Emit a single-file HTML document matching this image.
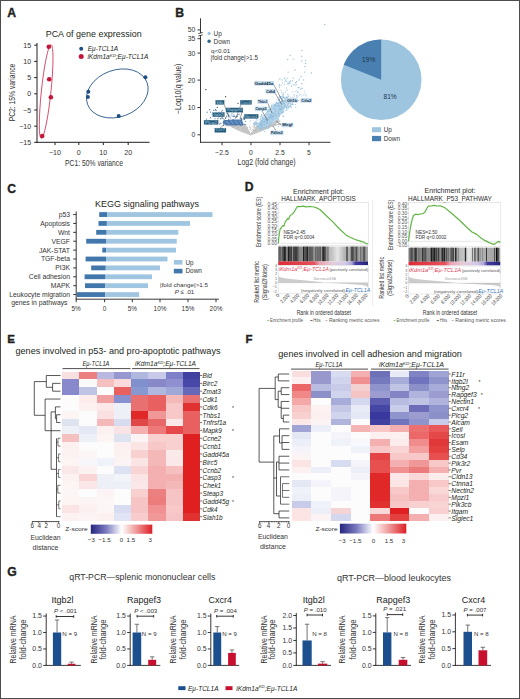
<!DOCTYPE html>
<html><head><meta charset="utf-8"><style>
html,body{margin:0;padding:0;background:#fff;overflow:hidden;width:520px;height:699px;}
svg{display:block;font-family:"Liberation Sans",sans-serif;}
</style></head><body>
<svg width="520" height="699" viewBox="0 0 520 699" fill="#231f20">
<rect x="0" y="0" width="520" height="699" fill="#fff"/>
<text x="7.20" y="17.00" font-size="12.20" font-weight="bold" stroke="#231f20" stroke-width="0.35">A</text>
<text x="93.70" y="36.80" font-size="8.60" text-anchor="middle" textLength="96.00" lengthAdjust="spacingAndGlyphs">PCA of gene expression</text>
<line x1="37.00" y1="43.00" x2="37.00" y2="142.80" stroke="#231f20" stroke-width="1.00" />
<line x1="36.50" y1="142.30" x2="149.50" y2="142.30" stroke="#231f20" stroke-width="1.00" />
<line x1="34.20" y1="45.20" x2="37.00" y2="45.20" stroke="#231f20" stroke-width="1.00" />
<text x="31.20" y="47.70" font-size="7.10" text-anchor="end" fill="#333">15</text>
<line x1="34.20" y1="61.40" x2="37.00" y2="61.40" stroke="#231f20" stroke-width="1.00" />
<text x="31.20" y="63.90" font-size="7.10" text-anchor="end" fill="#333">10</text>
<line x1="34.20" y1="77.60" x2="37.00" y2="77.60" stroke="#231f20" stroke-width="1.00" />
<text x="31.20" y="80.10" font-size="7.10" text-anchor="end" fill="#333">5</text>
<line x1="34.20" y1="93.80" x2="37.00" y2="93.80" stroke="#231f20" stroke-width="1.00" />
<text x="31.20" y="96.30" font-size="7.10" text-anchor="end" fill="#333">0</text>
<line x1="34.20" y1="110.00" x2="37.00" y2="110.00" stroke="#231f20" stroke-width="1.00" />
<text x="31.20" y="112.50" font-size="7.10" text-anchor="end" fill="#333">−5</text>
<line x1="34.20" y1="126.20" x2="37.00" y2="126.20" stroke="#231f20" stroke-width="1.00" />
<text x="31.20" y="128.70" font-size="7.10" text-anchor="end" fill="#333">−10</text>
<line x1="34.20" y1="142.30" x2="37.00" y2="142.30" stroke="#231f20" stroke-width="1.00" />
<text x="31.20" y="144.80" font-size="7.10" text-anchor="end" fill="#333">−15</text>
<line x1="55.00" y1="142.30" x2="55.00" y2="145.10" stroke="#231f20" stroke-width="1.00" />
<text x="55.00" y="154.60" font-size="7.10" text-anchor="middle" fill="#333">−10</text>
<line x1="78.80" y1="142.30" x2="78.80" y2="145.10" stroke="#231f20" stroke-width="1.00" />
<text x="78.80" y="154.60" font-size="7.10" text-anchor="middle" fill="#333">0</text>
<line x1="103.30" y1="142.30" x2="103.30" y2="145.10" stroke="#231f20" stroke-width="1.00" />
<text x="103.30" y="154.60" font-size="7.10" text-anchor="middle" fill="#333">10</text>
<line x1="128.20" y1="142.30" x2="128.20" y2="145.10" stroke="#231f20" stroke-width="1.00" />
<text x="128.20" y="154.60" font-size="7.10" text-anchor="middle" fill="#333">20</text>
<text x="94.00" y="166.20" font-size="8.40" text-anchor="middle" fill="#333" textLength="58.00" lengthAdjust="spacingAndGlyphs">PC1: 50% variance</text>
<text x="14.90" y="92.50" font-size="8.20" text-anchor="middle" fill="#333" textLength="57.70" lengthAdjust="spacingAndGlyphs" transform="rotate(-90.00 14.90 92.50)">PC2: 15% variance</text>
<ellipse cx="46.15" cy="91.5" rx="4.8" ry="47.15" transform="rotate(5.97 46.15 91.5)" fill="none" stroke="#cf3a5a" stroke-width="0.85"/>
<ellipse cx="117.3" cy="93.45" rx="31.7" ry="23.4" transform="rotate(-20.2 117.3 93.45)" fill="none" stroke="#2d5b8c" stroke-width="0.85"/>
<circle cx="48.80" cy="46.70" r="2.30" fill="#c3173a" />
<circle cx="49.20" cy="79.30" r="2.30" fill="#c3173a" />
<circle cx="50.90" cy="97.30" r="2.30" fill="#c3173a" />
<circle cx="42.20" cy="136.00" r="2.30" fill="#c3173a" />
<circle cx="88.30" cy="91.70" r="2.00" fill="#1f4e84" />
<circle cx="87.90" cy="96.90" r="2.00" fill="#1f4e84" />
<circle cx="118.70" cy="116.00" r="2.00" fill="#1f4e84" />
<circle cx="145.40" cy="77.20" r="2.00" fill="#1f4e84" />
<circle cx="81.20" cy="48.80" r="2.00" fill="#1f4e84" />
<text x="87.70" y="50.70" font-size="6.40" font-style="italic" textLength="30.50" lengthAdjust="spacingAndGlyphs">Eμ-TCL1A</text>
<circle cx="81.20" cy="56.60" r="2.50" fill="#c3173a" />
<text x="87.40" y="59.40" font-size="6.40" font-style="italic" textLength="61.00" lengthAdjust="spacingAndGlyphs">iKdm1a<tspan font-size="4.16" dy="-2.24">KD</tspan><tspan dy="2.24">;Eμ-TCL1A</tspan></text>
<text x="175.20" y="16.80" font-size="12.20" font-weight="bold" stroke="#231f20" stroke-width="0.35">B</text>
<line x1="200.50" y1="18.30" x2="200.50" y2="33.00" stroke="#231f20" stroke-width="0.90" />
<line x1="200.50" y1="35.40" x2="200.50" y2="142.70" stroke="#231f20" stroke-width="0.90" />
<line x1="198.30" y1="33.60" x2="202.70" y2="32.40" stroke="#231f20" stroke-width="0.80" />
<line x1="198.30" y1="36.00" x2="202.70" y2="34.80" stroke="#231f20" stroke-width="0.80" />
<line x1="200.10" y1="142.30" x2="330.50" y2="142.30" stroke="#231f20" stroke-width="0.90" />
<line x1="197.50" y1="29.90" x2="200.50" y2="29.90" stroke="#231f20" stroke-width="0.90" />
<text x="195.40" y="32.30" font-size="6.80" text-anchor="end" fill="#333">50</text>
<line x1="197.50" y1="38.70" x2="200.50" y2="38.70" stroke="#231f20" stroke-width="0.90" />
<text x="195.40" y="41.10" font-size="6.80" text-anchor="end" fill="#333">35</text>
<line x1="197.50" y1="53.10" x2="200.50" y2="53.10" stroke="#231f20" stroke-width="0.90" />
<text x="195.40" y="55.50" font-size="6.80" text-anchor="end" fill="#333">30</text>
<line x1="197.50" y1="80.10" x2="200.50" y2="80.10" stroke="#231f20" stroke-width="0.90" />
<text x="195.40" y="82.50" font-size="6.80" text-anchor="end" fill="#333">20</text>
<line x1="197.50" y1="107.50" x2="200.50" y2="107.50" stroke="#231f20" stroke-width="0.90" />
<text x="195.40" y="109.90" font-size="6.80" text-anchor="end" fill="#333">10</text>
<line x1="197.50" y1="134.80" x2="200.50" y2="134.80" stroke="#231f20" stroke-width="0.90" />
<text x="195.40" y="137.20" font-size="6.80" text-anchor="end" fill="#333">0</text>
<line x1="222.00" y1="142.30" x2="222.00" y2="145.30" stroke="#231f20" stroke-width="0.90" />
<text x="222.00" y="155.40" font-size="6.80" text-anchor="middle" fill="#333">−2.5</text>
<line x1="251.00" y1="142.30" x2="251.00" y2="145.30" stroke="#231f20" stroke-width="0.90" />
<text x="251.00" y="155.40" font-size="6.80" text-anchor="middle" fill="#333">0</text>
<line x1="280.00" y1="142.30" x2="280.00" y2="145.30" stroke="#231f20" stroke-width="0.90" />
<text x="280.00" y="155.40" font-size="6.80" text-anchor="middle" fill="#333">2.5</text>
<line x1="309.00" y1="142.30" x2="309.00" y2="145.30" stroke="#231f20" stroke-width="0.90" />
<text x="309.00" y="155.40" font-size="6.80" text-anchor="middle" fill="#333">5</text>
<text x="266.60" y="164.80" font-size="8.40" text-anchor="middle" fill="#333" textLength="58.00" lengthAdjust="spacingAndGlyphs">Log2 (fold change)</text>
<text x="181.40" y="88.80" font-size="8.20" text-anchor="middle" fill="#333" textLength="50.40" lengthAdjust="spacingAndGlyphs" transform="rotate(-90.00 181.40 88.80)">−Log10(q value)</text>
<circle cx="209.10" cy="33.50" r="1.70" fill="#9fc7e2" />
<text x="213.60" y="35.80" font-size="6.40" fill="#333">Up</text>
<circle cx="209.10" cy="41.30" r="1.70" fill="#2f6387" />
<text x="213.60" y="43.60" font-size="6.40" fill="#333">Down</text>
<text x="211.00" y="53.30" font-size="6.20" fill="#333">q&lt;0.01</text>
<text x="210.60" y="59.80" font-size="6.40" fill="#333" textLength="47.30" lengthAdjust="spacingAndGlyphs">|fold change|&gt;1.5</text>
<path d="M222.5,121 Q233,130 250.7,135.4 Q266,130.5 281,121 L278,119.8 L258,123.8 L250.7,133.6 L245.5,124 L226,124.3 Z" stroke="none" stroke-width="0.80" fill="#c9c9c9" />
<circle cx="242.73" cy="125.44" r="0.55" fill="#bfbfbf" />
<circle cx="261.32" cy="124.90" r="0.55" fill="#bfbfbf" />
<circle cx="254.78" cy="127.35" r="0.55" fill="#bfbfbf" />
<circle cx="227.62" cy="125.03" r="0.55" fill="#bfbfbf" />
<circle cx="226.45" cy="124.78" r="0.55" fill="#bfbfbf" />
<circle cx="228.29" cy="124.62" r="0.55" fill="#bfbfbf" />
<circle cx="248.45" cy="131.30" r="0.55" fill="#bfbfbf" />
<circle cx="231.36" cy="125.02" r="0.55" fill="#bfbfbf" />
<circle cx="259.98" cy="130.19" r="0.55" fill="#bfbfbf" />
<circle cx="257.12" cy="127.27" r="0.55" fill="#bfbfbf" />
<circle cx="279.81" cy="124.48" r="0.55" fill="#bfbfbf" />
<circle cx="273.12" cy="124.93" r="0.55" fill="#bfbfbf" />
<circle cx="232.52" cy="124.82" r="0.55" fill="#bfbfbf" />
<circle cx="241.85" cy="129.35" r="0.55" fill="#bfbfbf" />
<circle cx="234.59" cy="126.50" r="0.55" fill="#bfbfbf" />
<circle cx="260.64" cy="126.65" r="0.55" fill="#bfbfbf" />
<circle cx="255.45" cy="124.97" r="0.55" fill="#bfbfbf" />
<circle cx="227.71" cy="124.72" r="0.55" fill="#bfbfbf" />
<circle cx="262.99" cy="126.62" r="0.55" fill="#bfbfbf" />
<circle cx="242.18" cy="128.05" r="0.55" fill="#bfbfbf" />
<circle cx="250.08" cy="127.13" r="0.55" fill="#bfbfbf" />
<circle cx="269.47" cy="126.41" r="0.55" fill="#bfbfbf" />
<circle cx="238.19" cy="127.19" r="0.55" fill="#bfbfbf" />
<circle cx="254.17" cy="131.51" r="0.55" fill="#bfbfbf" />
<circle cx="265.78" cy="125.65" r="0.55" fill="#bfbfbf" />
<circle cx="280.03" cy="124.44" r="0.55" fill="#bfbfbf" />
<circle cx="248.09" cy="130.63" r="0.55" fill="#bfbfbf" />
<circle cx="232.96" cy="125.91" r="0.55" fill="#bfbfbf" />
<circle cx="226.55" cy="124.95" r="0.55" fill="#bfbfbf" />
<circle cx="267.78" cy="126.40" r="0.55" fill="#bfbfbf" />
<circle cx="274.08" cy="124.86" r="0.55" fill="#bfbfbf" />
<circle cx="263.84" cy="127.28" r="0.55" fill="#bfbfbf" />
<circle cx="257.28" cy="127.66" r="0.55" fill="#bfbfbf" />
<circle cx="272.06" cy="126.24" r="0.55" fill="#bfbfbf" />
<circle cx="251.27" cy="130.48" r="0.55" fill="#bfbfbf" />
<circle cx="227.77" cy="125.26" r="0.55" fill="#bfbfbf" />
<circle cx="261.10" cy="130.08" r="0.55" fill="#bfbfbf" />
<circle cx="271.04" cy="125.12" r="0.55" fill="#bfbfbf" />
<circle cx="246.25" cy="129.49" r="0.55" fill="#bfbfbf" />
<circle cx="225.60" cy="124.66" r="0.55" fill="#bfbfbf" />
<circle cx="233.87" cy="124.87" r="0.55" fill="#bfbfbf" />
<circle cx="227.67" cy="125.31" r="0.55" fill="#bfbfbf" />
<circle cx="231.67" cy="125.10" r="0.55" fill="#bfbfbf" />
<circle cx="246.54" cy="131.09" r="0.55" fill="#bfbfbf" />
<circle cx="228.90" cy="125.16" r="0.55" fill="#bfbfbf" />
<circle cx="255.55" cy="131.15" r="0.55" fill="#bfbfbf" />
<circle cx="270.89" cy="126.44" r="0.55" fill="#bfbfbf" />
<circle cx="240.15" cy="126.72" r="0.55" fill="#bfbfbf" />
<circle cx="244.71" cy="130.63" r="0.55" fill="#bfbfbf" />
<circle cx="278.76" cy="124.43" r="0.55" fill="#bfbfbf" />
<circle cx="234.34" cy="125.28" r="0.55" fill="#bfbfbf" />
<circle cx="237.58" cy="126.67" r="0.55" fill="#bfbfbf" />
<circle cx="257.81" cy="126.27" r="0.55" fill="#bfbfbf" />
<circle cx="224.55" cy="124.49" r="0.55" fill="#bfbfbf" />
<circle cx="245.31" cy="128.54" r="0.55" fill="#bfbfbf" />
<circle cx="278.49" cy="124.24" r="0.55" fill="#bfbfbf" />
<circle cx="253.62" cy="129.56" r="0.55" fill="#bfbfbf" />
<circle cx="262.76" cy="124.77" r="0.55" fill="#bfbfbf" />
<circle cx="275.45" cy="125.02" r="0.55" fill="#bfbfbf" />
<circle cx="274.03" cy="125.43" r="0.55" fill="#bfbfbf" />
<circle cx="246.62" cy="127.53" r="0.55" fill="#bfbfbf" />
<circle cx="230.21" cy="125.72" r="0.55" fill="#bfbfbf" />
<circle cx="227.86" cy="124.58" r="0.55" fill="#bfbfbf" />
<circle cx="236.19" cy="125.15" r="0.55" fill="#bfbfbf" />
<circle cx="243.65" cy="124.85" r="0.55" fill="#bfbfbf" />
<circle cx="224.33" cy="124.49" r="0.55" fill="#bfbfbf" />
<circle cx="230.09" cy="125.19" r="0.55" fill="#bfbfbf" />
<circle cx="225.77" cy="124.85" r="0.55" fill="#bfbfbf" />
<circle cx="259.22" cy="125.43" r="0.55" fill="#bfbfbf" />
<circle cx="238.66" cy="126.18" r="0.55" fill="#bfbfbf" />
<circle cx="245.02" cy="125.36" r="0.55" fill="#bfbfbf" />
<circle cx="272.57" cy="126.15" r="0.55" fill="#bfbfbf" />
<circle cx="250.81" cy="128.87" r="0.55" fill="#bfbfbf" />
<circle cx="229.20" cy="124.66" r="0.55" fill="#bfbfbf" />
<circle cx="243.80" cy="126.25" r="0.55" fill="#bfbfbf" />
<circle cx="271.43" cy="124.83" r="0.55" fill="#bfbfbf" />
<circle cx="225.63" cy="124.84" r="0.55" fill="#bfbfbf" />
<circle cx="254.35" cy="125.66" r="0.55" fill="#bfbfbf" />
<circle cx="255.19" cy="124.71" r="0.55" fill="#bfbfbf" />
<circle cx="254.34" cy="132.28" r="0.55" fill="#bfbfbf" />
<circle cx="273.39" cy="125.46" r="0.55" fill="#bfbfbf" />
<circle cx="239.16" cy="126.34" r="0.55" fill="#bfbfbf" />
<circle cx="233.81" cy="126.95" r="0.55" fill="#bfbfbf" />
<circle cx="254.59" cy="130.62" r="0.55" fill="#bfbfbf" />
<circle cx="243.06" cy="125.92" r="0.55" fill="#bfbfbf" />
<circle cx="270.45" cy="126.86" r="0.55" fill="#bfbfbf" />
<circle cx="272.78" cy="125.78" r="0.55" fill="#bfbfbf" />
<circle cx="270.83" cy="126.17" r="0.55" fill="#bfbfbf" />
<circle cx="237.21" cy="126.75" r="0.55" fill="#bfbfbf" />
<circle cx="244.53" cy="124.70" r="0.55" fill="#bfbfbf" />
<circle cx="225.91" cy="124.63" r="0.55" fill="#bfbfbf" />
<circle cx="239.05" cy="127.95" r="0.55" fill="#bfbfbf" />
<circle cx="278.69" cy="124.30" r="0.55" fill="#bfbfbf" />
<circle cx="277.58" cy="124.44" r="0.55" fill="#bfbfbf" />
<circle cx="278.60" cy="124.35" r="0.55" fill="#bfbfbf" />
<circle cx="236.85" cy="125.46" r="0.55" fill="#bfbfbf" />
<circle cx="235.50" cy="125.27" r="0.55" fill="#bfbfbf" />
<circle cx="259.79" cy="129.96" r="0.55" fill="#bfbfbf" />
<circle cx="272.09" cy="125.38" r="0.55" fill="#bfbfbf" />
<circle cx="261.44" cy="128.90" r="0.55" fill="#bfbfbf" />
<circle cx="229.14" cy="125.53" r="0.55" fill="#bfbfbf" />
<circle cx="276.03" cy="124.87" r="0.55" fill="#bfbfbf" />
<circle cx="266.96" cy="126.22" r="0.55" fill="#bfbfbf" />
<circle cx="234.47" cy="127.18" r="0.55" fill="#bfbfbf" />
<circle cx="243.22" cy="129.64" r="0.55" fill="#bfbfbf" />
<circle cx="279.55" cy="124.30" r="0.55" fill="#bfbfbf" />
<circle cx="247.13" cy="131.85" r="0.55" fill="#bfbfbf" />
<circle cx="265.52" cy="125.20" r="0.55" fill="#bfbfbf" />
<circle cx="231.54" cy="124.86" r="0.55" fill="#bfbfbf" />
<circle cx="275.75" cy="124.96" r="0.55" fill="#bfbfbf" />
<circle cx="232.63" cy="126.79" r="0.55" fill="#bfbfbf" />
<circle cx="280.04" cy="124.17" r="0.55" fill="#bfbfbf" />
<circle cx="244.24" cy="128.21" r="0.55" fill="#bfbfbf" />
<circle cx="231.77" cy="124.54" r="0.55" fill="#bfbfbf" />
<circle cx="279.51" cy="124.18" r="0.55" fill="#bfbfbf" />
<circle cx="254.25" cy="131.95" r="0.55" fill="#bfbfbf" />
<circle cx="248.98" cy="131.82" r="0.55" fill="#bfbfbf" />
<circle cx="271.28" cy="124.94" r="0.55" fill="#bfbfbf" />
<circle cx="238.63" cy="125.92" r="0.55" fill="#bfbfbf" />
<circle cx="237.99" cy="127.21" r="0.55" fill="#bfbfbf" />
<circle cx="239.06" cy="126.59" r="0.55" fill="#bfbfbf" />
<circle cx="231.77" cy="126.75" r="0.55" fill="#bfbfbf" />
<circle cx="244.43" cy="127.63" r="0.55" fill="#bfbfbf" />
<circle cx="257.48" cy="130.71" r="0.55" fill="#bfbfbf" />
<circle cx="248.23" cy="131.97" r="0.55" fill="#bfbfbf" />
<circle cx="252.83" cy="129.00" r="0.55" fill="#bfbfbf" />
<circle cx="254.08" cy="124.65" r="0.55" fill="#bfbfbf" />
<circle cx="249.34" cy="126.06" r="0.55" fill="#bfbfbf" />
<circle cx="224.54" cy="124.48" r="0.55" fill="#bfbfbf" />
<circle cx="234.12" cy="126.05" r="0.55" fill="#bfbfbf" />
<circle cx="265.54" cy="126.77" r="0.55" fill="#bfbfbf" />
<circle cx="242.85" cy="127.76" r="0.55" fill="#bfbfbf" />
<circle cx="255.89" cy="130.31" r="0.55" fill="#bfbfbf" />
<circle cx="230.35" cy="125.61" r="0.55" fill="#bfbfbf" />
<circle cx="238.44" cy="125.82" r="0.55" fill="#bfbfbf" />
<circle cx="268.22" cy="126.11" r="0.55" fill="#bfbfbf" />
<circle cx="256.25" cy="130.04" r="0.55" fill="#bfbfbf" />
<circle cx="276.19" cy="124.68" r="0.55" fill="#bfbfbf" />
<circle cx="259.14" cy="127.68" r="0.55" fill="#bfbfbf" />
<circle cx="253.43" cy="130.22" r="0.55" fill="#bfbfbf" />
<circle cx="250.03" cy="129.17" r="0.55" fill="#bfbfbf" />
<circle cx="251.49" cy="132.91" r="0.55" fill="#bfbfbf" />
<circle cx="264.06" cy="128.53" r="0.55" fill="#bfbfbf" />
<circle cx="277.87" cy="124.46" r="0.55" fill="#bfbfbf" />
<circle cx="256.12" cy="131.42" r="0.55" fill="#bfbfbf" />
<circle cx="272.07" cy="124.75" r="0.55" fill="#bfbfbf" />
<circle cx="231.23" cy="125.51" r="0.55" fill="#bfbfbf" />
<circle cx="228.44" cy="124.82" r="0.55" fill="#bfbfbf" />
<circle cx="228.48" cy="125.39" r="0.55" fill="#bfbfbf" />
<circle cx="268.88" cy="127.13" r="0.55" fill="#bfbfbf" />
<circle cx="233.10" cy="126.60" r="0.55" fill="#bfbfbf" />
<circle cx="261.85" cy="125.27" r="0.55" fill="#bfbfbf" />
<circle cx="274.50" cy="125.46" r="0.55" fill="#bfbfbf" />
<circle cx="236.80" cy="128.50" r="0.55" fill="#bfbfbf" />
<circle cx="246.96" cy="128.25" r="0.55" fill="#bfbfbf" />
<circle cx="280.58" cy="124.08" r="0.55" fill="#bfbfbf" />
<circle cx="233.50" cy="125.82" r="0.55" fill="#bfbfbf" />
<circle cx="253.63" cy="127.28" r="0.55" fill="#bfbfbf" />
<circle cx="235.45" cy="125.69" r="0.55" fill="#bfbfbf" />
<circle cx="265.37" cy="124.58" r="0.55" fill="#bfbfbf" />
<circle cx="255.81" cy="127.78" r="0.55" fill="#bfbfbf" />
<circle cx="225.35" cy="124.58" r="0.55" fill="#bfbfbf" />
<circle cx="259.78" cy="127.61" r="0.55" fill="#bfbfbf" />
<circle cx="227.97" cy="125.64" r="0.55" fill="#bfbfbf" />
<circle cx="269.13" cy="127.27" r="0.55" fill="#bfbfbf" />
<circle cx="230.28" cy="125.02" r="0.55" fill="#bfbfbf" />
<circle cx="226.57" cy="125.03" r="0.55" fill="#bfbfbf" />
<circle cx="239.69" cy="125.17" r="0.55" fill="#bfbfbf" />
<circle cx="248.32" cy="131.95" r="0.55" fill="#bfbfbf" />
<circle cx="270.87" cy="125.08" r="0.55" fill="#bfbfbf" />
<circle cx="232.81" cy="127.10" r="0.55" fill="#bfbfbf" />
<circle cx="256.75" cy="129.48" r="0.55" fill="#bfbfbf" />
<circle cx="229.41" cy="124.60" r="0.55" fill="#bfbfbf" />
<circle cx="263.44" cy="126.55" r="0.55" fill="#bfbfbf" />
<circle cx="228.44" cy="125.74" r="0.55" fill="#bfbfbf" />
<circle cx="260.38" cy="129.20" r="0.55" fill="#bfbfbf" />
<circle cx="229.08" cy="125.82" r="0.55" fill="#bfbfbf" />
<circle cx="228.11" cy="125.54" r="0.55" fill="#bfbfbf" />
<circle cx="250.11" cy="127.48" r="0.55" fill="#bfbfbf" />
<circle cx="255.76" cy="131.41" r="0.55" fill="#bfbfbf" />
<circle cx="239.55" cy="125.17" r="0.55" fill="#bfbfbf" />
<circle cx="254.27" cy="126.40" r="0.55" fill="#bfbfbf" />
<circle cx="230.54" cy="124.83" r="0.55" fill="#bfbfbf" />
<circle cx="227.18" cy="124.68" r="0.55" fill="#bfbfbf" />
<circle cx="242.05" cy="126.33" r="0.55" fill="#bfbfbf" />
<circle cx="267.49" cy="125.49" r="0.55" fill="#bfbfbf" />
<circle cx="252.75" cy="126.01" r="0.55" fill="#bfbfbf" />
<circle cx="244.04" cy="124.62" r="0.55" fill="#bfbfbf" />
<circle cx="238.56" cy="124.57" r="0.55" fill="#bfbfbf" />
<circle cx="265.99" cy="126.67" r="0.55" fill="#bfbfbf" />
<circle cx="235.09" cy="126.22" r="0.55" fill="#bfbfbf" />
<circle cx="277.45" cy="124.50" r="0.55" fill="#bfbfbf" />
<circle cx="270.87" cy="125.47" r="0.55" fill="#bfbfbf" />
<circle cx="252.46" cy="131.68" r="0.55" fill="#bfbfbf" />
<circle cx="246.66" cy="128.35" r="0.55" fill="#bfbfbf" />
<circle cx="263.41" cy="129.24" r="0.55" fill="#bfbfbf" />
<circle cx="243.80" cy="130.01" r="0.55" fill="#bfbfbf" />
<circle cx="264.49" cy="127.33" r="0.55" fill="#bfbfbf" />
<circle cx="247.32" cy="127.22" r="0.55" fill="#bfbfbf" />
<circle cx="227.41" cy="124.63" r="0.55" fill="#bfbfbf" />
<path d="M257,125 L262,118 L267,111 L273.5,104.3 L281.5,100.5 L285,101.5 L286,106 L283,112 L277,119.5 L271.5,124 L265,127 L259,128.5 Z" stroke="none" stroke-width="0.80" fill="#b3d4ea" />
<circle cx="258.60" cy="125.05" r="0.60" fill="#96bfdc" />
<circle cx="286.55" cy="102.49" r="0.60" fill="#96bfdc" />
<circle cx="267.08" cy="118.37" r="0.60" fill="#96bfdc" />
<circle cx="271.94" cy="117.02" r="0.60" fill="#96bfdc" />
<circle cx="286.99" cy="97.70" r="0.60" fill="#96bfdc" />
<circle cx="269.05" cy="116.17" r="0.60" fill="#96bfdc" />
<circle cx="270.85" cy="111.33" r="0.60" fill="#96bfdc" />
<circle cx="266.39" cy="119.87" r="0.60" fill="#96bfdc" />
<circle cx="260.75" cy="128.21" r="0.60" fill="#96bfdc" />
<circle cx="278.03" cy="113.75" r="0.60" fill="#96bfdc" />
<circle cx="282.03" cy="106.85" r="0.60" fill="#96bfdc" />
<circle cx="268.68" cy="128.18" r="0.60" fill="#96bfdc" />
<circle cx="259.90" cy="127.50" r="0.60" fill="#96bfdc" />
<circle cx="281.28" cy="101.23" r="0.60" fill="#96bfdc" />
<circle cx="274.88" cy="115.47" r="0.60" fill="#96bfdc" />
<circle cx="282.79" cy="96.53" r="0.60" fill="#96bfdc" />
<circle cx="266.09" cy="121.45" r="0.60" fill="#96bfdc" />
<circle cx="284.51" cy="103.23" r="0.60" fill="#96bfdc" />
<circle cx="275.50" cy="109.31" r="0.60" fill="#96bfdc" />
<circle cx="280.80" cy="105.38" r="0.60" fill="#96bfdc" />
<circle cx="283.32" cy="111.91" r="0.60" fill="#96bfdc" />
<circle cx="266.76" cy="119.69" r="0.60" fill="#96bfdc" />
<circle cx="284.39" cy="107.81" r="0.60" fill="#96bfdc" />
<circle cx="281.75" cy="107.87" r="0.60" fill="#96bfdc" />
<circle cx="279.77" cy="109.67" r="0.60" fill="#96bfdc" />
<circle cx="271.38" cy="122.56" r="0.60" fill="#96bfdc" />
<circle cx="259.71" cy="124.23" r="0.60" fill="#96bfdc" />
<circle cx="261.92" cy="114.66" r="0.60" fill="#96bfdc" />
<circle cx="277.74" cy="118.55" r="0.60" fill="#96bfdc" />
<circle cx="295.87" cy="107.06" r="0.60" fill="#96bfdc" />
<circle cx="286.77" cy="106.03" r="0.60" fill="#96bfdc" />
<circle cx="290.30" cy="102.70" r="0.60" fill="#96bfdc" />
<circle cx="254.79" cy="117.54" r="0.60" fill="#96bfdc" />
<circle cx="278.44" cy="114.93" r="0.60" fill="#96bfdc" />
<circle cx="266.58" cy="122.87" r="0.60" fill="#96bfdc" />
<circle cx="272.62" cy="113.03" r="0.60" fill="#96bfdc" />
<circle cx="260.91" cy="121.64" r="0.60" fill="#96bfdc" />
<circle cx="281.85" cy="104.67" r="0.60" fill="#96bfdc" />
<circle cx="284.56" cy="98.56" r="0.60" fill="#96bfdc" />
<circle cx="273.56" cy="118.12" r="0.60" fill="#96bfdc" />
<circle cx="267.24" cy="115.03" r="0.60" fill="#96bfdc" />
<circle cx="284.50" cy="105.45" r="0.60" fill="#96bfdc" />
<circle cx="265.86" cy="119.81" r="0.60" fill="#96bfdc" />
<circle cx="292.07" cy="100.48" r="0.60" fill="#96bfdc" />
<circle cx="282.33" cy="112.68" r="0.60" fill="#96bfdc" />
<circle cx="257.23" cy="123.17" r="0.60" fill="#96bfdc" />
<circle cx="279.96" cy="105.99" r="0.60" fill="#96bfdc" />
<circle cx="262.35" cy="125.34" r="0.60" fill="#96bfdc" />
<circle cx="264.13" cy="117.76" r="0.60" fill="#96bfdc" />
<circle cx="270.11" cy="121.86" r="0.60" fill="#96bfdc" />
<circle cx="263.96" cy="124.09" r="0.60" fill="#96bfdc" />
<circle cx="264.73" cy="116.99" r="0.60" fill="#96bfdc" />
<circle cx="273.38" cy="115.85" r="0.60" fill="#96bfdc" />
<circle cx="261.38" cy="126.46" r="0.60" fill="#96bfdc" />
<circle cx="278.34" cy="113.01" r="0.60" fill="#96bfdc" />
<circle cx="275.23" cy="113.89" r="0.60" fill="#96bfdc" />
<circle cx="259.90" cy="124.82" r="0.60" fill="#96bfdc" />
<circle cx="280.41" cy="110.48" r="0.60" fill="#96bfdc" />
<circle cx="266.78" cy="116.83" r="0.60" fill="#96bfdc" />
<circle cx="287.36" cy="104.47" r="0.60" fill="#96bfdc" />
<circle cx="254.97" cy="123.31" r="0.60" fill="#96bfdc" />
<circle cx="256.19" cy="129.04" r="0.60" fill="#96bfdc" />
<circle cx="287.00" cy="107.51" r="0.60" fill="#96bfdc" />
<circle cx="262.19" cy="123.61" r="0.60" fill="#96bfdc" />
<circle cx="286.24" cy="99.11" r="0.60" fill="#96bfdc" />
<circle cx="273.58" cy="108.46" r="0.60" fill="#96bfdc" />
<circle cx="267.53" cy="123.49" r="0.60" fill="#96bfdc" />
<circle cx="265.83" cy="119.86" r="0.60" fill="#96bfdc" />
<circle cx="264.09" cy="125.86" r="0.60" fill="#96bfdc" />
<circle cx="262.95" cy="119.10" r="0.60" fill="#96bfdc" />
<circle cx="260.83" cy="110.36" r="0.60" fill="#96bfdc" />
<circle cx="268.33" cy="109.55" r="0.60" fill="#96bfdc" />
<circle cx="287.39" cy="99.66" r="0.60" fill="#96bfdc" />
<circle cx="279.15" cy="108.24" r="0.60" fill="#96bfdc" />
<circle cx="280.49" cy="110.26" r="0.60" fill="#96bfdc" />
<circle cx="271.18" cy="114.72" r="0.60" fill="#96bfdc" />
<circle cx="282.14" cy="104.40" r="0.60" fill="#96bfdc" />
<circle cx="274.40" cy="124.17" r="0.60" fill="#96bfdc" />
<circle cx="263.79" cy="121.84" r="0.60" fill="#96bfdc" />
<circle cx="262.38" cy="121.65" r="0.60" fill="#96bfdc" />
<circle cx="280.25" cy="108.60" r="0.60" fill="#96bfdc" />
<circle cx="290.47" cy="100.16" r="0.60" fill="#96bfdc" />
<circle cx="255.52" cy="121.94" r="0.60" fill="#96bfdc" />
<circle cx="287.64" cy="94.77" r="0.60" fill="#96bfdc" />
<circle cx="266.72" cy="127.18" r="0.60" fill="#96bfdc" />
<circle cx="269.78" cy="117.45" r="0.60" fill="#96bfdc" />
<circle cx="264.78" cy="122.79" r="0.60" fill="#96bfdc" />
<circle cx="267.03" cy="128.67" r="0.60" fill="#96bfdc" />
<circle cx="269.61" cy="118.55" r="0.60" fill="#96bfdc" />
<circle cx="271.73" cy="115.23" r="0.60" fill="#96bfdc" />
<circle cx="260.87" cy="118.63" r="0.60" fill="#96bfdc" />
<circle cx="284.34" cy="103.70" r="0.60" fill="#96bfdc" />
<circle cx="264.45" cy="131.52" r="0.60" fill="#96bfdc" />
<circle cx="290.79" cy="106.09" r="0.60" fill="#96bfdc" />
<circle cx="286.62" cy="97.48" r="0.60" fill="#96bfdc" />
<circle cx="265.13" cy="116.74" r="0.60" fill="#96bfdc" />
<circle cx="281.51" cy="96.84" r="0.60" fill="#96bfdc" />
<circle cx="274.89" cy="112.85" r="0.60" fill="#96bfdc" />
<circle cx="270.58" cy="113.48" r="0.60" fill="#96bfdc" />
<circle cx="263.72" cy="120.40" r="0.60" fill="#96bfdc" />
<circle cx="283.60" cy="103.26" r="0.60" fill="#96bfdc" />
<circle cx="271.10" cy="118.20" r="0.60" fill="#96bfdc" />
<circle cx="262.95" cy="121.56" r="0.60" fill="#96bfdc" />
<circle cx="274.49" cy="113.75" r="0.60" fill="#96bfdc" />
<circle cx="288.22" cy="103.88" r="0.60" fill="#96bfdc" />
<circle cx="273.84" cy="112.10" r="0.60" fill="#96bfdc" />
<circle cx="262.03" cy="116.19" r="0.60" fill="#96bfdc" />
<circle cx="280.76" cy="98.02" r="0.60" fill="#96bfdc" />
<circle cx="284.80" cy="100.52" r="0.60" fill="#96bfdc" />
<circle cx="266.75" cy="125.14" r="0.60" fill="#96bfdc" />
<circle cx="264.01" cy="124.74" r="0.60" fill="#96bfdc" />
<circle cx="291.58" cy="100.59" r="0.60" fill="#96bfdc" />
<circle cx="276.94" cy="99.74" r="0.60" fill="#96bfdc" />
<circle cx="286.82" cy="103.22" r="0.60" fill="#96bfdc" />
<circle cx="258.35" cy="126.46" r="0.60" fill="#96bfdc" />
<circle cx="283.68" cy="116.42" r="0.60" fill="#96bfdc" />
<circle cx="283.79" cy="100.31" r="0.60" fill="#96bfdc" />
<circle cx="253.16" cy="116.72" r="0.60" fill="#96bfdc" />
<circle cx="263.50" cy="119.90" r="0.60" fill="#96bfdc" />
<circle cx="278.45" cy="111.05" r="0.60" fill="#96bfdc" />
<circle cx="256.54" cy="125.12" r="0.60" fill="#96bfdc" />
<circle cx="266.14" cy="122.04" r="0.60" fill="#96bfdc" />
<circle cx="261.74" cy="125.98" r="0.60" fill="#96bfdc" />
<circle cx="259.45" cy="124.48" r="0.60" fill="#96bfdc" />
<circle cx="270.71" cy="115.46" r="0.60" fill="#96bfdc" />
<circle cx="274.50" cy="110.70" r="0.60" fill="#96bfdc" />
<circle cx="288.07" cy="105.03" r="0.60" fill="#96bfdc" />
<circle cx="269.56" cy="125.29" r="0.60" fill="#96bfdc" />
<circle cx="271.43" cy="116.71" r="0.60" fill="#96bfdc" />
<circle cx="261.36" cy="120.39" r="0.60" fill="#96bfdc" />
<circle cx="278.94" cy="108.71" r="0.60" fill="#96bfdc" />
<circle cx="272.24" cy="111.21" r="0.60" fill="#96bfdc" />
<circle cx="275.18" cy="111.24" r="0.60" fill="#96bfdc" />
<circle cx="289.33" cy="99.74" r="0.60" fill="#96bfdc" />
<circle cx="291.04" cy="104.87" r="0.60" fill="#96bfdc" />
<circle cx="272.75" cy="116.99" r="0.60" fill="#96bfdc" />
<circle cx="287.93" cy="105.80" r="0.60" fill="#96bfdc" />
<circle cx="287.88" cy="104.60" r="0.60" fill="#96bfdc" />
<circle cx="262.13" cy="117.66" r="0.60" fill="#96bfdc" />
<circle cx="265.81" cy="118.65" r="0.60" fill="#96bfdc" />
<circle cx="253.64" cy="123.46" r="0.60" fill="#96bfdc" />
<circle cx="261.29" cy="124.07" r="0.60" fill="#96bfdc" />
<circle cx="277.50" cy="106.93" r="0.60" fill="#96bfdc" />
<circle cx="276.52" cy="106.84" r="0.60" fill="#96bfdc" />
<circle cx="254.84" cy="124.18" r="0.60" fill="#96bfdc" />
<circle cx="286.82" cy="109.11" r="0.60" fill="#96bfdc" />
<circle cx="273.98" cy="113.99" r="0.60" fill="#96bfdc" />
<circle cx="271.85" cy="114.66" r="0.60" fill="#96bfdc" />
<circle cx="282.46" cy="112.57" r="0.60" fill="#96bfdc" />
<circle cx="254.83" cy="122.22" r="0.60" fill="#96bfdc" />
<circle cx="293.06" cy="104.54" r="0.60" fill="#96bfdc" />
<circle cx="284.57" cy="105.91" r="0.60" fill="#96bfdc" />
<circle cx="278.54" cy="119.42" r="0.60" fill="#96bfdc" />
<circle cx="292.49" cy="104.48" r="0.60" fill="#96bfdc" />
<circle cx="286.50" cy="107.90" r="0.60" fill="#96bfdc" />
<circle cx="264.84" cy="127.71" r="0.60" fill="#96bfdc" />
<circle cx="264.56" cy="120.58" r="0.60" fill="#96bfdc" />
<circle cx="264.67" cy="124.38" r="0.60" fill="#96bfdc" />
<circle cx="280.43" cy="108.70" r="0.60" fill="#96bfdc" />
<circle cx="272.72" cy="109.59" r="0.60" fill="#96bfdc" />
<circle cx="282.10" cy="98.69" r="0.60" fill="#96bfdc" />
<circle cx="288.36" cy="96.62" r="0.60" fill="#96bfdc" />
<circle cx="284.99" cy="102.27" r="0.60" fill="#96bfdc" />
<circle cx="280.57" cy="103.85" r="0.60" fill="#96bfdc" />
<circle cx="286.75" cy="110.17" r="0.60" fill="#96bfdc" />
<circle cx="292.32" cy="101.56" r="0.60" fill="#96bfdc" />
<circle cx="268.03" cy="119.46" r="0.60" fill="#96bfdc" />
<circle cx="272.58" cy="117.31" r="0.60" fill="#96bfdc" />
<circle cx="263.07" cy="123.80" r="0.60" fill="#96bfdc" />
<circle cx="269.33" cy="117.32" r="0.60" fill="#96bfdc" />
<circle cx="260.75" cy="117.78" r="0.60" fill="#96bfdc" />
<circle cx="277.54" cy="118.61" r="0.60" fill="#96bfdc" />
<circle cx="266.04" cy="119.34" r="0.60" fill="#96bfdc" />
<circle cx="278.13" cy="100.60" r="0.60" fill="#96bfdc" />
<circle cx="254.44" cy="123.69" r="0.60" fill="#96bfdc" />
<circle cx="275.99" cy="116.65" r="0.60" fill="#96bfdc" />
<circle cx="265.73" cy="119.46" r="0.60" fill="#96bfdc" />
<circle cx="265.60" cy="120.19" r="0.60" fill="#96bfdc" />
<circle cx="250.71" cy="120.96" r="0.60" fill="#96bfdc" />
<circle cx="277.33" cy="110.71" r="0.60" fill="#96bfdc" />
<circle cx="285.51" cy="104.37" r="0.60" fill="#96bfdc" />
<circle cx="287.42" cy="100.47" r="0.60" fill="#96bfdc" />
<circle cx="258.61" cy="127.71" r="0.60" fill="#96bfdc" />
<circle cx="272.95" cy="115.31" r="0.60" fill="#96bfdc" />
<circle cx="267.21" cy="122.63" r="0.60" fill="#96bfdc" />
<circle cx="280.58" cy="97.56" r="0.60" fill="#96bfdc" />
<circle cx="271.45" cy="105.78" r="0.60" fill="#96bfdc" />
<circle cx="278.42" cy="107.92" r="0.60" fill="#96bfdc" />
<circle cx="288.19" cy="103.71" r="0.60" fill="#96bfdc" />
<circle cx="292.60" cy="103.15" r="0.60" fill="#96bfdc" />
<circle cx="285.62" cy="101.71" r="0.60" fill="#96bfdc" />
<circle cx="276.64" cy="102.42" r="0.60" fill="#96bfdc" />
<circle cx="273.68" cy="116.29" r="0.60" fill="#96bfdc" />
<circle cx="278.03" cy="103.36" r="0.60" fill="#96bfdc" />
<circle cx="262.99" cy="120.55" r="0.60" fill="#96bfdc" />
<circle cx="258.53" cy="126.85" r="0.60" fill="#96bfdc" />
<circle cx="268.94" cy="118.89" r="0.60" fill="#96bfdc" />
<circle cx="278.56" cy="108.15" r="0.60" fill="#96bfdc" />
<circle cx="256.60" cy="123.69" r="0.60" fill="#96bfdc" />
<circle cx="283.33" cy="97.41" r="0.60" fill="#96bfdc" />
<circle cx="288.25" cy="101.82" r="0.60" fill="#96bfdc" />
<circle cx="260.24" cy="125.77" r="0.60" fill="#96bfdc" />
<circle cx="278.65" cy="110.24" r="0.60" fill="#96bfdc" />
<circle cx="261.46" cy="124.69" r="0.60" fill="#96bfdc" />
<circle cx="267.11" cy="117.22" r="0.60" fill="#96bfdc" />
<circle cx="282.34" cy="109.09" r="0.60" fill="#96bfdc" />
<circle cx="283.50" cy="93.59" r="0.60" fill="#96bfdc" />
<circle cx="268.90" cy="115.24" r="0.60" fill="#96bfdc" />
<circle cx="266.55" cy="116.42" r="0.60" fill="#96bfdc" />
<circle cx="265.46" cy="129.07" r="0.60" fill="#96bfdc" />
<circle cx="259.70" cy="128.41" r="0.60" fill="#96bfdc" />
<circle cx="271.74" cy="112.83" r="0.60" fill="#96bfdc" />
<circle cx="260.62" cy="119.54" r="0.60" fill="#96bfdc" />
<circle cx="286.20" cy="98.48" r="0.60" fill="#96bfdc" />
<circle cx="278.78" cy="105.14" r="0.60" fill="#96bfdc" />
<circle cx="281.70" cy="101.65" r="0.60" fill="#96bfdc" />
<circle cx="276.68" cy="105.45" r="0.60" fill="#96bfdc" />
<circle cx="263.47" cy="127.85" r="0.60" fill="#96bfdc" />
<circle cx="265.04" cy="119.56" r="0.60" fill="#96bfdc" />
<circle cx="286.24" cy="102.45" r="0.60" fill="#96bfdc" />
<circle cx="273.33" cy="111.15" r="0.60" fill="#96bfdc" />
<circle cx="266.66" cy="117.13" r="0.60" fill="#96bfdc" />
<circle cx="278.28" cy="106.12" r="0.60" fill="#96bfdc" />
<circle cx="278.48" cy="112.74" r="0.60" fill="#96bfdc" />
<circle cx="286.86" cy="100.97" r="0.60" fill="#96bfdc" />
<circle cx="289.09" cy="107.00" r="0.60" fill="#96bfdc" />
<circle cx="264.51" cy="118.78" r="0.60" fill="#96bfdc" />
<circle cx="266.56" cy="123.30" r="0.60" fill="#96bfdc" />
<circle cx="261.49" cy="123.12" r="0.60" fill="#96bfdc" />
<circle cx="288.30" cy="108.04" r="0.60" fill="#96bfdc" />
<circle cx="262.35" cy="120.75" r="0.60" fill="#96bfdc" />
<circle cx="259.56" cy="129.64" r="0.60" fill="#96bfdc" />
<circle cx="276.06" cy="102.53" r="0.60" fill="#96bfdc" />
<circle cx="276.18" cy="110.76" r="0.60" fill="#96bfdc" />
<circle cx="284.22" cy="97.47" r="0.60" fill="#96bfdc" />
<circle cx="261.43" cy="115.52" r="0.60" fill="#96bfdc" />
<circle cx="279.43" cy="102.31" r="0.60" fill="#96bfdc" />
<circle cx="268.05" cy="111.64" r="0.60" fill="#96bfdc" />
<circle cx="256.78" cy="119.71" r="0.60" fill="#96bfdc" />
<circle cx="260.77" cy="116.55" r="0.60" fill="#96bfdc" />
<circle cx="274.75" cy="106.14" r="0.60" fill="#96bfdc" />
<circle cx="278.01" cy="106.31" r="0.60" fill="#96bfdc" />
<circle cx="273.87" cy="112.97" r="0.60" fill="#96bfdc" />
<circle cx="283.27" cy="103.46" r="0.60" fill="#96bfdc" />
<circle cx="256.88" cy="120.82" r="0.60" fill="#96bfdc" />
<circle cx="275.39" cy="104.23" r="0.60" fill="#96bfdc" />
<circle cx="272.12" cy="116.46" r="0.60" fill="#96bfdc" />
<circle cx="281.36" cy="104.42" r="0.60" fill="#96bfdc" />
<circle cx="270.98" cy="118.59" r="0.60" fill="#96bfdc" />
<circle cx="269.99" cy="115.86" r="0.60" fill="#96bfdc" />
<circle cx="269.00" cy="116.48" r="0.60" fill="#96bfdc" />
<circle cx="268.28" cy="107.08" r="0.60" fill="#96bfdc" />
<circle cx="270.68" cy="116.27" r="0.60" fill="#96bfdc" />
<circle cx="272.07" cy="104.00" r="0.60" fill="#96bfdc" />
<circle cx="266.74" cy="121.71" r="0.60" fill="#96bfdc" />
<circle cx="279.46" cy="99.68" r="0.60" fill="#96bfdc" />
<circle cx="279.78" cy="113.52" r="0.60" fill="#96bfdc" />
<circle cx="269.55" cy="123.95" r="0.60" fill="#96bfdc" />
<circle cx="271.19" cy="114.58" r="0.60" fill="#96bfdc" />
<circle cx="262.63" cy="118.82" r="0.60" fill="#96bfdc" />
<circle cx="267.67" cy="110.50" r="0.60" fill="#96bfdc" />
<circle cx="291.32" cy="107.60" r="0.60" fill="#96bfdc" />
<circle cx="286.78" cy="101.74" r="0.60" fill="#96bfdc" />
<circle cx="256.12" cy="123.41" r="0.60" fill="#96bfdc" />
<circle cx="279.02" cy="108.43" r="0.60" fill="#96bfdc" />
<circle cx="283.89" cy="106.50" r="0.60" fill="#96bfdc" />
<circle cx="286.79" cy="102.27" r="0.60" fill="#96bfdc" />
<circle cx="279.62" cy="100.16" r="0.60" fill="#96bfdc" />
<circle cx="283.50" cy="104.66" r="0.60" fill="#96bfdc" />
<circle cx="276.84" cy="103.15" r="0.60" fill="#96bfdc" />
<circle cx="275.72" cy="111.47" r="0.60" fill="#96bfdc" />
<circle cx="260.91" cy="127.84" r="0.60" fill="#96bfdc" />
<circle cx="269.86" cy="109.46" r="0.60" fill="#96bfdc" />
<circle cx="283.50" cy="102.64" r="0.60" fill="#96bfdc" />
<circle cx="279.71" cy="106.90" r="0.60" fill="#96bfdc" />
<circle cx="262.10" cy="127.09" r="0.60" fill="#96bfdc" />
<circle cx="254.01" cy="123.83" r="0.60" fill="#96bfdc" />
<circle cx="287.47" cy="97.44" r="0.60" fill="#96bfdc" />
<circle cx="291.09" cy="104.53" r="0.60" fill="#96bfdc" />
<circle cx="283.09" cy="101.12" r="0.60" fill="#96bfdc" />
<circle cx="274.04" cy="111.04" r="0.60" fill="#96bfdc" />
<circle cx="276.71" cy="111.32" r="0.60" fill="#96bfdc" />
<circle cx="282.22" cy="100.21" r="0.60" fill="#96bfdc" />
<circle cx="291.55" cy="100.44" r="0.60" fill="#96bfdc" />
<circle cx="267.60" cy="115.26" r="0.60" fill="#96bfdc" />
<circle cx="282.14" cy="102.68" r="0.60" fill="#96bfdc" />
<circle cx="285.33" cy="100.46" r="0.60" fill="#96bfdc" />
<circle cx="264.52" cy="121.13" r="0.60" fill="#96bfdc" />
<circle cx="278.45" cy="108.30" r="0.60" fill="#96bfdc" />
<circle cx="274.91" cy="105.14" r="0.60" fill="#96bfdc" />
<circle cx="281.56" cy="106.55" r="0.60" fill="#96bfdc" />
<circle cx="261.63" cy="125.51" r="0.60" fill="#96bfdc" />
<circle cx="285.34" cy="106.66" r="0.60" fill="#96bfdc" />
<circle cx="286.07" cy="107.58" r="0.60" fill="#96bfdc" />
<circle cx="265.21" cy="114.86" r="0.60" fill="#96bfdc" />
<circle cx="290.43" cy="101.99" r="0.60" fill="#96bfdc" />
<circle cx="262.90" cy="127.48" r="0.60" fill="#96bfdc" />
<circle cx="269.77" cy="111.38" r="0.60" fill="#96bfdc" />
<circle cx="282.69" cy="115.83" r="0.60" fill="#96bfdc" />
<circle cx="260.46" cy="123.92" r="0.60" fill="#96bfdc" />
<circle cx="262.28" cy="122.66" r="0.60" fill="#96bfdc" />
<circle cx="289.00" cy="98.78" r="0.60" fill="#96bfdc" />
<circle cx="265.68" cy="127.62" r="0.60" fill="#96bfdc" />
<circle cx="268.88" cy="126.49" r="0.60" fill="#96bfdc" />
<circle cx="282.21" cy="110.21" r="0.60" fill="#96bfdc" />
<circle cx="280.52" cy="108.92" r="0.60" fill="#96bfdc" />
<circle cx="269.28" cy="123.99" r="0.60" fill="#96bfdc" />
<circle cx="278.64" cy="107.79" r="0.60" fill="#96bfdc" />
<circle cx="266.58" cy="118.51" r="0.60" fill="#96bfdc" />
<circle cx="255.88" cy="123.84" r="0.60" fill="#96bfdc" />
<circle cx="270.41" cy="113.89" r="0.60" fill="#96bfdc" />
<circle cx="275.26" cy="105.09" r="0.60" fill="#96bfdc" />
<circle cx="269.32" cy="117.56" r="0.60" fill="#96bfdc" />
<circle cx="265.24" cy="116.11" r="0.60" fill="#96bfdc" />
<circle cx="280.71" cy="105.57" r="0.60" fill="#96bfdc" />
<circle cx="279.29" cy="97.80" r="0.60" fill="#96bfdc" />
<circle cx="272.64" cy="116.03" r="0.60" fill="#96bfdc" />
<circle cx="283.44" cy="96.89" r="0.60" fill="#96bfdc" />
<circle cx="257.66" cy="125.15" r="0.60" fill="#96bfdc" />
<circle cx="285.17" cy="99.19" r="0.60" fill="#96bfdc" />
<circle cx="285.38" cy="105.53" r="0.60" fill="#96bfdc" />
<circle cx="288.14" cy="106.78" r="0.60" fill="#96bfdc" />
<circle cx="271.92" cy="120.09" r="0.60" fill="#96bfdc" />
<circle cx="280.56" cy="103.21" r="0.60" fill="#96bfdc" />
<circle cx="274.90" cy="108.28" r="0.60" fill="#96bfdc" />
<circle cx="284.01" cy="106.14" r="0.60" fill="#96bfdc" />
<circle cx="260.22" cy="126.21" r="0.60" fill="#96bfdc" />
<circle cx="290.86" cy="103.72" r="0.60" fill="#96bfdc" />
<circle cx="270.97" cy="111.92" r="0.60" fill="#96bfdc" />
<circle cx="281.06" cy="109.24" r="0.60" fill="#96bfdc" />
<circle cx="268.71" cy="117.09" r="0.60" fill="#96bfdc" />
<circle cx="272.79" cy="119.58" r="0.60" fill="#96bfdc" />
<circle cx="285.90" cy="105.51" r="0.60" fill="#96bfdc" />
<circle cx="262.77" cy="129.75" r="0.60" fill="#96bfdc" />
<circle cx="282.19" cy="98.28" r="0.60" fill="#96bfdc" />
<circle cx="277.03" cy="118.76" r="0.60" fill="#96bfdc" />
<circle cx="285.89" cy="105.92" r="0.60" fill="#96bfdc" />
<circle cx="263.61" cy="122.35" r="0.60" fill="#96bfdc" />
<circle cx="276.81" cy="114.97" r="0.60" fill="#96bfdc" />
<circle cx="256.53" cy="122.63" r="0.60" fill="#96bfdc" />
<circle cx="262.82" cy="124.22" r="0.60" fill="#96bfdc" />
<circle cx="286.65" cy="96.87" r="0.60" fill="#96bfdc" />
<circle cx="277.32" cy="118.47" r="0.60" fill="#96bfdc" />
<circle cx="258.15" cy="126.71" r="0.60" fill="#96bfdc" />
<circle cx="290.18" cy="106.75" r="0.60" fill="#96bfdc" />
<circle cx="280.39" cy="105.49" r="0.60" fill="#96bfdc" />
<circle cx="262.68" cy="129.56" r="0.60" fill="#96bfdc" />
<circle cx="264.22" cy="115.91" r="0.60" fill="#96bfdc" />
<circle cx="260.10" cy="123.83" r="0.60" fill="#96bfdc" />
<circle cx="264.77" cy="124.84" r="0.60" fill="#96bfdc" />
<circle cx="283.74" cy="111.72" r="0.60" fill="#96bfdc" />
<circle cx="288.64" cy="103.08" r="0.60" fill="#96bfdc" />
<circle cx="286.45" cy="102.57" r="0.60" fill="#96bfdc" />
<circle cx="288.66" cy="99.29" r="0.60" fill="#96bfdc" />
<circle cx="270.50" cy="109.80" r="0.60" fill="#96bfdc" />
<circle cx="262.29" cy="123.73" r="0.60" fill="#96bfdc" />
<circle cx="278.98" cy="105.42" r="0.60" fill="#96bfdc" />
<circle cx="269.40" cy="114.18" r="0.60" fill="#96bfdc" />
<circle cx="284.30" cy="100.95" r="0.60" fill="#96bfdc" />
<circle cx="288.61" cy="102.76" r="0.60" fill="#96bfdc" />
<circle cx="261.32" cy="128.80" r="0.60" fill="#96bfdc" />
<circle cx="269.40" cy="122.35" r="0.60" fill="#96bfdc" />
<circle cx="278.40" cy="126.38" r="0.60" fill="#96bfdc" />
<circle cx="266.22" cy="117.84" r="0.60" fill="#96bfdc" />
<circle cx="281.09" cy="105.71" r="0.60" fill="#96bfdc" />
<circle cx="268.77" cy="117.65" r="0.60" fill="#96bfdc" />
<circle cx="282.67" cy="99.13" r="0.60" fill="#96bfdc" />
<circle cx="266.17" cy="122.79" r="0.60" fill="#96bfdc" />
<circle cx="262.24" cy="122.46" r="0.60" fill="#96bfdc" />
<circle cx="260.19" cy="124.76" r="0.60" fill="#96bfdc" />
<circle cx="268.11" cy="119.59" r="0.60" fill="#96bfdc" />
<circle cx="271.56" cy="105.69" r="0.60" fill="#96bfdc" />
<circle cx="278.26" cy="103.85" r="0.60" fill="#96bfdc" />
<circle cx="270.61" cy="117.28" r="0.60" fill="#96bfdc" />
<circle cx="279.34" cy="116.60" r="0.60" fill="#96bfdc" />
<circle cx="267.18" cy="121.82" r="0.60" fill="#96bfdc" />
<circle cx="271.12" cy="117.62" r="0.60" fill="#96bfdc" />
<circle cx="273.10" cy="112.18" r="0.60" fill="#96bfdc" />
<circle cx="258.45" cy="122.98" r="0.60" fill="#96bfdc" />
<circle cx="277.71" cy="105.73" r="0.60" fill="#96bfdc" />
<circle cx="264.07" cy="118.11" r="0.50" fill="#d2e6f3" />
<circle cx="270.04" cy="111.95" r="0.50" fill="#d2e6f3" />
<circle cx="276.79" cy="111.76" r="0.50" fill="#d2e6f3" />
<circle cx="265.66" cy="118.16" r="0.50" fill="#d2e6f3" />
<circle cx="266.16" cy="116.65" r="0.50" fill="#d2e6f3" />
<circle cx="262.00" cy="119.13" r="0.50" fill="#d2e6f3" />
<circle cx="258.83" cy="120.50" r="0.50" fill="#d2e6f3" />
<circle cx="272.34" cy="110.87" r="0.50" fill="#d2e6f3" />
<circle cx="280.78" cy="104.16" r="0.50" fill="#d2e6f3" />
<circle cx="261.19" cy="119.61" r="0.50" fill="#d2e6f3" />
<circle cx="267.81" cy="117.47" r="0.50" fill="#d2e6f3" />
<circle cx="260.79" cy="117.64" r="0.50" fill="#d2e6f3" />
<circle cx="261.30" cy="117.96" r="0.50" fill="#d2e6f3" />
<circle cx="265.57" cy="115.58" r="0.50" fill="#d2e6f3" />
<circle cx="266.81" cy="115.60" r="0.50" fill="#d2e6f3" />
<circle cx="269.78" cy="113.67" r="0.50" fill="#d2e6f3" />
<circle cx="278.06" cy="107.41" r="0.50" fill="#d2e6f3" />
<circle cx="264.15" cy="116.96" r="0.50" fill="#d2e6f3" />
<circle cx="281.66" cy="104.48" r="0.50" fill="#d2e6f3" />
<circle cx="282.05" cy="105.65" r="0.50" fill="#d2e6f3" />
<circle cx="284.03" cy="102.39" r="0.50" fill="#d2e6f3" />
<circle cx="269.17" cy="112.50" r="0.50" fill="#d2e6f3" />
<circle cx="274.19" cy="112.06" r="0.50" fill="#d2e6f3" />
<circle cx="272.93" cy="112.01" r="0.50" fill="#d2e6f3" />
<circle cx="283.86" cy="99.13" r="0.50" fill="#d2e6f3" />
<circle cx="276.33" cy="106.43" r="0.50" fill="#d2e6f3" />
<circle cx="283.33" cy="104.77" r="0.50" fill="#d2e6f3" />
<circle cx="265.86" cy="115.60" r="0.50" fill="#d2e6f3" />
<circle cx="274.87" cy="110.20" r="0.50" fill="#d2e6f3" />
<circle cx="264.43" cy="116.78" r="0.50" fill="#d2e6f3" />
<circle cx="282.52" cy="104.23" r="0.50" fill="#d2e6f3" />
<circle cx="277.01" cy="110.43" r="0.50" fill="#d2e6f3" />
<circle cx="281.76" cy="102.78" r="0.50" fill="#d2e6f3" />
<circle cx="270.36" cy="112.49" r="0.50" fill="#d2e6f3" />
<circle cx="263.82" cy="120.44" r="0.50" fill="#d2e6f3" />
<circle cx="269.49" cy="114.96" r="0.50" fill="#d2e6f3" />
<circle cx="259.36" cy="119.42" r="0.50" fill="#d2e6f3" />
<circle cx="272.67" cy="108.87" r="0.50" fill="#d2e6f3" />
<circle cx="264.42" cy="116.36" r="0.50" fill="#d2e6f3" />
<circle cx="271.87" cy="109.94" r="0.50" fill="#d2e6f3" />
<circle cx="267.50" cy="116.85" r="0.50" fill="#d2e6f3" />
<circle cx="270.82" cy="113.08" r="0.50" fill="#d2e6f3" />
<circle cx="258.49" cy="124.15" r="0.50" fill="#d2e6f3" />
<circle cx="264.09" cy="116.62" r="0.50" fill="#d2e6f3" />
<circle cx="268.09" cy="116.21" r="0.50" fill="#d2e6f3" />
<circle cx="278.83" cy="107.03" r="0.50" fill="#d2e6f3" />
<circle cx="280.41" cy="104.77" r="0.50" fill="#d2e6f3" />
<circle cx="267.04" cy="115.14" r="0.50" fill="#d2e6f3" />
<circle cx="263.21" cy="123.56" r="0.50" fill="#d2e6f3" />
<circle cx="278.50" cy="108.35" r="0.50" fill="#d2e6f3" />
<circle cx="267.52" cy="113.10" r="0.50" fill="#d2e6f3" />
<circle cx="281.18" cy="103.37" r="0.50" fill="#d2e6f3" />
<circle cx="277.62" cy="104.69" r="0.50" fill="#d2e6f3" />
<circle cx="271.92" cy="110.20" r="0.50" fill="#d2e6f3" />
<circle cx="284.07" cy="105.88" r="0.50" fill="#d2e6f3" />
<circle cx="260.30" cy="119.93" r="0.50" fill="#d2e6f3" />
<circle cx="273.85" cy="111.59" r="0.50" fill="#d2e6f3" />
<circle cx="270.67" cy="110.66" r="0.50" fill="#d2e6f3" />
<circle cx="273.38" cy="110.98" r="0.50" fill="#d2e6f3" />
<circle cx="270.78" cy="111.61" r="0.50" fill="#d2e6f3" />
<circle cx="288.94" cy="102.88" r="0.55" fill="#9cc4e0" />
<circle cx="288.77" cy="94.95" r="0.55" fill="#9cc4e0" />
<circle cx="291.99" cy="99.10" r="0.55" fill="#9cc4e0" />
<circle cx="282.06" cy="103.56" r="0.55" fill="#9cc4e0" />
<circle cx="303.76" cy="95.01" r="0.55" fill="#9cc4e0" />
<circle cx="304.85" cy="90.95" r="0.55" fill="#9cc4e0" />
<circle cx="293.82" cy="100.91" r="0.55" fill="#9cc4e0" />
<circle cx="292.49" cy="101.59" r="0.55" fill="#9cc4e0" />
<circle cx="297.19" cy="97.24" r="0.55" fill="#9cc4e0" />
<circle cx="288.02" cy="104.22" r="0.55" fill="#9cc4e0" />
<circle cx="296.94" cy="101.86" r="0.55" fill="#9cc4e0" />
<circle cx="289.23" cy="103.09" r="0.55" fill="#9cc4e0" />
<circle cx="305.01" cy="100.55" r="0.55" fill="#9cc4e0" />
<circle cx="290.32" cy="105.24" r="0.55" fill="#9cc4e0" />
<circle cx="305.89" cy="95.67" r="0.55" fill="#9cc4e0" />
<circle cx="302.87" cy="98.31" r="0.55" fill="#9cc4e0" />
<circle cx="292.32" cy="101.17" r="0.55" fill="#9cc4e0" />
<circle cx="295.64" cy="104.51" r="0.55" fill="#9cc4e0" />
<circle cx="286.59" cy="107.48" r="0.55" fill="#9cc4e0" />
<circle cx="296.71" cy="90.69" r="0.55" fill="#9cc4e0" />
<circle cx="291.94" cy="102.81" r="0.55" fill="#9cc4e0" />
<circle cx="285.45" cy="105.99" r="0.55" fill="#9cc4e0" />
<circle cx="294.09" cy="97.98" r="0.55" fill="#9cc4e0" />
<circle cx="299.27" cy="87.63" r="0.55" fill="#9cc4e0" />
<circle cx="299.58" cy="94.98" r="0.55" fill="#9cc4e0" />
<circle cx="298.03" cy="96.03" r="0.55" fill="#9cc4e0" />
<circle cx="294.30" cy="95.86" r="0.55" fill="#9cc4e0" />
<circle cx="290.60" cy="97.11" r="0.55" fill="#9cc4e0" />
<circle cx="279.53" cy="114.28" r="0.55" fill="#9cc4e0" />
<circle cx="290.31" cy="105.09" r="0.55" fill="#9cc4e0" />
<circle cx="300.85" cy="94.33" r="0.55" fill="#9cc4e0" />
<circle cx="284.80" cy="97.25" r="0.55" fill="#9cc4e0" />
<circle cx="298.12" cy="91.53" r="0.55" fill="#9cc4e0" />
<circle cx="305.20" cy="93.88" r="0.55" fill="#9cc4e0" />
<circle cx="292.95" cy="97.11" r="0.55" fill="#9cc4e0" />
<circle cx="281.45" cy="112.08" r="0.55" fill="#9cc4e0" />
<circle cx="296.60" cy="95.61" r="0.55" fill="#9cc4e0" />
<circle cx="282.37" cy="108.00" r="0.55" fill="#9cc4e0" />
<circle cx="301.38" cy="88.35" r="0.55" fill="#9cc4e0" />
<circle cx="300.54" cy="89.41" r="0.55" fill="#9cc4e0" />
<circle cx="287.88" cy="108.56" r="0.55" fill="#9cc4e0" />
<circle cx="292.14" cy="91.73" r="0.55" fill="#9cc4e0" />
<circle cx="297.78" cy="92.87" r="0.55" fill="#9cc4e0" />
<circle cx="295.03" cy="91.23" r="0.55" fill="#9cc4e0" />
<circle cx="302.43" cy="88.17" r="0.55" fill="#9cc4e0" />
<circle cx="292.36" cy="102.45" r="0.55" fill="#9cc4e0" />
<circle cx="285.57" cy="110.24" r="0.55" fill="#9cc4e0" />
<circle cx="288.77" cy="106.36" r="0.55" fill="#9cc4e0" />
<circle cx="293.90" cy="94.57" r="0.55" fill="#9cc4e0" />
<circle cx="282.96" cy="112.93" r="0.55" fill="#9cc4e0" />
<circle cx="286.99" cy="106.53" r="0.55" fill="#9cc4e0" />
<circle cx="281.05" cy="103.11" r="0.55" fill="#9cc4e0" />
<circle cx="288.12" cy="101.01" r="0.55" fill="#9cc4e0" />
<circle cx="281.53" cy="108.37" r="0.55" fill="#9cc4e0" />
<circle cx="285.91" cy="97.71" r="0.55" fill="#9cc4e0" />
<circle cx="278.83" cy="107.11" r="0.55" fill="#9cc4e0" />
<circle cx="296.58" cy="95.95" r="0.55" fill="#9cc4e0" />
<circle cx="289.55" cy="106.41" r="0.55" fill="#9cc4e0" />
<circle cx="297.58" cy="92.45" r="0.55" fill="#9cc4e0" />
<circle cx="301.71" cy="95.97" r="0.55" fill="#9cc4e0" />
<circle cx="324.80" cy="24.50" r="0.65" fill="#8db7d6" />
<circle cx="301.90" cy="50.50" r="0.65" fill="#8db7d6" />
<circle cx="290.20" cy="55.20" r="0.65" fill="#8db7d6" />
<circle cx="287.70" cy="59.70" r="0.65" fill="#8db7d6" />
<circle cx="293.30" cy="59.10" r="0.65" fill="#8db7d6" />
<circle cx="301.60" cy="56.20" r="0.65" fill="#8db7d6" />
<circle cx="301.90" cy="60.90" r="0.65" fill="#8db7d6" />
<circle cx="305.40" cy="60.30" r="0.65" fill="#8db7d6" />
<circle cx="305.00" cy="66.40" r="0.65" fill="#8db7d6" />
<circle cx="305.70" cy="63.50" r="0.65" fill="#8db7d6" />
<circle cx="295.00" cy="70.00" r="0.65" fill="#8db7d6" />
<circle cx="288.10" cy="72.10" r="0.65" fill="#8db7d6" />
<circle cx="304.50" cy="72.10" r="0.65" fill="#8db7d6" />
<circle cx="311.40" cy="73.00" r="0.65" fill="#8db7d6" />
<circle cx="284.60" cy="78.20" r="0.65" fill="#8db7d6" />
<circle cx="282.00" cy="79.90" r="0.65" fill="#8db7d6" />
<circle cx="292.40" cy="80.80" r="0.65" fill="#8db7d6" />
<circle cx="301.10" cy="76.40" r="0.65" fill="#8db7d6" />
<circle cx="303.70" cy="79.90" r="0.65" fill="#8db7d6" />
<circle cx="296.70" cy="81.60" r="0.65" fill="#8db7d6" />
<circle cx="289.80" cy="81.60" r="0.65" fill="#8db7d6" />
<circle cx="288.10" cy="84.20" r="0.65" fill="#8db7d6" />
<circle cx="291.50" cy="86.00" r="0.65" fill="#8db7d6" />
<circle cx="295.00" cy="85.10" r="0.65" fill="#8db7d6" />
<circle cx="298.50" cy="87.70" r="0.65" fill="#8db7d6" />
<circle cx="301.90" cy="83.40" r="0.65" fill="#8db7d6" />
<circle cx="295.61" cy="82.72" r="0.60" fill="#9cc4e0" />
<circle cx="279.13" cy="79.04" r="0.60" fill="#9cc4e0" />
<circle cx="282.54" cy="83.15" r="0.60" fill="#9cc4e0" />
<circle cx="286.49" cy="87.90" r="0.60" fill="#9cc4e0" />
<circle cx="279.10" cy="86.08" r="0.60" fill="#9cc4e0" />
<circle cx="295.87" cy="82.67" r="0.60" fill="#9cc4e0" />
<circle cx="287.77" cy="78.03" r="0.60" fill="#9cc4e0" />
<circle cx="286.02" cy="79.12" r="0.60" fill="#9cc4e0" />
<circle cx="279.33" cy="84.36" r="0.60" fill="#9cc4e0" />
<circle cx="281.11" cy="98.58" r="0.60" fill="#9cc4e0" />
<circle cx="298.99" cy="80.24" r="0.60" fill="#9cc4e0" />
<circle cx="285.87" cy="80.34" r="0.60" fill="#9cc4e0" />
<circle cx="279.52" cy="96.15" r="0.60" fill="#9cc4e0" />
<circle cx="299.33" cy="79.14" r="0.60" fill="#9cc4e0" />
<circle cx="285.31" cy="92.21" r="0.60" fill="#9cc4e0" />
<circle cx="293.23" cy="84.49" r="0.60" fill="#9cc4e0" />
<circle cx="279.66" cy="87.30" r="0.60" fill="#9cc4e0" />
<circle cx="289.53" cy="83.24" r="0.60" fill="#9cc4e0" />
<circle cx="286.70" cy="81.55" r="0.60" fill="#9cc4e0" />
<circle cx="284.66" cy="84.28" r="0.60" fill="#9cc4e0" />
<circle cx="281.97" cy="92.64" r="0.60" fill="#9cc4e0" />
<circle cx="282.74" cy="95.33" r="0.60" fill="#9cc4e0" />
<circle cx="281.21" cy="85.52" r="0.60" fill="#9cc4e0" />
<circle cx="288.09" cy="83.37" r="0.60" fill="#9cc4e0" />
<circle cx="279.69" cy="85.30" r="0.60" fill="#9cc4e0" />
<circle cx="283.52" cy="96.24" r="0.60" fill="#9cc4e0" />
<circle cx="290.54" cy="80.94" r="0.60" fill="#9cc4e0" />
<circle cx="287.09" cy="90.19" r="0.60" fill="#9cc4e0" />
<circle cx="288.16" cy="82.37" r="0.60" fill="#9cc4e0" />
<circle cx="280.01" cy="78.28" r="0.60" fill="#9cc4e0" />
<circle cx="280.35" cy="96.65" r="0.60" fill="#9cc4e0" />
<circle cx="281.05" cy="90.71" r="0.60" fill="#9cc4e0" />
<circle cx="290.16" cy="82.94" r="0.60" fill="#9cc4e0" />
<circle cx="293.21" cy="78.22" r="0.60" fill="#9cc4e0" />
<circle cx="296.27" cy="84.54" r="0.60" fill="#9cc4e0" />
<circle cx="284.89" cy="81.60" r="0.60" fill="#9cc4e0" />
<circle cx="278.77" cy="98.14" r="0.60" fill="#9cc4e0" />
<circle cx="283.20" cy="94.59" r="0.60" fill="#9cc4e0" />
<path d="M223.5,120.2 L233,119.4 L242,119.6 L243.5,124.8 L236,125.4 L226,125.2 L222.5,122.5 Z" stroke="none" stroke-width="0.80" fill="#4f7db3" />
<circle cx="212.74" cy="122.34" r="0.60" fill="#3f6fa6" />
<circle cx="239.22" cy="121.62" r="0.60" fill="#3f6fa6" />
<circle cx="219.07" cy="112.14" r="0.60" fill="#3f6fa6" />
<circle cx="239.01" cy="114.44" r="0.60" fill="#3f6fa6" />
<circle cx="220.74" cy="118.37" r="0.60" fill="#3f6fa6" />
<circle cx="220.77" cy="123.13" r="0.60" fill="#3f6fa6" />
<circle cx="215.58" cy="109.70" r="0.60" fill="#3f6fa6" />
<circle cx="228.67" cy="119.68" r="0.60" fill="#3f6fa6" />
<circle cx="238.79" cy="120.99" r="0.60" fill="#3f6fa6" />
<circle cx="242.21" cy="125.06" r="0.60" fill="#3f6fa6" />
<circle cx="225.78" cy="117.49" r="0.60" fill="#3f6fa6" />
<circle cx="212.30" cy="114.09" r="0.60" fill="#3f6fa6" />
<circle cx="229.24" cy="110.36" r="0.60" fill="#3f6fa6" />
<circle cx="233.52" cy="111.78" r="0.60" fill="#3f6fa6" />
<circle cx="223.73" cy="125.49" r="0.60" fill="#3f6fa6" />
<circle cx="209.59" cy="109.68" r="0.60" fill="#3f6fa6" />
<circle cx="223.58" cy="112.24" r="0.60" fill="#3f6fa6" />
<circle cx="234.92" cy="109.05" r="0.60" fill="#3f6fa6" />
<circle cx="239.63" cy="123.54" r="0.60" fill="#3f6fa6" />
<circle cx="237.48" cy="116.23" r="0.60" fill="#3f6fa6" />
<circle cx="217.33" cy="120.25" r="0.60" fill="#3f6fa6" />
<circle cx="226.58" cy="116.16" r="0.60" fill="#3f6fa6" />
<circle cx="219.55" cy="116.46" r="0.60" fill="#3f6fa6" />
<circle cx="232.64" cy="123.04" r="0.60" fill="#3f6fa6" />
<circle cx="242.16" cy="111.80" r="0.60" fill="#3f6fa6" />
<circle cx="217.83" cy="116.53" r="0.60" fill="#3f6fa6" />
<circle cx="228.53" cy="114.92" r="0.60" fill="#3f6fa6" />
<circle cx="213.82" cy="110.45" r="0.60" fill="#3f6fa6" />
<circle cx="218.95" cy="116.83" r="0.60" fill="#3f6fa6" />
<circle cx="244.85" cy="124.45" r="0.60" fill="#3f6fa6" />
<circle cx="240.62" cy="125.56" r="0.60" fill="#3f6fa6" />
<circle cx="244.47" cy="119.54" r="0.60" fill="#3f6fa6" />
<circle cx="238.45" cy="110.02" r="0.60" fill="#3f6fa6" />
<circle cx="233.06" cy="119.36" r="0.60" fill="#3f6fa6" />
<circle cx="217.88" cy="118.71" r="0.60" fill="#3f6fa6" />
<circle cx="244.11" cy="117.17" r="0.60" fill="#3f6fa6" />
<circle cx="231.89" cy="114.09" r="0.60" fill="#3f6fa6" />
<circle cx="219.74" cy="124.05" r="0.60" fill="#3f6fa6" />
<circle cx="207.11" cy="112.21" r="0.60" fill="#3f6fa6" />
<circle cx="233.15" cy="116.60" r="0.60" fill="#3f6fa6" />
<circle cx="209.41" cy="120.23" r="0.60" fill="#3f6fa6" />
<circle cx="220.88" cy="118.87" r="0.60" fill="#3f6fa6" />
<circle cx="222.66" cy="118.01" r="0.60" fill="#3f6fa6" />
<circle cx="228.59" cy="115.74" r="0.60" fill="#3f6fa6" />
<circle cx="210.57" cy="112.07" r="0.60" fill="#3f6fa6" />
<circle cx="241.60" cy="118.32" r="0.60" fill="#3f6fa6" />
<circle cx="210.49" cy="123.66" r="0.60" fill="#3f6fa6" />
<circle cx="216.14" cy="110.61" r="0.60" fill="#3f6fa6" />
<circle cx="227.23" cy="113.28" r="0.60" fill="#3f6fa6" />
<circle cx="225.57" cy="118.42" r="0.60" fill="#3f6fa6" />
<circle cx="215.06" cy="118.74" r="0.60" fill="#3f6fa6" />
<circle cx="210.52" cy="117.72" r="0.60" fill="#3f6fa6" />
<circle cx="229.54" cy="110.36" r="0.60" fill="#3f6fa6" />
<circle cx="222.32" cy="110.25" r="0.60" fill="#3f6fa6" />
<circle cx="223.58" cy="123.68" r="0.60" fill="#3f6fa6" />
<circle cx="228.02" cy="121.15" r="0.60" fill="#3f6fa6" />
<circle cx="236.28" cy="110.95" r="0.60" fill="#3f6fa6" />
<circle cx="245.63" cy="121.27" r="0.60" fill="#3f6fa6" />
<circle cx="210.08" cy="123.11" r="0.60" fill="#3f6fa6" />
<circle cx="221.68" cy="111.91" r="0.60" fill="#3f6fa6" />
<circle cx="244.40" cy="118.57" r="0.60" fill="#3f6fa6" />
<circle cx="237.00" cy="111.33" r="0.60" fill="#3f6fa6" />
<circle cx="237.05" cy="109.98" r="0.60" fill="#3f6fa6" />
<circle cx="215.48" cy="115.33" r="0.60" fill="#3f6fa6" />
<circle cx="206.61" cy="119.10" r="0.60" fill="#3f6fa6" />
<circle cx="214.53" cy="114.10" r="0.60" fill="#3f6fa6" />
<circle cx="234.30" cy="116.24" r="0.60" fill="#3f6fa6" />
<circle cx="241.55" cy="119.56" r="0.60" fill="#3f6fa6" />
<circle cx="240.89" cy="118.57" r="0.60" fill="#3f6fa6" />
<circle cx="242.70" cy="123.80" r="0.60" fill="#3f6fa6" />
<line x1="226.00" y1="121.00" x2="229.00" y2="124.00" stroke="#c9d9ea" stroke-width="0.40" />
<line x1="231.00" y1="120.50" x2="233.00" y2="124.00" stroke="#c9d9ea" stroke-width="0.40" />
<line x1="235.00" y1="121.00" x2="238.00" y2="123.50" stroke="#c9d9ea" stroke-width="0.40" />
<line x1="239.00" y1="120.50" x2="241.00" y2="124.00" stroke="#c9d9ea" stroke-width="0.40" />
<line x1="228.00" y1="113.00" x2="231.00" y2="119.00" stroke="#5a7ea8" stroke-width="0.45" />
<line x1="233.00" y1="113.50" x2="236.00" y2="118.50" stroke="#5a7ea8" stroke-width="0.45" />
<line x1="238.00" y1="114.00" x2="235.00" y2="119.00" stroke="#5a7ea8" stroke-width="0.45" />
<line x1="230.00" y1="116.00" x2="238.00" y2="116.50" stroke="#5a7ea8" stroke-width="0.45" />
<circle cx="205.90" cy="89.60" r="0.70" fill="#333" />
<circle cx="225.60" cy="96.70" r="0.60" fill="#333" />
<circle cx="217.30" cy="107.30" r="0.60" fill="#333" />
<circle cx="238.00" cy="103.30" r="0.60" fill="#333" />
<line x1="274.00" y1="85.10" x2="283.00" y2="102.00" stroke="#2a2a2a" stroke-width="0.45" />
<line x1="275.00" y1="93.00" x2="282.00" y2="105.00" stroke="#2a2a2a" stroke-width="0.45" />
<line x1="268.00" y1="103.50" x2="272.00" y2="113.00" stroke="#2a2a2a" stroke-width="0.45" />
<line x1="262.00" y1="111.10" x2="268.00" y2="121.00" stroke="#2a2a2a" stroke-width="0.45" />
<line x1="281.60" y1="125.00" x2="276.00" y2="121.00" stroke="#2a2a2a" stroke-width="0.45" />
<line x1="276.00" y1="130.60" x2="273.00" y2="126.00" stroke="#2a2a2a" stroke-width="0.45" />
<line x1="299.00" y1="101.00" x2="296.00" y2="99.00" stroke="#2a2a2a" stroke-width="0.45" />
<line x1="224.20" y1="104.40" x2="229.00" y2="118.00" stroke="#2a2a2a" stroke-width="0.45" />
<line x1="241.00" y1="104.40" x2="236.00" y2="118.00" stroke="#2a2a2a" stroke-width="0.45" />
<line x1="242.00" y1="111.90" x2="240.00" y2="119.00" stroke="#2a2a2a" stroke-width="0.45" />
<line x1="221.00" y1="116.80" x2="226.00" y2="121.00" stroke="#2a2a2a" stroke-width="0.45" />
<line x1="220.00" y1="128.10" x2="224.00" y2="124.50" stroke="#2a2a2a" stroke-width="0.45" />
<line x1="244.40" y1="116.00" x2="243.00" y2="120.00" stroke="#2a2a2a" stroke-width="0.45" />
<rect x="215.60" y="100.20" width="8.60" height="4.30" fill="#235a79" stroke="#5e8cab" stroke-width="0.3"/>
<text x="219.90" y="103.55" font-size="4.00" text-anchor="middle" fill="#a9c6da" textLength="6.80" lengthAdjust="spacingAndGlyphs">Itk</text>
<rect x="240.20" y="100.20" width="11.50" height="4.30" fill="#235a79" stroke="#5e8cab" stroke-width="0.3"/>
<text x="245.95" y="103.55" font-size="4.00" text-anchor="middle" fill="#a9c6da" textLength="9.70" lengthAdjust="spacingAndGlyphs">Cxcr4</text>
<rect x="226.00" y="107.90" width="16.90" height="4.30" fill="#235a79" stroke="#5e8cab" stroke-width="0.3"/>
<text x="234.45" y="111.25" font-size="4.00" text-anchor="middle" fill="#a9c6da" textLength="15.10" lengthAdjust="spacingAndGlyphs">Rapgef3</text>
<rect x="212.70" y="112.50" width="11.80" height="4.30" fill="#235a79" stroke="#5e8cab" stroke-width="0.3"/>
<text x="218.60" y="115.85" font-size="4.00" text-anchor="middle" fill="#a9c6da" textLength="10.00" lengthAdjust="spacingAndGlyphs">Itgb2l</text>
<rect x="244.40" y="114.20" width="13.90" height="4.30" fill="#235a79" stroke="#5e8cab" stroke-width="0.3"/>
<text x="251.35" y="117.55" font-size="4.00" text-anchor="middle" fill="#a9c6da" textLength="12.10" lengthAdjust="spacingAndGlyphs">Nectin1</text>
<rect x="204.00" y="120.20" width="14.20" height="4.30" fill="#235a79" stroke="#5e8cab" stroke-width="0.3"/>
<text x="211.10" y="123.55" font-size="4.00" text-anchor="middle" fill="#a9c6da" textLength="12.40" lengthAdjust="spacingAndGlyphs">Plcg2</text>
<rect x="214.80" y="128.10" width="11.20" height="4.30" fill="#235a79" stroke="#5e8cab" stroke-width="0.3"/>
<text x="220.40" y="131.45" font-size="4.00" text-anchor="middle" fill="#a9c6da" textLength="9.40" lengthAdjust="spacingAndGlyphs">Ccr7</text>
<rect x="254.00" y="81.00" width="20.20" height="4.50" fill="#c2dcee" />
<text x="264.10" y="84.55" font-size="4.30" text-anchor="middle" font-weight="bold" fill="#142e44" textLength="18.80" lengthAdjust="spacingAndGlyphs">Gadd45a</text>
<rect x="265.50" y="89.10" width="10.10" height="4.50" fill="#c2dcee" />
<text x="270.55" y="92.65" font-size="4.30" text-anchor="middle" font-weight="bold" fill="#142e44" textLength="8.70" lengthAdjust="spacingAndGlyphs">Cdk4</text>
<rect x="257.40" y="99.20" width="10.80" height="4.50" fill="#c2dcee" />
<text x="262.80" y="102.75" font-size="4.30" text-anchor="middle" font-weight="bold" fill="#142e44" textLength="9.40" lengthAdjust="spacingAndGlyphs">Thbs1</text>
<rect x="254.70" y="106.60" width="12.50" height="4.50" fill="#c2dcee" />
<text x="260.95" y="110.15" font-size="4.30" text-anchor="middle" font-weight="bold" fill="#142e44" textLength="11.10" lengthAdjust="spacingAndGlyphs">Casp3</text>
<rect x="286.30" y="98.10" width="11.50" height="4.50" fill="#c2dcee" />
<text x="292.05" y="101.65" font-size="4.30" text-anchor="middle" font-weight="bold" fill="#142e44" textLength="10.10" lengthAdjust="spacingAndGlyphs">Gfi1b</text>
<rect x="300.50" y="98.10" width="11.40" height="4.50" fill="#c2dcee" />
<text x="306.20" y="101.65" font-size="4.30" text-anchor="middle" font-weight="bold" fill="#142e44" textLength="10.00" lengthAdjust="spacingAndGlyphs">Ctla2</text>
<rect x="281.60" y="122.80" width="11.70" height="4.50" fill="#c2dcee" />
<text x="287.45" y="126.35" font-size="4.30" text-anchor="middle" font-weight="bold" fill="#142e44" textLength="10.30" lengthAdjust="spacingAndGlyphs">Megf</text>
<rect x="270.20" y="130.60" width="13.20" height="4.50" fill="#c2dcee" />
<text x="276.80" y="134.15" font-size="4.30" text-anchor="middle" font-weight="bold" fill="#142e44" textLength="11.80" lengthAdjust="spacingAndGlyphs">Pdlim2</text>
<circle cx="381.20" cy="79.70" r="40.30" fill="#9ec5df" />
<path d="M381.20,79.70 L381.20,39.40 A40.30,40.30 0 0 0 343.73,64.86 Z" stroke="none" stroke-width="0.80" fill="#4a80b1" />
<text x="368.70" y="62.00" font-size="6.60" text-anchor="middle" fill="#1b3550">19%</text>
<text x="390.10" y="99.00" font-size="6.60" text-anchor="middle" fill="#1b3550">81%</text>
<rect x="372.00" y="127.20" width="9.10" height="5.00" fill="#9ec5df" />
<text x="383.70" y="131.90" font-size="6.40" fill="#333">Up</text>
<rect x="372.00" y="135.90" width="9.10" height="5.30" fill="#4a80b1" />
<text x="383.70" y="140.60" font-size="6.40" fill="#333">Down</text>
<text x="7.30" y="192.60" font-size="12.20" font-weight="bold" stroke="#231f20" stroke-width="0.35">C</text>
<text x="147.00" y="206.60" font-size="9.00" text-anchor="middle" textLength="104.00" lengthAdjust="spacingAndGlyphs">KEGG signaling pathways</text>
<line x1="76.20" y1="211.50" x2="76.20" y2="299.60" stroke="#231f20" stroke-width="0.90" />
<line x1="75.80" y1="299.20" x2="218.80" y2="299.20" stroke="#231f20" stroke-width="0.90" />
<line x1="73.20" y1="214.55" x2="76.20" y2="214.55" stroke="#231f20" stroke-width="0.90" />
<rect x="99.20" y="212.15" width="7.90" height="4.80" fill="#4277ab" />
<rect x="107.10" y="212.15" width="105.40" height="4.80" fill="#9fc5e0" />
<text x="70.00" y="216.95" font-size="6.80" text-anchor="end" fill="#333">p53</text>
<line x1="73.20" y1="223.44" x2="76.20" y2="223.44" stroke="#231f20" stroke-width="0.90" />
<rect x="98.50" y="221.04" width="8.38" height="4.80" fill="#4277ab" />
<rect x="106.88" y="221.04" width="83.12" height="4.80" fill="#9fc5e0" />
<text x="70.00" y="225.84" font-size="6.80" text-anchor="end" fill="#333">Apoptosis</text>
<line x1="73.20" y1="232.33" x2="76.20" y2="232.33" stroke="#231f20" stroke-width="0.90" />
<rect x="96.20" y="229.93" width="10.46" height="4.80" fill="#4277ab" />
<rect x="106.66" y="229.93" width="71.64" height="4.80" fill="#9fc5e0" />
<text x="70.00" y="234.73" font-size="6.80" text-anchor="end" fill="#333">Wnt</text>
<line x1="73.20" y1="241.22" x2="76.20" y2="241.22" stroke="#231f20" stroke-width="0.90" />
<rect x="86.20" y="238.82" width="20.24" height="4.80" fill="#4277ab" />
<rect x="106.44" y="238.82" width="70.26" height="4.80" fill="#9fc5e0" />
<text x="70.00" y="243.62" font-size="6.80" text-anchor="end" fill="#333">VEGF</text>
<line x1="73.20" y1="250.11" x2="76.20" y2="250.11" stroke="#231f20" stroke-width="0.90" />
<rect x="102.30" y="247.71" width="3.92" height="4.80" fill="#4277ab" />
<rect x="106.22" y="247.71" width="69.78" height="4.80" fill="#9fc5e0" />
<text x="70.00" y="252.51" font-size="6.80" text-anchor="end" fill="#333">JAK-STAT</text>
<line x1="73.20" y1="259.00" x2="76.20" y2="259.00" stroke="#231f20" stroke-width="0.90" />
<rect x="85.60" y="256.60" width="20.40" height="4.80" fill="#4277ab" />
<rect x="106.00" y="256.60" width="61.50" height="4.80" fill="#9fc5e0" />
<text x="70.00" y="261.40" font-size="6.80" text-anchor="end" fill="#333">TGF-beta</text>
<line x1="73.20" y1="267.89" x2="76.20" y2="267.89" stroke="#231f20" stroke-width="0.90" />
<rect x="91.20" y="265.49" width="14.58" height="4.80" fill="#4277ab" />
<rect x="105.78" y="265.49" width="54.22" height="4.80" fill="#9fc5e0" />
<text x="70.00" y="270.29" font-size="6.80" text-anchor="end" fill="#333">PI3K</text>
<line x1="73.20" y1="276.78" x2="76.20" y2="276.78" stroke="#231f20" stroke-width="0.90" />
<rect x="84.60" y="274.38" width="20.96" height="4.80" fill="#4277ab" />
<rect x="105.56" y="274.38" width="46.44" height="4.80" fill="#9fc5e0" />
<text x="70.00" y="279.18" font-size="6.80" text-anchor="end" fill="#333">Cell adhesion</text>
<line x1="73.20" y1="285.67" x2="76.20" y2="285.67" stroke="#231f20" stroke-width="0.90" />
<rect x="85.00" y="283.27" width="20.34" height="4.80" fill="#4277ab" />
<rect x="105.34" y="283.27" width="42.66" height="4.80" fill="#9fc5e0" />
<text x="70.00" y="288.07" font-size="6.80" text-anchor="end" fill="#333">MAPK</text>
<line x1="73.20" y1="294.56" x2="76.20" y2="294.56" stroke="#231f20" stroke-width="0.90" />
<rect x="77.00" y="292.16" width="28.12" height="4.80" fill="#4277ab" />
<rect x="105.12" y="292.16" width="34.08" height="4.80" fill="#9fc5e0" />
<text x="70.00" y="296.96" font-size="6.80" text-anchor="end" fill="#333">Leukocyte migration</text>
<text x="67.50" y="305.40" font-size="6.80" text-anchor="end" fill="#333">genes in pathways</text>
<line x1="76.20" y1="299.20" x2="76.20" y2="302.20" stroke="#231f20" stroke-width="0.90" />
<text x="76.20" y="310.80" font-size="6.40" text-anchor="middle" fill="#333">5%</text>
<line x1="104.60" y1="299.20" x2="104.60" y2="302.20" stroke="#231f20" stroke-width="0.90" />
<text x="104.60" y="310.80" font-size="6.40" text-anchor="middle" fill="#333">0</text>
<line x1="132.30" y1="299.20" x2="132.30" y2="302.20" stroke="#231f20" stroke-width="0.90" />
<text x="132.30" y="310.80" font-size="6.40" text-anchor="middle" fill="#333">5%</text>
<line x1="160.00" y1="299.20" x2="160.00" y2="302.20" stroke="#231f20" stroke-width="0.90" />
<text x="160.00" y="310.80" font-size="6.40" text-anchor="middle" fill="#333">10%</text>
<line x1="188.00" y1="299.20" x2="188.00" y2="302.20" stroke="#231f20" stroke-width="0.90" />
<text x="188.00" y="310.80" font-size="6.40" text-anchor="middle" fill="#333">15%</text>
<line x1="216.00" y1="299.20" x2="216.00" y2="302.20" stroke="#231f20" stroke-width="0.90" />
<text x="216.00" y="310.80" font-size="6.40" text-anchor="middle" fill="#333">20%</text>
<rect x="173.80" y="260.00" width="8.70" height="4.60" fill="#9fc5e0" />
<text x="185.50" y="264.60" font-size="6.40" fill="#333">Up</text>
<rect x="173.80" y="268.80" width="8.70" height="4.60" fill="#4277ab" />
<text x="185.50" y="273.40" font-size="6.40" fill="#333">Down</text>
<text x="184.00" y="287.30" font-size="6.20" text-anchor="middle" fill="#333" textLength="48.00" lengthAdjust="spacingAndGlyphs">|fold change|&gt;1.5</text>
<text x="184.5" y="294.0" font-size="6.2" text-anchor="middle" fill="#333"><tspan font-style="italic">P</tspan> ≤ .01</text>
<text x="244.80" y="190.80" font-size="12.20" font-weight="bold" stroke="#231f20" stroke-width="0.35">D</text>
<text x="318.50" y="193.70" font-size="7.60" text-anchor="middle" fill="#2a2a2a" textLength="51.00" lengthAdjust="spacingAndGlyphs">Enrichment plot:</text>
<text x="318.50" y="201.10" font-size="7.60" text-anchor="middle" fill="#2a2a2a" textLength="74.50" lengthAdjust="spacingAndGlyphs">HALLMARK_APOPTOSIS</text>
<rect x="278.20" y="202.50" width="90.30" height="43.00" fill="none" stroke="#d2d2d2" stroke-width="0.5"/>
<line x1="278.20" y1="243.30" x2="368.00" y2="243.30" stroke="#bdbdbd" stroke-width="0.40" />
<text x="276.90" y="206.00" font-size="4.80" text-anchor="end" fill="#555" textLength="9.40" lengthAdjust="spacingAndGlyphs">0.45</text>
<line x1="277.20" y1="204.40" x2="278.20" y2="204.40" stroke="#555" stroke-width="0.40" />
<text x="276.90" y="210.32" font-size="4.80" text-anchor="end" fill="#555" textLength="9.40" lengthAdjust="spacingAndGlyphs">0.40</text>
<line x1="277.20" y1="208.72" x2="278.20" y2="208.72" stroke="#555" stroke-width="0.40" />
<text x="276.90" y="214.64" font-size="4.80" text-anchor="end" fill="#555" textLength="9.40" lengthAdjust="spacingAndGlyphs">0.35</text>
<line x1="277.20" y1="213.04" x2="278.20" y2="213.04" stroke="#555" stroke-width="0.40" />
<text x="276.90" y="218.96" font-size="4.80" text-anchor="end" fill="#555" textLength="9.40" lengthAdjust="spacingAndGlyphs">0.30</text>
<line x1="277.20" y1="217.36" x2="278.20" y2="217.36" stroke="#555" stroke-width="0.40" />
<text x="276.90" y="223.28" font-size="4.80" text-anchor="end" fill="#555" textLength="9.40" lengthAdjust="spacingAndGlyphs">0.25</text>
<line x1="277.20" y1="221.68" x2="278.20" y2="221.68" stroke="#555" stroke-width="0.40" />
<text x="276.90" y="227.60" font-size="4.80" text-anchor="end" fill="#555" textLength="9.40" lengthAdjust="spacingAndGlyphs">0.20</text>
<line x1="277.20" y1="226.00" x2="278.20" y2="226.00" stroke="#555" stroke-width="0.40" />
<text x="276.90" y="231.92" font-size="4.80" text-anchor="end" fill="#555" textLength="9.40" lengthAdjust="spacingAndGlyphs">0.15</text>
<line x1="277.20" y1="230.32" x2="278.20" y2="230.32" stroke="#555" stroke-width="0.40" />
<text x="276.90" y="236.24" font-size="4.80" text-anchor="end" fill="#555" textLength="9.40" lengthAdjust="spacingAndGlyphs">0.10</text>
<line x1="277.20" y1="234.64" x2="278.20" y2="234.64" stroke="#555" stroke-width="0.40" />
<text x="276.90" y="240.56" font-size="4.80" text-anchor="end" fill="#555" textLength="9.40" lengthAdjust="spacingAndGlyphs">0.05</text>
<line x1="277.20" y1="238.96" x2="278.20" y2="238.96" stroke="#555" stroke-width="0.40" />
<text x="276.90" y="244.88" font-size="4.80" text-anchor="end" fill="#555" textLength="9.40" lengthAdjust="spacingAndGlyphs">0.00</text>
<line x1="277.20" y1="243.28" x2="278.20" y2="243.28" stroke="#555" stroke-width="0.40" />
<path d="M278.40,243.00 L278.80,238.00 L279.40,233.00 L280.20,229.00 L281.50,227.50 L283.00,225.50 L284.00,226.20 L285.30,221.70 L286.50,220.50 L287.50,218.50 L288.50,219.20 L290.30,215.20 L292.00,214.50 L293.20,213.00 L294.00,212.30 L295.50,209.50 L297.50,206.30 L300.00,206.60 L303.00,206.20 L306.00,206.80 L310.50,206.50 L314.00,207.00 L316.00,207.60 L319.90,209.50 L326.00,215.50 L332.90,221.90 L339.00,228.50 L345.90,234.90 L349.00,236.80 L353.60,238.80 L357.00,240.20 L361.40,241.40 L364.00,242.20 L366.00,243.60 L368.00,243.80" stroke="#62b544" stroke-width="1.20" fill="none" stroke-linejoin="round"/>
<text x="283.50" y="234.30" font-size="5.20" fill="#333" textLength="22.00" lengthAdjust="spacingAndGlyphs">NES=2.45</text>
<text x="283.50" y="239.20" font-size="5.20" fill="#333" textLength="31.00" lengthAdjust="spacingAndGlyphs">FDR q&lt;0.0004</text>
<defs><linearGradient id="bg11" x1="0" x2="1" y1="0" y2="0"><stop offset="0" stop-color="#7c7c7c"/><stop offset="0.3" stop-color="#8e8e8e"/><stop offset="0.5" stop-color="#aaaaaa"/><stop offset="0.6" stop-color="#c4c4c4"/><stop offset="0.66" stop-color="#e6e6e6"/><stop offset="0.74" stop-color="#b4b4b4"/><stop offset="1" stop-color="#a2a2a2"/></linearGradient></defs>
<rect x="278.20" y="246.60" width="89.80" height="14.80" fill="url(#bg11)" />
<rect x="278.20" y="246.60" width="1.10" height="14.80" fill="rgb(140,140,140)" />
<rect x="279.60" y="246.60" width="0.70" height="14.80" fill="rgb(45,45,45)" />
<rect x="282.60" y="246.60" width="0.50" height="14.80" fill="rgb(30,30,30)" />
<rect x="283.40" y="246.60" width="0.50" height="14.80" fill="rgb(30,30,30)" />
<rect x="284.20" y="246.60" width="1.40" height="14.80" fill="rgb(10,10,10)" />
<rect x="287.90" y="246.60" width="1.40" height="14.80" fill="rgb(30,30,30)" />
<rect x="289.60" y="246.60" width="0.50" height="14.80" fill="rgb(20,20,20)" />
<rect x="290.40" y="246.60" width="1.40" height="14.80" fill="rgb(45,45,45)" />
<rect x="292.10" y="246.60" width="0.90" height="14.80" fill="rgb(140,140,140)" />
<rect x="293.30" y="246.60" width="1.40" height="14.80" fill="rgb(45,45,45)" />
<rect x="295.00" y="246.60" width="1.10" height="14.80" fill="rgb(60,60,60)" />
<rect x="296.40" y="246.60" width="1.10" height="14.80" fill="rgb(20,20,20)" />
<rect x="297.80" y="246.60" width="1.40" height="14.80" fill="rgb(110,110,110)" />
<rect x="303.10" y="246.60" width="1.10" height="14.80" fill="rgb(20,20,20)" />
<rect x="304.50" y="246.60" width="1.10" height="14.80" fill="rgb(60,60,60)" />
<rect x="305.90" y="246.60" width="0.50" height="14.80" fill="rgb(10,10,10)" />
<rect x="306.70" y="246.60" width="1.10" height="14.80" fill="rgb(10,10,10)" />
<rect x="308.10" y="246.60" width="1.10" height="14.80" fill="rgb(110,110,110)" />
<rect x="309.50" y="246.60" width="0.90" height="14.80" fill="rgb(45,45,45)" />
<rect x="310.70" y="246.60" width="0.90" height="14.80" fill="rgb(60,60,60)" />
<rect x="311.90" y="246.60" width="0.50" height="14.80" fill="rgb(110,110,110)" />
<rect x="312.70" y="246.60" width="0.50" height="14.80" fill="rgb(20,20,20)" />
<rect x="313.50" y="246.60" width="0.70" height="14.80" fill="rgb(140,140,140)" />
<rect x="315.50" y="246.60" width="0.70" height="14.80" fill="rgb(45,45,45)" />
<rect x="316.50" y="246.60" width="0.50" height="14.80" fill="rgb(110,110,110)" />
<rect x="317.30" y="246.60" width="0.50" height="14.80" fill="rgb(45,45,45)" />
<rect x="318.10" y="246.60" width="0.50" height="14.80" fill="rgb(60,60,60)" />
<rect x="318.90" y="246.60" width="1.40" height="14.80" fill="rgb(110,110,110)" />
<rect x="320.60" y="246.60" width="0.50" height="14.80" fill="rgb(20,20,20)" />
<rect x="322.40" y="246.60" width="1.40" height="14.80" fill="rgb(10,10,10)" />
<rect x="324.10" y="246.60" width="1.10" height="14.80" fill="rgb(60,60,60)" />
<rect x="325.50" y="246.60" width="0.70" height="14.80" fill="rgb(20,20,20)" />
<rect x="327.50" y="246.60" width="0.90" height="14.80" fill="rgb(80,80,80)" />
<rect x="346.40" y="246.60" width="0.50" height="14.80" fill="rgb(20,20,20)" />
<rect x="347.20" y="246.60" width="0.70" height="14.80" fill="rgb(60,60,60)" />
<rect x="350.20" y="246.60" width="0.90" height="14.80" fill="rgb(140,140,140)" />
<rect x="351.40" y="246.60" width="0.70" height="14.80" fill="rgb(20,20,20)" />
<rect x="352.40" y="246.60" width="0.90" height="14.80" fill="rgb(20,20,20)" />
<rect x="353.60" y="246.60" width="0.50" height="14.80" fill="rgb(45,45,45)" />
<rect x="354.40" y="246.60" width="1.10" height="14.80" fill="rgb(110,110,110)" />
<rect x="355.80" y="246.60" width="0.70" height="14.80" fill="rgb(10,10,10)" />
<rect x="356.80" y="246.60" width="0.50" height="14.80" fill="rgb(30,30,30)" />
<rect x="357.60" y="246.60" width="0.90" height="14.80" fill="rgb(140,140,140)" />
<rect x="360.40" y="246.60" width="0.90" height="14.80" fill="rgb(80,80,80)" />
<rect x="362.80" y="246.60" width="0.90" height="14.80" fill="rgb(60,60,60)" />
<rect x="364.00" y="246.60" width="0.50" height="14.80" fill="rgb(20,20,20)" />
<rect x="364.80" y="246.60" width="0.50" height="14.80" fill="rgb(80,80,80)" />
<defs><linearGradient id="g11" x1="0" x2="1" y1="0" y2="0"><stop offset="0" stop-color="#dc2b35"/><stop offset="0.4" stop-color="#e4535e"/><stop offset="0.46" stop-color="#eba3b3"/><stop offset="0.6" stop-color="#e6ccdc"/><stop offset="0.75" stop-color="#d0c8e6"/><stop offset="0.82" stop-color="#aaa4d8"/><stop offset="0.86" stop-color="#403b9e"/><stop offset="1" stop-color="#27247a"/></linearGradient></defs>
<rect x="278.20" y="261.40" width="89.80" height="3.60" fill="url(#g11)" />
<text x="278.80" y="271.00" font-size="5.30" font-style="italic" fill="#dc3c58" textLength="50.00" lengthAdjust="spacingAndGlyphs">iKdm1a<tspan font-size="3.44" dy="-1.85">KD</tspan><tspan dy="1.85">;Eμ-TCL1A</tspan></text>
<text x="368.00" y="271.00" font-size="4.20" text-anchor="end" fill="#555" textLength="38.50" lengthAdjust="spacingAndGlyphs">(positively correlated)</text>
<rect x="278.20" y="265.60" width="90.30" height="27.60" fill="none" stroke="#d2d2d2" stroke-width="0.5"/>
<path d="M278.20,282.70 L278.20,275.90 L279.70,277.10 L283.20,278.10 L290.20,279.10 L303.20,280.30 L318.20,281.70 L324.90,282.70 L345.55,283.80 L361.71,284.90 L366.50,285.90 L368.00,287.70 L368.00,282.70 Z" stroke="none" stroke-width="0.80" fill="#cccccc" />
<line x1="278.20" y1="282.70" x2="368.00" y2="282.70" stroke="#aaa" stroke-width="0.30" />
<text x="324.90" y="279.70" font-size="2.60" text-anchor="middle" fill="#888">Zero cross at 8,906</text>
<text x="277.00" y="266.80" font-size="3.80" text-anchor="end" fill="#666">4</text>
<text x="277.00" y="271.10" font-size="3.80" text-anchor="end" fill="#666">3</text>
<text x="277.00" y="275.40" font-size="3.80" text-anchor="end" fill="#666">2</text>
<text x="277.00" y="279.70" font-size="3.80" text-anchor="end" fill="#666">1</text>
<text x="277.00" y="284.00" font-size="3.80" text-anchor="end" fill="#666">0</text>
<text x="277.00" y="288.30" font-size="3.80" text-anchor="end" fill="#666">−1</text>
<text x="277.00" y="292.60" font-size="3.80" text-anchor="end" fill="#666">−2</text>
<text x="301.00" y="291.90" font-size="4.20" fill="#555" textLength="44.00" lengthAdjust="spacingAndGlyphs">(negatively correlated)</text>
<text x="370.40" y="291.90" font-size="5.30" text-anchor="end" font-style="italic" fill="#3a78b5" textLength="25.00" lengthAdjust="spacingAndGlyphs">Eμ-TCL1A</text>
<text x="279.70" y="295.80" font-size="5.20" text-anchor="end" fill="#444" transform="rotate(-45.00 279.70 295.80)">0</text>
<text x="290.00" y="295.80" font-size="5.20" text-anchor="end" fill="#444" textLength="11.00" lengthAdjust="spacingAndGlyphs" transform="rotate(-45.00 290.00 295.80)">2,000</text>
<text x="299.75" y="295.80" font-size="5.20" text-anchor="end" fill="#444" textLength="11.00" lengthAdjust="spacingAndGlyphs" transform="rotate(-45.00 299.75 295.80)">4,000</text>
<text x="309.50" y="295.80" font-size="5.20" text-anchor="end" fill="#444" textLength="11.00" lengthAdjust="spacingAndGlyphs" transform="rotate(-45.00 309.50 295.80)">6,000</text>
<text x="319.25" y="295.80" font-size="5.20" text-anchor="end" fill="#444" textLength="11.00" lengthAdjust="spacingAndGlyphs" transform="rotate(-45.00 319.25 295.80)">8,000</text>
<text x="329.00" y="295.80" font-size="5.20" text-anchor="end" fill="#444" textLength="13.20" lengthAdjust="spacingAndGlyphs" transform="rotate(-45.00 329.00 295.80)">10,000</text>
<text x="338.75" y="295.80" font-size="5.20" text-anchor="end" fill="#444" textLength="13.20" lengthAdjust="spacingAndGlyphs" transform="rotate(-45.00 338.75 295.80)">12,000</text>
<text x="348.50" y="295.80" font-size="5.20" text-anchor="end" fill="#444" textLength="13.20" lengthAdjust="spacingAndGlyphs" transform="rotate(-45.00 348.50 295.80)">14,000</text>
<text x="358.25" y="295.80" font-size="5.20" text-anchor="end" fill="#444" textLength="13.20" lengthAdjust="spacingAndGlyphs" transform="rotate(-45.00 358.25 295.80)">16,000</text>
<text x="368.00" y="295.80" font-size="5.20" text-anchor="end" fill="#444" textLength="13.20" lengthAdjust="spacingAndGlyphs" transform="rotate(-45.00 368.00 295.80)">18,000</text>
<text x="323.80" y="315.40" font-size="6.40" text-anchor="middle" fill="#333" textLength="54.30" lengthAdjust="spacingAndGlyphs">Rank in ordered dataset</text>
<line x1="267.10" y1="320.60" x2="269.30" y2="320.60" stroke="#62b544" stroke-width="0.70" />
<text x="270.10" y="322.20" font-size="4.50" fill="#555" textLength="33.00" lengthAdjust="spacingAndGlyphs">Enrichment profile</text>
<line x1="310.30" y1="320.60" x2="312.50" y2="320.60" stroke="#222" stroke-width="0.70" />
<text x="313.30" y="322.20" font-size="4.50" fill="#555" textLength="7.40" lengthAdjust="spacingAndGlyphs">Hits</text>
<line x1="325.30" y1="320.60" x2="327.50" y2="320.60" stroke="#999" stroke-width="0.70" />
<text x="328.90" y="322.20" font-size="4.50" fill="#555" textLength="50.60" lengthAdjust="spacingAndGlyphs">Ranking metric scores</text>
<text x="260.70" y="222.00" font-size="6.30" text-anchor="middle" fill="#333" textLength="50.50" lengthAdjust="spacingAndGlyphs" transform="rotate(-90.00 260.70 222.00)">Enrichment score (ES)</text>
<text x="258.90" y="282.00" font-size="6.30" text-anchor="middle" fill="#333" textLength="41.70" lengthAdjust="spacingAndGlyphs" transform="rotate(-90.00 258.90 282.00)">Ranked list metric</text>
<text x="266.50" y="282.00" font-size="6.30" text-anchor="middle" fill="#333" textLength="35.90" lengthAdjust="spacingAndGlyphs" transform="rotate(-90.00 266.50 282.00)">(Signal2Noise)</text>
<text x="450.00" y="193.40" font-size="7.60" text-anchor="middle" fill="#2a2a2a" textLength="51.00" lengthAdjust="spacingAndGlyphs">Enrichment plot:</text>
<text x="450.00" y="200.80" font-size="7.60" text-anchor="middle" fill="#2a2a2a" textLength="83.80" lengthAdjust="spacingAndGlyphs">HALLMARK_P53_PATHWAY</text>
<rect x="408.50" y="202.50" width="92.30" height="43.70" fill="none" stroke="#d2d2d2" stroke-width="0.5"/>
<line x1="408.50" y1="241.30" x2="500.30" y2="241.30" stroke="#bdbdbd" stroke-width="0.40" />
<text x="407.20" y="205.80" font-size="4.80" text-anchor="end" fill="#555" textLength="9.40" lengthAdjust="spacingAndGlyphs">0.40</text>
<line x1="407.50" y1="204.20" x2="408.50" y2="204.20" stroke="#555" stroke-width="0.40" />
<text x="407.20" y="210.43" font-size="4.80" text-anchor="end" fill="#555" textLength="9.40" lengthAdjust="spacingAndGlyphs">0.35</text>
<line x1="407.50" y1="208.83" x2="408.50" y2="208.83" stroke="#555" stroke-width="0.40" />
<text x="407.20" y="215.06" font-size="4.80" text-anchor="end" fill="#555" textLength="9.40" lengthAdjust="spacingAndGlyphs">0.30</text>
<line x1="407.50" y1="213.46" x2="408.50" y2="213.46" stroke="#555" stroke-width="0.40" />
<text x="407.20" y="219.69" font-size="4.80" text-anchor="end" fill="#555" textLength="9.40" lengthAdjust="spacingAndGlyphs">0.25</text>
<line x1="407.50" y1="218.09" x2="408.50" y2="218.09" stroke="#555" stroke-width="0.40" />
<text x="407.20" y="224.32" font-size="4.80" text-anchor="end" fill="#555" textLength="9.40" lengthAdjust="spacingAndGlyphs">0.20</text>
<line x1="407.50" y1="222.72" x2="408.50" y2="222.72" stroke="#555" stroke-width="0.40" />
<text x="407.20" y="228.95" font-size="4.80" text-anchor="end" fill="#555" textLength="9.40" lengthAdjust="spacingAndGlyphs">0.15</text>
<line x1="407.50" y1="227.35" x2="408.50" y2="227.35" stroke="#555" stroke-width="0.40" />
<text x="407.20" y="233.58" font-size="4.80" text-anchor="end" fill="#555" textLength="9.40" lengthAdjust="spacingAndGlyphs">0.10</text>
<line x1="407.50" y1="231.98" x2="408.50" y2="231.98" stroke="#555" stroke-width="0.40" />
<text x="407.20" y="238.21" font-size="4.80" text-anchor="end" fill="#555" textLength="9.40" lengthAdjust="spacingAndGlyphs">0.05</text>
<line x1="407.50" y1="236.61" x2="408.50" y2="236.61" stroke="#555" stroke-width="0.40" />
<text x="407.20" y="242.84" font-size="4.80" text-anchor="end" fill="#555" textLength="9.40" lengthAdjust="spacingAndGlyphs">0.00</text>
<line x1="407.50" y1="241.24" x2="408.50" y2="241.24" stroke="#555" stroke-width="0.40" />
<text x="407.20" y="247.47" font-size="4.80" text-anchor="end" fill="#555" textLength="11.00" lengthAdjust="spacingAndGlyphs">−0.05</text>
<line x1="407.50" y1="245.87" x2="408.50" y2="245.87" stroke="#555" stroke-width="0.40" />
<path d="M408.60,241.00 L409.30,235.00 L410.50,227.00 L412.00,220.00 L413.50,215.50 L415.50,214.20 L418.00,214.60 L420.00,214.00 L423.00,213.60 L425.00,212.00 L427.00,208.00 L428.30,206.10 L431.00,206.00 L434.00,205.40 L437.00,206.00 L440.00,205.80 L442.40,206.60 L446.00,208.60 L450.00,212.00 L455.00,216.20 L460.60,221.30 L467.00,227.50 L472.00,232.00 L476.70,234.40 L481.00,238.00 L484.80,240.40 L489.00,242.60 L493.90,244.40 L496.00,243.00 L498.90,241.40 L500.20,242.40" stroke="#62b544" stroke-width="1.20" fill="none" stroke-linejoin="round"/>
<text x="415.50" y="234.30" font-size="5.20" fill="#333" textLength="22.00" lengthAdjust="spacingAndGlyphs">NES=2.50</text>
<text x="415.50" y="239.20" font-size="5.20" fill="#333" textLength="31.00" lengthAdjust="spacingAndGlyphs">FDR q&lt;0.0002</text>
<defs><linearGradient id="bg23" x1="0" x2="1" y1="0" y2="0"><stop offset="0" stop-color="#7c7c7c"/><stop offset="0.3" stop-color="#8e8e8e"/><stop offset="0.5" stop-color="#aaaaaa"/><stop offset="0.6" stop-color="#c4c4c4"/><stop offset="0.66" stop-color="#e6e6e6"/><stop offset="0.74" stop-color="#b4b4b4"/><stop offset="1" stop-color="#a2a2a2"/></linearGradient></defs>
<rect x="408.50" y="247.70" width="91.80" height="14.00" fill="url(#bg23)" />
<rect x="410.60" y="247.70" width="1.10" height="14.00" fill="rgb(60,60,60)" />
<rect x="412.00" y="247.70" width="0.70" height="14.00" fill="rgb(80,80,80)" />
<rect x="414.50" y="247.70" width="1.40" height="14.00" fill="rgb(45,45,45)" />
<rect x="416.20" y="247.70" width="0.50" height="14.00" fill="rgb(10,10,10)" />
<rect x="417.00" y="247.70" width="1.10" height="14.00" fill="rgb(140,140,140)" />
<rect x="418.40" y="247.70" width="0.90" height="14.00" fill="rgb(110,110,110)" />
<rect x="422.10" y="247.70" width="0.90" height="14.00" fill="rgb(45,45,45)" />
<rect x="423.30" y="247.70" width="1.40" height="14.00" fill="rgb(80,80,80)" />
<rect x="425.00" y="247.70" width="1.40" height="14.00" fill="rgb(80,80,80)" />
<rect x="426.70" y="247.70" width="0.70" height="14.00" fill="rgb(140,140,140)" />
<rect x="430.70" y="247.70" width="1.40" height="14.00" fill="rgb(30,30,30)" />
<rect x="432.40" y="247.70" width="1.40" height="14.00" fill="rgb(45,45,45)" />
<rect x="434.10" y="247.70" width="1.10" height="14.00" fill="rgb(20,20,20)" />
<rect x="435.50" y="247.70" width="1.40" height="14.00" fill="rgb(60,60,60)" />
<rect x="437.20" y="247.70" width="0.50" height="14.00" fill="rgb(80,80,80)" />
<rect x="438.00" y="247.70" width="1.40" height="14.00" fill="rgb(60,60,60)" />
<rect x="439.70" y="247.70" width="1.40" height="14.00" fill="rgb(140,140,140)" />
<rect x="441.40" y="247.70" width="0.50" height="14.00" fill="rgb(30,30,30)" />
<rect x="442.20" y="247.70" width="1.10" height="14.00" fill="rgb(20,20,20)" />
<rect x="443.60" y="247.70" width="1.40" height="14.00" fill="rgb(30,30,30)" />
<rect x="445.30" y="247.70" width="0.70" height="14.00" fill="rgb(110,110,110)" />
<rect x="446.30" y="247.70" width="0.50" height="14.00" fill="rgb(10,10,10)" />
<rect x="447.10" y="247.70" width="0.50" height="14.00" fill="rgb(110,110,110)" />
<rect x="447.90" y="247.70" width="0.50" height="14.00" fill="rgb(45,45,45)" />
<rect x="449.30" y="247.70" width="0.50" height="14.00" fill="rgb(140,140,140)" />
<rect x="450.10" y="247.70" width="1.10" height="14.00" fill="rgb(110,110,110)" />
<rect x="451.50" y="247.70" width="0.90" height="14.00" fill="rgb(20,20,20)" />
<rect x="452.70" y="247.70" width="1.10" height="14.00" fill="rgb(45,45,45)" />
<rect x="455.10" y="247.70" width="1.40" height="14.00" fill="rgb(30,30,30)" />
<rect x="457.80" y="247.70" width="0.70" height="14.00" fill="rgb(110,110,110)" />
<rect x="464.80" y="247.70" width="1.40" height="14.00" fill="rgb(45,45,45)" />
<rect x="472.10" y="247.70" width="0.90" height="14.00" fill="rgb(110,110,110)" />
<rect x="474.50" y="247.70" width="0.90" height="14.00" fill="rgb(30,30,30)" />
<rect x="477.70" y="247.70" width="0.90" height="14.00" fill="rgb(20,20,20)" />
<rect x="479.50" y="247.70" width="1.10" height="14.00" fill="rgb(140,140,140)" />
<rect x="482.40" y="247.70" width="0.50" height="14.00" fill="rgb(110,110,110)" />
<rect x="486.20" y="247.70" width="0.70" height="14.00" fill="rgb(10,10,10)" />
<rect x="494.20" y="247.70" width="0.90" height="14.00" fill="rgb(60,60,60)" />
<rect x="496.00" y="247.70" width="1.10" height="14.00" fill="rgb(10,10,10)" />
<rect x="497.40" y="247.70" width="1.10" height="14.00" fill="rgb(10,10,10)" />
<defs><linearGradient id="g23" x1="0" x2="1" y1="0" y2="0"><stop offset="0" stop-color="#dc2b35"/><stop offset="0.4" stop-color="#e4535e"/><stop offset="0.46" stop-color="#eba3b3"/><stop offset="0.6" stop-color="#e6ccdc"/><stop offset="0.75" stop-color="#d0c8e6"/><stop offset="0.82" stop-color="#aaa4d8"/><stop offset="0.86" stop-color="#403b9e"/><stop offset="1" stop-color="#27247a"/></linearGradient></defs>
<rect x="408.50" y="261.70" width="91.80" height="3.70" fill="url(#g23)" />
<text x="409.10" y="271.50" font-size="5.30" font-style="italic" fill="#dc3c58" textLength="52.00" lengthAdjust="spacingAndGlyphs">iKdm1a<tspan font-size="3.44" dy="-1.85">KD</tspan><tspan dy="1.85">;Eμ-TCL1A</tspan></text>
<text x="500.30" y="271.50" font-size="4.20" text-anchor="end" fill="#555" textLength="38.50" lengthAdjust="spacingAndGlyphs">(positively correlated)</text>
<rect x="408.50" y="266.00" width="92.30" height="28.00" fill="none" stroke="#d2d2d2" stroke-width="0.5"/>
<path d="M408.50,283.10 L408.50,276.30 L410.00,277.50 L413.50,278.50 L420.50,279.50 L433.50,280.70 L448.50,282.10 L456.24,283.10 L477.35,284.20 L493.87,285.30 L498.80,286.30 L500.30,288.10 L500.30,283.10 Z" stroke="none" stroke-width="0.80" fill="#cccccc" />
<line x1="408.50" y1="283.10" x2="500.30" y2="283.10" stroke="#aaa" stroke-width="0.30" />
<text x="456.24" y="280.10" font-size="2.60" text-anchor="middle" fill="#888">Zero cross at 8,906</text>
<text x="407.30" y="267.20" font-size="3.80" text-anchor="end" fill="#666">4</text>
<text x="407.30" y="271.50" font-size="3.80" text-anchor="end" fill="#666">3</text>
<text x="407.30" y="275.80" font-size="3.80" text-anchor="end" fill="#666">2</text>
<text x="407.30" y="280.10" font-size="3.80" text-anchor="end" fill="#666">1</text>
<text x="407.30" y="284.40" font-size="3.80" text-anchor="end" fill="#666">0</text>
<text x="407.30" y="288.70" font-size="3.80" text-anchor="end" fill="#666">−1</text>
<text x="407.30" y="293.00" font-size="3.80" text-anchor="end" fill="#666">−2</text>
<text x="433.70" y="293.40" font-size="4.20" fill="#555" textLength="44.20" lengthAdjust="spacingAndGlyphs">(negatively correlated)</text>
<text x="503.30" y="293.40" font-size="5.30" text-anchor="end" font-style="italic" fill="#3a78b5" textLength="25.00" lengthAdjust="spacingAndGlyphs">Eμ-TCL1A</text>
<text x="409.20" y="296.40" font-size="5.20" text-anchor="end" fill="#444" transform="rotate(-45.00 409.20 296.40)">0</text>
<text x="419.50" y="296.40" font-size="5.20" text-anchor="end" fill="#444" textLength="11.00" lengthAdjust="spacingAndGlyphs" transform="rotate(-45.00 419.50 296.40)">2,000</text>
<text x="429.90" y="296.40" font-size="5.20" text-anchor="end" fill="#444" textLength="11.00" lengthAdjust="spacingAndGlyphs" transform="rotate(-45.00 429.90 296.40)">4,000</text>
<text x="440.30" y="296.40" font-size="5.20" text-anchor="end" fill="#444" textLength="11.00" lengthAdjust="spacingAndGlyphs" transform="rotate(-45.00 440.30 296.40)">6,000</text>
<text x="450.70" y="296.40" font-size="5.20" text-anchor="end" fill="#444" textLength="11.00" lengthAdjust="spacingAndGlyphs" transform="rotate(-45.00 450.70 296.40)">8,000</text>
<text x="461.10" y="296.40" font-size="5.20" text-anchor="end" fill="#444" textLength="13.20" lengthAdjust="spacingAndGlyphs" transform="rotate(-45.00 461.10 296.40)">10,000</text>
<text x="471.50" y="296.40" font-size="5.20" text-anchor="end" fill="#444" textLength="13.20" lengthAdjust="spacingAndGlyphs" transform="rotate(-45.00 471.50 296.40)">12,000</text>
<text x="481.90" y="296.40" font-size="5.20" text-anchor="end" fill="#444" textLength="13.20" lengthAdjust="spacingAndGlyphs" transform="rotate(-45.00 481.90 296.40)">14,000</text>
<text x="492.30" y="296.40" font-size="5.20" text-anchor="end" fill="#444" textLength="13.20" lengthAdjust="spacingAndGlyphs" transform="rotate(-45.00 492.30 296.40)">16,000</text>
<text x="502.70" y="296.40" font-size="5.20" text-anchor="end" fill="#444" textLength="13.20" lengthAdjust="spacingAndGlyphs" transform="rotate(-45.00 502.70 296.40)">18,000</text>
<text x="450.00" y="315.40" font-size="6.40" text-anchor="middle" fill="#333" textLength="54.30" lengthAdjust="spacingAndGlyphs">Rank in ordered dataset</text>
<line x1="393.50" y1="320.60" x2="395.70" y2="320.60" stroke="#62b544" stroke-width="0.70" />
<text x="396.50" y="322.20" font-size="4.50" fill="#555" textLength="33.00" lengthAdjust="spacingAndGlyphs">Enrichment profile</text>
<line x1="436.70" y1="320.60" x2="438.90" y2="320.60" stroke="#222" stroke-width="0.70" />
<text x="439.70" y="322.20" font-size="4.50" fill="#555" textLength="7.40" lengthAdjust="spacingAndGlyphs">Hits</text>
<line x1="451.70" y1="320.60" x2="453.90" y2="320.60" stroke="#999" stroke-width="0.70" />
<text x="455.30" y="322.20" font-size="4.50" fill="#555" textLength="50.60" lengthAdjust="spacingAndGlyphs">Ranking metric scores</text>
<text x="392.60" y="225.00" font-size="6.30" text-anchor="middle" fill="#333" textLength="50.50" lengthAdjust="spacingAndGlyphs" transform="rotate(-90.00 392.60 225.00)">Enrichment score (ES)</text>
<text x="384.40" y="277.80" font-size="6.30" text-anchor="middle" fill="#333" textLength="41.70" lengthAdjust="spacingAndGlyphs" transform="rotate(-90.00 384.40 277.80)">Ranked list metric</text>
<text x="392.20" y="277.80" font-size="6.30" text-anchor="middle" fill="#333" textLength="35.90" lengthAdjust="spacingAndGlyphs" transform="rotate(-90.00 392.20 277.80)">(Signal2Noise)</text>
<line x1="372.60" y1="200.00" x2="372.60" y2="306.00" stroke="#d9d9d9" stroke-width="0.50" />
<text x="7.20" y="343.00" font-size="11.50" font-weight="bold" stroke="#231f20" stroke-width="0.35">E</text>
<text x="15.50" y="354.20" font-size="9.00" textLength="205.00" lengthAdjust="spacingAndGlyphs">genes involved in p53- and pro-apoptotic pathways</text>
<text x="96.00" y="365.90" font-size="6.40" text-anchor="middle" font-style="italic" textLength="27.00" lengthAdjust="spacingAndGlyphs">Eμ-TCL1A</text>
<text x="165.50" y="365.90" font-size="6.40" text-anchor="middle" font-style="italic" textLength="61.00" lengthAdjust="spacingAndGlyphs">iKdm1a<tspan font-size="4.16" dy="-2.24">KD</tspan><tspan dy="2.24">;Eμ-TCL1A</tspan></text>
<line x1="62.50" y1="368.60" x2="130.50" y2="368.60" stroke="#231f20" stroke-width="0.80" />
<line x1="132.00" y1="368.60" x2="199.50" y2="368.60" stroke="#231f20" stroke-width="0.80" />
<rect x="62.00" y="371.60" width="17.95" height="8.54" fill="#f8e0e0" shape-rendering="crispEdges"/>
<rect x="79.25" y="371.60" width="17.95" height="8.54" fill="#ec8080" shape-rendering="crispEdges"/>
<rect x="96.50" y="371.60" width="17.95" height="8.54" fill="#b8b8e0" shape-rendering="crispEdges"/>
<rect x="113.75" y="371.60" width="17.95" height="8.54" fill="#9898d0" shape-rendering="crispEdges"/>
<rect x="131.00" y="371.60" width="17.95" height="8.54" fill="#b0b8e0" shape-rendering="crispEdges"/>
<rect x="148.25" y="371.60" width="17.95" height="8.54" fill="#c8c8e8" shape-rendering="crispEdges"/>
<rect x="165.50" y="371.60" width="17.95" height="8.54" fill="#8080c8" shape-rendering="crispEdges"/>
<rect x="182.75" y="371.60" width="17.25" height="8.54" fill="#4040a0" shape-rendering="crispEdges"/>
<rect x="62.00" y="379.44" width="17.95" height="8.54" fill="#8888cc" shape-rendering="crispEdges"/>
<rect x="79.25" y="379.44" width="17.95" height="8.54" fill="#fafafa" shape-rendering="crispEdges"/>
<rect x="96.50" y="379.44" width="17.95" height="8.54" fill="#f4c0c0" shape-rendering="crispEdges"/>
<rect x="113.75" y="379.44" width="17.95" height="8.54" fill="#fadada" shape-rendering="crispEdges"/>
<rect x="131.00" y="379.44" width="17.95" height="8.54" fill="#8090cc" shape-rendering="crispEdges"/>
<rect x="148.25" y="379.44" width="17.95" height="8.54" fill="#8888c8" shape-rendering="crispEdges"/>
<rect x="165.50" y="379.44" width="17.95" height="8.54" fill="#9090d0" shape-rendering="crispEdges"/>
<rect x="182.75" y="379.44" width="17.25" height="8.54" fill="#4848a8" shape-rendering="crispEdges"/>
<rect x="62.00" y="387.28" width="17.95" height="8.54" fill="#8888cc" shape-rendering="crispEdges"/>
<rect x="79.25" y="387.28" width="17.95" height="8.54" fill="#c0c4e4" shape-rendering="crispEdges"/>
<rect x="96.50" y="387.28" width="17.95" height="8.54" fill="#fcfcfc" shape-rendering="crispEdges"/>
<rect x="113.75" y="387.28" width="17.95" height="8.54" fill="#e86060" shape-rendering="crispEdges"/>
<rect x="131.00" y="387.28" width="17.95" height="8.54" fill="#8898d0" shape-rendering="crispEdges"/>
<rect x="148.25" y="387.28" width="17.95" height="8.54" fill="#b0b8e0" shape-rendering="crispEdges"/>
<rect x="165.50" y="387.28" width="17.95" height="8.54" fill="#a0a8d8" shape-rendering="crispEdges"/>
<rect x="182.75" y="387.28" width="17.25" height="8.54" fill="#6868b8" shape-rendering="crispEdges"/>
<rect x="62.00" y="395.12" width="17.95" height="8.54" fill="#fcfcfc" shape-rendering="crispEdges"/>
<rect x="79.25" y="395.12" width="17.95" height="8.54" fill="#fcecec" shape-rendering="crispEdges"/>
<rect x="96.50" y="395.12" width="17.95" height="8.54" fill="#f0a0a0" shape-rendering="crispEdges"/>
<rect x="113.75" y="395.12" width="17.95" height="8.54" fill="#8890d0" shape-rendering="crispEdges"/>
<rect x="131.00" y="395.12" width="17.95" height="8.54" fill="#e87070" shape-rendering="crispEdges"/>
<rect x="148.25" y="395.12" width="17.95" height="8.54" fill="#e86060" shape-rendering="crispEdges"/>
<rect x="165.50" y="395.12" width="17.95" height="8.54" fill="#f4b8b8" shape-rendering="crispEdges"/>
<rect x="182.75" y="395.12" width="17.25" height="8.54" fill="#e87070" shape-rendering="crispEdges"/>
<rect x="62.00" y="402.96" width="17.95" height="8.54" fill="#fcfcfc" shape-rendering="crispEdges"/>
<rect x="79.25" y="402.96" width="17.95" height="8.54" fill="#fdf0f0" shape-rendering="crispEdges"/>
<rect x="96.50" y="402.96" width="17.95" height="8.54" fill="#fce8e8" shape-rendering="crispEdges"/>
<rect x="113.75" y="402.96" width="17.95" height="8.54" fill="#eef0f8" shape-rendering="crispEdges"/>
<rect x="131.00" y="402.96" width="17.95" height="8.54" fill="#e87070" shape-rendering="crispEdges"/>
<rect x="148.25" y="402.96" width="17.95" height="8.54" fill="#e86060" shape-rendering="crispEdges"/>
<rect x="165.50" y="402.96" width="17.95" height="8.54" fill="#f8c8c8" shape-rendering="crispEdges"/>
<rect x="182.75" y="402.96" width="17.25" height="8.54" fill="#e03030" shape-rendering="crispEdges"/>
<rect x="62.00" y="410.80" width="17.95" height="8.54" fill="#fdf4f4" shape-rendering="crispEdges"/>
<rect x="79.25" y="410.80" width="17.95" height="8.54" fill="#fcfcfc" shape-rendering="crispEdges"/>
<rect x="96.50" y="410.80" width="17.95" height="8.54" fill="#fae0e0" shape-rendering="crispEdges"/>
<rect x="113.75" y="410.80" width="17.95" height="8.54" fill="#eef0f8" shape-rendering="crispEdges"/>
<rect x="131.00" y="410.80" width="17.95" height="8.54" fill="#e02828" shape-rendering="crispEdges"/>
<rect x="148.25" y="410.80" width="17.95" height="8.54" fill="#f09898" shape-rendering="crispEdges"/>
<rect x="165.50" y="410.80" width="17.95" height="8.54" fill="#f8c8c8" shape-rendering="crispEdges"/>
<rect x="182.75" y="410.80" width="17.25" height="8.54" fill="#e86060" shape-rendering="crispEdges"/>
<rect x="62.00" y="418.64" width="17.95" height="8.54" fill="#dde4f0" shape-rendering="crispEdges"/>
<rect x="79.25" y="418.64" width="17.95" height="8.54" fill="#fcfcfc" shape-rendering="crispEdges"/>
<rect x="96.50" y="418.64" width="17.95" height="8.54" fill="#f4b8b8" shape-rendering="crispEdges"/>
<rect x="113.75" y="418.64" width="17.95" height="8.54" fill="#d8dcf0" shape-rendering="crispEdges"/>
<rect x="131.00" y="418.64" width="17.95" height="8.54" fill="#e04848" shape-rendering="crispEdges"/>
<rect x="148.25" y="418.64" width="17.95" height="8.54" fill="#e86868" shape-rendering="crispEdges"/>
<rect x="165.50" y="418.64" width="17.95" height="8.54" fill="#fae8e8" shape-rendering="crispEdges"/>
<rect x="182.75" y="418.64" width="17.25" height="8.54" fill="#e86060" shape-rendering="crispEdges"/>
<rect x="62.00" y="426.48" width="17.95" height="8.54" fill="#eef0f8" shape-rendering="crispEdges"/>
<rect x="79.25" y="426.48" width="17.95" height="8.54" fill="#e4e8f4" shape-rendering="crispEdges"/>
<rect x="96.50" y="426.48" width="17.95" height="8.54" fill="#fdf0f0" shape-rendering="crispEdges"/>
<rect x="113.75" y="426.48" width="17.95" height="8.54" fill="#f8e4e4" shape-rendering="crispEdges"/>
<rect x="131.00" y="426.48" width="17.95" height="8.54" fill="#f4b0b0" shape-rendering="crispEdges"/>
<rect x="148.25" y="426.48" width="17.95" height="8.54" fill="#ec7878" shape-rendering="crispEdges"/>
<rect x="165.50" y="426.48" width="17.95" height="8.54" fill="#e44848" shape-rendering="crispEdges"/>
<rect x="182.75" y="426.48" width="17.25" height="8.54" fill="#e86060" shape-rendering="crispEdges"/>
<rect x="62.00" y="434.32" width="17.95" height="8.54" fill="#f4c0c0" shape-rendering="crispEdges"/>
<rect x="79.25" y="434.32" width="17.95" height="8.54" fill="#eef0f8" shape-rendering="crispEdges"/>
<rect x="96.50" y="434.32" width="17.95" height="8.54" fill="#fdf4f4" shape-rendering="crispEdges"/>
<rect x="113.75" y="434.32" width="17.95" height="8.54" fill="#dde4f0" shape-rendering="crispEdges"/>
<rect x="131.00" y="434.32" width="17.95" height="8.54" fill="#fcf4f4" shape-rendering="crispEdges"/>
<rect x="148.25" y="434.32" width="17.95" height="8.54" fill="#f8d0d0" shape-rendering="crispEdges"/>
<rect x="165.50" y="434.32" width="17.95" height="8.54" fill="#f8d0d0" shape-rendering="crispEdges"/>
<rect x="182.75" y="434.32" width="17.25" height="8.54" fill="#e02020" shape-rendering="crispEdges"/>
<rect x="62.00" y="442.16" width="17.95" height="8.54" fill="#fdf0f0" shape-rendering="crispEdges"/>
<rect x="79.25" y="442.16" width="17.95" height="8.54" fill="#fcfcfc" shape-rendering="crispEdges"/>
<rect x="96.50" y="442.16" width="17.95" height="8.54" fill="#fcfcfc" shape-rendering="crispEdges"/>
<rect x="113.75" y="442.16" width="17.95" height="8.54" fill="#fcf0f0" shape-rendering="crispEdges"/>
<rect x="131.00" y="442.16" width="17.95" height="8.54" fill="#fae4e4" shape-rendering="crispEdges"/>
<rect x="148.25" y="442.16" width="17.95" height="8.54" fill="#f8c8c8" shape-rendering="crispEdges"/>
<rect x="165.50" y="442.16" width="17.95" height="8.54" fill="#f8d0d0" shape-rendering="crispEdges"/>
<rect x="182.75" y="442.16" width="17.25" height="8.54" fill="#e02020" shape-rendering="crispEdges"/>
<rect x="62.00" y="450.00" width="17.95" height="8.54" fill="#fdf2f2" shape-rendering="crispEdges"/>
<rect x="79.25" y="450.00" width="17.95" height="8.54" fill="#fdf6f6" shape-rendering="crispEdges"/>
<rect x="96.50" y="450.00" width="17.95" height="8.54" fill="#fcfcfc" shape-rendering="crispEdges"/>
<rect x="113.75" y="450.00" width="17.95" height="8.54" fill="#fcf2f2" shape-rendering="crispEdges"/>
<rect x="131.00" y="450.00" width="17.95" height="8.54" fill="#f8d0d0" shape-rendering="crispEdges"/>
<rect x="148.25" y="450.00" width="17.95" height="8.54" fill="#f4b8b8" shape-rendering="crispEdges"/>
<rect x="165.50" y="450.00" width="17.95" height="8.54" fill="#fbeaea" shape-rendering="crispEdges"/>
<rect x="182.75" y="450.00" width="17.25" height="8.54" fill="#e02020" shape-rendering="crispEdges"/>
<rect x="62.00" y="457.84" width="17.95" height="8.54" fill="#fdf4f4" shape-rendering="crispEdges"/>
<rect x="79.25" y="457.84" width="17.95" height="8.54" fill="#f6f6fb" shape-rendering="crispEdges"/>
<rect x="96.50" y="457.84" width="17.95" height="8.54" fill="#f0f2fa" shape-rendering="crispEdges"/>
<rect x="113.75" y="457.84" width="17.95" height="8.54" fill="#fcf4f4" shape-rendering="crispEdges"/>
<rect x="131.00" y="457.84" width="17.95" height="8.54" fill="#fae4e4" shape-rendering="crispEdges"/>
<rect x="148.25" y="457.84" width="17.95" height="8.54" fill="#f4b8b8" shape-rendering="crispEdges"/>
<rect x="165.50" y="457.84" width="17.95" height="8.54" fill="#fbe8e8" shape-rendering="crispEdges"/>
<rect x="182.75" y="457.84" width="17.25" height="8.54" fill="#e02020" shape-rendering="crispEdges"/>
<rect x="62.00" y="465.68" width="17.95" height="8.54" fill="#fae8e8" shape-rendering="crispEdges"/>
<rect x="79.25" y="465.68" width="17.95" height="8.54" fill="#fcf2f2" shape-rendering="crispEdges"/>
<rect x="96.50" y="465.68" width="17.95" height="8.54" fill="#fcfcfc" shape-rendering="crispEdges"/>
<rect x="113.75" y="465.68" width="17.95" height="8.54" fill="#dde2f2" shape-rendering="crispEdges"/>
<rect x="131.00" y="465.68" width="17.95" height="8.54" fill="#f8d4d4" shape-rendering="crispEdges"/>
<rect x="148.25" y="465.68" width="17.95" height="8.54" fill="#f4b0b0" shape-rendering="crispEdges"/>
<rect x="165.50" y="465.68" width="17.95" height="8.54" fill="#f6c0c0" shape-rendering="crispEdges"/>
<rect x="182.75" y="465.68" width="17.25" height="8.54" fill="#e02020" shape-rendering="crispEdges"/>
<rect x="62.00" y="473.52" width="17.95" height="8.54" fill="#fdf2f2" shape-rendering="crispEdges"/>
<rect x="79.25" y="473.52" width="17.95" height="8.54" fill="#f8d4d4" shape-rendering="crispEdges"/>
<rect x="96.50" y="473.52" width="17.95" height="8.54" fill="#eef0f8" shape-rendering="crispEdges"/>
<rect x="113.75" y="473.52" width="17.95" height="8.54" fill="#f2f4fa" shape-rendering="crispEdges"/>
<rect x="131.00" y="473.52" width="17.95" height="8.54" fill="#fae4e4" shape-rendering="crispEdges"/>
<rect x="148.25" y="473.52" width="17.95" height="8.54" fill="#f4b0b0" shape-rendering="crispEdges"/>
<rect x="165.50" y="473.52" width="17.95" height="8.54" fill="#f4b0b0" shape-rendering="crispEdges"/>
<rect x="182.75" y="473.52" width="17.25" height="8.54" fill="#e02020" shape-rendering="crispEdges"/>
<rect x="62.00" y="481.36" width="17.95" height="8.54" fill="#fdf4f4" shape-rendering="crispEdges"/>
<rect x="79.25" y="481.36" width="17.95" height="8.54" fill="#fae6e6" shape-rendering="crispEdges"/>
<rect x="96.50" y="481.36" width="17.95" height="8.54" fill="#eef0f8" shape-rendering="crispEdges"/>
<rect x="113.75" y="481.36" width="17.95" height="8.54" fill="#eef0f8" shape-rendering="crispEdges"/>
<rect x="131.00" y="481.36" width="17.95" height="8.54" fill="#fae8e8" shape-rendering="crispEdges"/>
<rect x="148.25" y="481.36" width="17.95" height="8.54" fill="#f4b0b0" shape-rendering="crispEdges"/>
<rect x="165.50" y="481.36" width="17.95" height="8.54" fill="#f4b8b8" shape-rendering="crispEdges"/>
<rect x="182.75" y="481.36" width="17.25" height="8.54" fill="#e02020" shape-rendering="crispEdges"/>
<rect x="62.00" y="489.20" width="17.95" height="8.54" fill="#fdf6f6" shape-rendering="crispEdges"/>
<rect x="79.25" y="489.20" width="17.95" height="8.54" fill="#fcfcfc" shape-rendering="crispEdges"/>
<rect x="96.50" y="489.20" width="17.95" height="8.54" fill="#fcf4f4" shape-rendering="crispEdges"/>
<rect x="113.75" y="489.20" width="17.95" height="8.54" fill="#fcfcfc" shape-rendering="crispEdges"/>
<rect x="131.00" y="489.20" width="17.95" height="8.54" fill="#f8d0d0" shape-rendering="crispEdges"/>
<rect x="148.25" y="489.20" width="17.95" height="8.54" fill="#ec8080" shape-rendering="crispEdges"/>
<rect x="165.50" y="489.20" width="17.95" height="8.54" fill="#f6c4c4" shape-rendering="crispEdges"/>
<rect x="182.75" y="489.20" width="17.25" height="8.54" fill="#e02020" shape-rendering="crispEdges"/>
<rect x="62.00" y="497.04" width="17.95" height="8.54" fill="#fdf4f4" shape-rendering="crispEdges"/>
<rect x="79.25" y="497.04" width="17.95" height="8.54" fill="#fcf4f4" shape-rendering="crispEdges"/>
<rect x="96.50" y="497.04" width="17.95" height="8.54" fill="#fcf6f6" shape-rendering="crispEdges"/>
<rect x="113.75" y="497.04" width="17.95" height="8.54" fill="#fcfcfc" shape-rendering="crispEdges"/>
<rect x="131.00" y="497.04" width="17.95" height="8.54" fill="#f6c4c4" shape-rendering="crispEdges"/>
<rect x="148.25" y="497.04" width="17.95" height="8.54" fill="#ec7c7c" shape-rendering="crispEdges"/>
<rect x="165.50" y="497.04" width="17.95" height="8.54" fill="#f6c4c4" shape-rendering="crispEdges"/>
<rect x="182.75" y="497.04" width="17.25" height="8.54" fill="#e02020" shape-rendering="crispEdges"/>
<rect x="62.00" y="504.88" width="17.95" height="8.54" fill="#fae4e4" shape-rendering="crispEdges"/>
<rect x="79.25" y="504.88" width="17.95" height="8.54" fill="#fcf0f0" shape-rendering="crispEdges"/>
<rect x="96.50" y="504.88" width="17.95" height="8.54" fill="#fcf6f6" shape-rendering="crispEdges"/>
<rect x="113.75" y="504.88" width="17.95" height="8.54" fill="#d8dcf0" shape-rendering="crispEdges"/>
<rect x="131.00" y="504.88" width="17.95" height="8.54" fill="#f6c4c4" shape-rendering="crispEdges"/>
<rect x="148.25" y="504.88" width="17.95" height="8.54" fill="#f09090" shape-rendering="crispEdges"/>
<rect x="165.50" y="504.88" width="17.95" height="8.54" fill="#f6c8c8" shape-rendering="crispEdges"/>
<rect x="182.75" y="504.88" width="17.25" height="8.54" fill="#e02020" shape-rendering="crispEdges"/>
<rect x="62.00" y="512.72" width="17.95" height="7.84" fill="#fcf2f2" shape-rendering="crispEdges"/>
<rect x="79.25" y="512.72" width="17.95" height="7.84" fill="#fcf4f4" shape-rendering="crispEdges"/>
<rect x="96.50" y="512.72" width="17.95" height="7.84" fill="#fcf0f0" shape-rendering="crispEdges"/>
<rect x="113.75" y="512.72" width="17.95" height="7.84" fill="#e0e4f4" shape-rendering="crispEdges"/>
<rect x="131.00" y="512.72" width="17.95" height="7.84" fill="#f8cccc" shape-rendering="crispEdges"/>
<rect x="148.25" y="512.72" width="17.95" height="7.84" fill="#f09898" shape-rendering="crispEdges"/>
<rect x="165.50" y="512.72" width="17.95" height="7.84" fill="#f6c4c4" shape-rendering="crispEdges"/>
<rect x="182.75" y="512.72" width="17.25" height="7.84" fill="#e03030" shape-rendering="crispEdges"/>
<line x1="200.00" y1="375.52" x2="202.20" y2="375.52" stroke="#231f20" stroke-width="0.60" />
<text x="202.60" y="378.42" font-size="7.00" font-style="italic" textLength="9.31" lengthAdjust="spacingAndGlyphs">Bid</text>
<line x1="200.00" y1="383.36" x2="202.20" y2="383.36" stroke="#231f20" stroke-width="0.60" />
<text x="202.60" y="386.26" font-size="7.00" font-style="italic" textLength="14.67" lengthAdjust="spacingAndGlyphs">Birc2</text>
<line x1="200.00" y1="391.20" x2="202.20" y2="391.20" stroke="#231f20" stroke-width="0.60" />
<text x="202.60" y="394.10" font-size="7.00" font-style="italic" textLength="18.25" lengthAdjust="spacingAndGlyphs">Zmat3</text>
<line x1="200.00" y1="399.04" x2="202.20" y2="399.04" stroke="#231f20" stroke-width="0.60" />
<text x="202.60" y="401.94" font-size="7.00" font-style="italic" textLength="15.03" lengthAdjust="spacingAndGlyphs">Cdk1</text>
<line x1="200.00" y1="406.88" x2="202.20" y2="406.88" stroke="#231f20" stroke-width="0.60" />
<text x="202.60" y="409.78" font-size="7.00" font-style="italic" textLength="15.03" lengthAdjust="spacingAndGlyphs">Cdk6</text>
<text x="233.00" y="409.88" font-size="5.00" text-anchor="middle">*</text>
<line x1="200.00" y1="414.72" x2="202.20" y2="414.72" stroke="#231f20" stroke-width="0.60" />
<text x="202.60" y="417.62" font-size="7.00" font-style="italic" textLength="17.90" lengthAdjust="spacingAndGlyphs">Thbs1</text>
<line x1="200.00" y1="422.56" x2="202.20" y2="422.56" stroke="#231f20" stroke-width="0.60" />
<text x="202.60" y="425.46" font-size="7.00" font-style="italic" textLength="23.62" lengthAdjust="spacingAndGlyphs">Tnfrsf1a</text>
<line x1="200.00" y1="430.40" x2="202.20" y2="430.40" stroke="#231f20" stroke-width="0.60" />
<text x="202.60" y="433.30" font-size="7.00" font-style="italic" textLength="19.33" lengthAdjust="spacingAndGlyphs">Mapk9</text>
<text x="233.00" y="433.40" font-size="5.00" text-anchor="middle">*</text>
<line x1="200.00" y1="438.24" x2="202.20" y2="438.24" stroke="#231f20" stroke-width="0.60" />
<text x="202.60" y="441.14" font-size="7.00" font-style="italic" textLength="18.61" lengthAdjust="spacingAndGlyphs">Ccne2</text>
<line x1="200.00" y1="446.08" x2="202.20" y2="446.08" stroke="#231f20" stroke-width="0.60" />
<text x="202.60" y="448.98" font-size="7.00" font-style="italic" textLength="18.61" lengthAdjust="spacingAndGlyphs">Ccnb1</text>
<line x1="200.00" y1="453.92" x2="202.20" y2="453.92" stroke="#231f20" stroke-width="0.60" />
<text x="202.60" y="456.82" font-size="7.00" font-style="italic" textLength="26.50" lengthAdjust="spacingAndGlyphs">Gadd45a</text>
<line x1="200.00" y1="461.76" x2="202.20" y2="461.76" stroke="#231f20" stroke-width="0.60" />
<text x="202.60" y="464.66" font-size="7.00" font-style="italic" textLength="14.67" lengthAdjust="spacingAndGlyphs">Birc5</text>
<line x1="200.00" y1="469.60" x2="202.20" y2="469.60" stroke="#231f20" stroke-width="0.60" />
<text x="202.60" y="472.50" font-size="7.00" font-style="italic" textLength="18.61" lengthAdjust="spacingAndGlyphs">Ccnb2</text>
<line x1="200.00" y1="477.44" x2="202.20" y2="477.44" stroke="#231f20" stroke-width="0.60" />
<text x="202.60" y="480.34" font-size="7.00" font-style="italic" textLength="18.61" lengthAdjust="spacingAndGlyphs">Casp3</text>
<text x="233.00" y="480.44" font-size="5.00" text-anchor="middle">*</text>
<line x1="200.00" y1="485.28" x2="202.20" y2="485.28" stroke="#231f20" stroke-width="0.60" />
<text x="202.60" y="488.18" font-size="7.00" font-style="italic" textLength="18.61" lengthAdjust="spacingAndGlyphs">Chek1</text>
<line x1="200.00" y1="493.12" x2="202.20" y2="493.12" stroke="#231f20" stroke-width="0.60" />
<text x="202.60" y="496.02" font-size="7.00" font-style="italic" textLength="20.41" lengthAdjust="spacingAndGlyphs">Steap3</text>
<line x1="200.00" y1="500.96" x2="202.20" y2="500.96" stroke="#231f20" stroke-width="0.60" />
<text x="202.60" y="503.86" font-size="7.00" font-style="italic" textLength="26.50" lengthAdjust="spacingAndGlyphs">Gadd45g</text>
<text x="233.00" y="503.96" font-size="5.00" text-anchor="middle">*</text>
<line x1="200.00" y1="508.80" x2="202.20" y2="508.80" stroke="#231f20" stroke-width="0.60" />
<text x="202.60" y="511.70" font-size="7.00" font-style="italic" textLength="15.03" lengthAdjust="spacingAndGlyphs">Cdk4</text>
<line x1="200.00" y1="516.64" x2="202.20" y2="516.64" stroke="#231f20" stroke-width="0.60" />
<text x="202.60" y="519.54" font-size="7.00" font-style="italic" textLength="20.05" lengthAdjust="spacingAndGlyphs">Siah1b</text>
<path d="M60.50,375.52 L46.30,375.52 L46.30,387.30 L52.60,387.30" stroke="#222" stroke-width="0.75" fill="none" />
<path d="M60.50,383.36 L52.60,383.36 L52.60,391.20 L60.50,391.20" stroke="#222" stroke-width="0.75" fill="none" />
<path d="M46.30,381.60 L34.30,381.60 L34.30,415.30 L45.10,415.30" stroke="#222" stroke-width="0.75" fill="none" />
<path d="M60.50,399.04 L45.10,399.04 L45.10,430.70 L60.50,430.70" stroke="#222" stroke-width="0.75" fill="none" />
<path d="M51.10,411.90 L51.10,469.30 L56.50,469.30" stroke="#222" stroke-width="0.75" fill="none" />
<path d="M51.10,411.90 L55.40,411.90" stroke="#222" stroke-width="0.75" fill="none" />
<path d="M60.50,406.88 L55.40,406.88 L55.40,418.60 L56.60,418.60" stroke="#222" stroke-width="0.75" fill="none" />
<path d="M60.50,414.72 L56.60,414.72 L56.60,422.56 L60.50,422.56" stroke="#222" stroke-width="0.75" fill="none" />
<path d="M56.50,438.24 L56.50,516.64" stroke="#222" stroke-width="0.75" fill="none" />
<path d="M60.50,438.24 L58.00,438.24 L58.00,446.08 L60.50,446.08" stroke="#222" stroke-width="0.60" fill="none" />
<path d="M56.50,442.16 L58.00,442.16" stroke="#222" stroke-width="0.60" fill="none" />
<path d="M60.50,453.92 L58.60,453.92 L58.60,461.76 L60.50,461.76" stroke="#222" stroke-width="0.60" fill="none" />
<path d="M56.50,457.84 L58.60,457.84" stroke="#222" stroke-width="0.60" fill="none" />
<path d="M60.50,469.60 L58.40,469.60 L58.40,477.44 L60.50,477.44" stroke="#222" stroke-width="0.60" fill="none" />
<path d="M56.50,473.52 L58.40,473.52" stroke="#222" stroke-width="0.60" fill="none" />
<path d="M60.50,485.28 L57.80,485.28 L57.80,493.12 L60.50,493.12" stroke="#222" stroke-width="0.60" fill="none" />
<path d="M56.50,489.20 L57.80,489.20" stroke="#222" stroke-width="0.60" fill="none" />
<path d="M60.50,500.96 L58.80,500.96 L58.80,508.80 L60.50,508.80" stroke="#222" stroke-width="0.60" fill="none" />
<path d="M56.50,504.88 L58.80,504.88" stroke="#222" stroke-width="0.60" fill="none" />
<path d="M56.50,516.64 L60.50,516.64" stroke="#222" stroke-width="0.60" fill="none" />
<line x1="32.00" y1="521.50" x2="59.50" y2="521.50" stroke="#231f20" stroke-width="0.70" />
<line x1="32.30" y1="521.50" x2="32.30" y2="523.20" stroke="#231f20" stroke-width="0.60" />
<line x1="38.40" y1="521.50" x2="38.40" y2="523.20" stroke="#231f20" stroke-width="0.60" />
<line x1="45.80" y1="521.50" x2="45.80" y2="523.20" stroke="#231f20" stroke-width="0.60" />
<line x1="58.60" y1="521.50" x2="58.60" y2="523.20" stroke="#231f20" stroke-width="0.60" />
<line x1="32.30" y1="521.50" x2="32.30" y2="522.40" stroke="#231f20" stroke-width="0.40" />
<line x1="34.70" y1="521.50" x2="34.70" y2="522.40" stroke="#231f20" stroke-width="0.40" />
<line x1="37.10" y1="521.50" x2="37.10" y2="522.40" stroke="#231f20" stroke-width="0.40" />
<line x1="39.50" y1="521.50" x2="39.50" y2="522.40" stroke="#231f20" stroke-width="0.40" />
<line x1="41.90" y1="521.50" x2="41.90" y2="522.40" stroke="#231f20" stroke-width="0.40" />
<line x1="44.30" y1="521.50" x2="44.30" y2="522.40" stroke="#231f20" stroke-width="0.40" />
<line x1="46.70" y1="521.50" x2="46.70" y2="522.40" stroke="#231f20" stroke-width="0.40" />
<line x1="49.10" y1="521.50" x2="49.10" y2="522.40" stroke="#231f20" stroke-width="0.40" />
<line x1="51.50" y1="521.50" x2="51.50" y2="522.40" stroke="#231f20" stroke-width="0.40" />
<line x1="53.90" y1="521.50" x2="53.90" y2="522.40" stroke="#231f20" stroke-width="0.40" />
<line x1="56.30" y1="521.50" x2="56.30" y2="522.40" stroke="#231f20" stroke-width="0.40" />
<line x1="58.70" y1="521.50" x2="58.70" y2="522.40" stroke="#231f20" stroke-width="0.40" />
<text x="32.30" y="528.20" font-size="6.30" text-anchor="middle" fill="#333">6</text>
<text x="39.20" y="528.20" font-size="6.30" text-anchor="middle" fill="#333">4</text>
<text x="46.20" y="528.20" font-size="6.30" text-anchor="middle" fill="#333">2</text>
<text x="58.40" y="528.20" font-size="6.30" text-anchor="middle" fill="#333">0</text>
<text x="45.50" y="540.20" font-size="7.60" text-anchor="middle" fill="#333" textLength="30.00" lengthAdjust="spacingAndGlyphs">Euclidean</text>
<text x="45.50" y="550.20" font-size="7.60" text-anchor="middle" fill="#333" textLength="26.00" lengthAdjust="spacingAndGlyphs">distance</text>
<text x="65.20" y="531.30" font-size="6.00" fill="#333" textLength="22.50" lengthAdjust="spacingAndGlyphs">Z-score</text>
<defs><linearGradient id="zg90" x1="0" x2="1" y1="0" y2="0"><stop offset="0" stop-color="#26267f"/><stop offset="0.25" stop-color="#7a7ac0"/><stop offset="0.5" stop-color="#ffffff"/><stop offset="0.75" stop-color="#ef9494"/><stop offset="1" stop-color="#dc1f26"/></linearGradient></defs>
<rect x="90.80" y="524.60" width="61.50" height="9.20" fill="url(#zg90)" />
<text x="91.40" y="542.20" font-size="6.20" text-anchor="middle" fill="#333">−3</text>
<text x="104.60" y="542.20" font-size="6.20" text-anchor="middle" fill="#333">−1.5</text>
<text x="121.50" y="542.20" font-size="6.20" text-anchor="middle" fill="#333">0</text>
<text x="130.80" y="542.20" font-size="6.20" text-anchor="middle" fill="#333">1.5</text>
<text x="150.20" y="542.20" font-size="6.20" text-anchor="middle" fill="#333">3</text>
<text x="245.60" y="343.00" font-size="11.50" font-weight="bold" stroke="#231f20" stroke-width="0.35">F</text>
<text x="278.30" y="356.50" font-size="9.00" textLength="183.60" lengthAdjust="spacingAndGlyphs">genes involved in cell adhesion and migration</text>
<text x="329.00" y="366.80" font-size="6.40" text-anchor="middle" font-style="italic" textLength="27.00" lengthAdjust="spacingAndGlyphs">Eμ-TCL1A</text>
<text x="411.50" y="366.80" font-size="6.40" text-anchor="middle" font-style="italic" textLength="65.00" lengthAdjust="spacingAndGlyphs">iKdm1a<tspan font-size="4.16" dy="-2.24">KD</tspan><tspan dy="2.24">;Eμ-TCL1A</tspan></text>
<line x1="291.00" y1="369.10" x2="368.00" y2="369.10" stroke="#231f20" stroke-width="0.80" />
<line x1="371.00" y1="369.10" x2="448.60" y2="369.10" stroke="#231f20" stroke-width="0.80" />
<rect x="291.80" y="370.60" width="20.30" height="7.55" fill="#fadede" shape-rendering="crispEdges"/>
<rect x="311.40" y="370.60" width="20.30" height="7.55" fill="#9898cc" shape-rendering="crispEdges"/>
<rect x="331.00" y="370.60" width="20.30" height="7.55" fill="#d8dcf0" shape-rendering="crispEdges"/>
<rect x="350.60" y="370.60" width="20.30" height="7.55" fill="#f4b0b0" shape-rendering="crispEdges"/>
<rect x="370.20" y="370.60" width="20.30" height="7.55" fill="#6e70b8" shape-rendering="crispEdges"/>
<rect x="389.80" y="370.60" width="20.30" height="7.55" fill="#e8eaf6" shape-rendering="crispEdges"/>
<rect x="409.40" y="370.60" width="20.30" height="7.55" fill="#8084c4" shape-rendering="crispEdges"/>
<rect x="429.00" y="370.60" width="19.60" height="7.55" fill="#a0a4d4" shape-rendering="crispEdges"/>
<rect x="291.80" y="377.45" width="20.30" height="7.55" fill="#fcf0f0" shape-rendering="crispEdges"/>
<rect x="311.40" y="377.45" width="20.30" height="7.55" fill="#9898cc" shape-rendering="crispEdges"/>
<rect x="331.00" y="377.45" width="20.30" height="7.55" fill="#d0d4ec" shape-rendering="crispEdges"/>
<rect x="350.60" y="377.45" width="20.30" height="7.55" fill="#f09090" shape-rendering="crispEdges"/>
<rect x="370.20" y="377.45" width="20.30" height="7.55" fill="#7478bc" shape-rendering="crispEdges"/>
<rect x="389.80" y="377.45" width="20.30" height="7.55" fill="#a8acd8" shape-rendering="crispEdges"/>
<rect x="409.40" y="377.45" width="20.30" height="7.55" fill="#7074bc" shape-rendering="crispEdges"/>
<rect x="429.00" y="377.45" width="19.60" height="7.55" fill="#9094cc" shape-rendering="crispEdges"/>
<rect x="291.80" y="384.30" width="20.30" height="7.55" fill="#ec6868" shape-rendering="crispEdges"/>
<rect x="311.40" y="384.30" width="20.30" height="7.55" fill="#b8bce0" shape-rendering="crispEdges"/>
<rect x="331.00" y="384.30" width="20.30" height="7.55" fill="#c8cce8" shape-rendering="crispEdges"/>
<rect x="350.60" y="384.30" width="20.30" height="7.55" fill="#f4d0d0" shape-rendering="crispEdges"/>
<rect x="370.20" y="384.30" width="20.30" height="7.55" fill="#9094cc" shape-rendering="crispEdges"/>
<rect x="389.80" y="384.30" width="20.30" height="7.55" fill="#c0c4e4" shape-rendering="crispEdges"/>
<rect x="409.40" y="384.30" width="20.30" height="7.55" fill="#8c90c8" shape-rendering="crispEdges"/>
<rect x="429.00" y="384.30" width="19.60" height="7.55" fill="#a8acd8" shape-rendering="crispEdges"/>
<rect x="291.80" y="391.15" width="20.30" height="7.55" fill="#f08888" shape-rendering="crispEdges"/>
<rect x="311.40" y="391.15" width="20.30" height="7.55" fill="#8c90c8" shape-rendering="crispEdges"/>
<rect x="331.00" y="391.15" width="20.30" height="7.55" fill="#d0d4ec" shape-rendering="crispEdges"/>
<rect x="350.60" y="391.15" width="20.30" height="7.55" fill="#f4c4c4" shape-rendering="crispEdges"/>
<rect x="370.20" y="391.15" width="20.30" height="7.55" fill="#9c9cd0" shape-rendering="crispEdges"/>
<rect x="389.80" y="391.15" width="20.30" height="7.55" fill="#8484c4" shape-rendering="crispEdges"/>
<rect x="409.40" y="391.15" width="20.30" height="7.55" fill="#b0b4dc" shape-rendering="crispEdges"/>
<rect x="429.00" y="391.15" width="19.60" height="7.55" fill="#9c9cd0" shape-rendering="crispEdges"/>
<rect x="291.80" y="398.00" width="20.30" height="7.55" fill="#f4a8a8" shape-rendering="crispEdges"/>
<rect x="311.40" y="398.00" width="20.30" height="7.55" fill="#fcfcfc" shape-rendering="crispEdges"/>
<rect x="331.00" y="398.00" width="20.30" height="7.55" fill="#a8acd8" shape-rendering="crispEdges"/>
<rect x="350.60" y="398.00" width="20.30" height="7.55" fill="#d4d8ee" shape-rendering="crispEdges"/>
<rect x="370.20" y="398.00" width="20.30" height="7.55" fill="#5c5cb0" shape-rendering="crispEdges"/>
<rect x="389.80" y="398.00" width="20.30" height="7.55" fill="#b8bce0" shape-rendering="crispEdges"/>
<rect x="409.40" y="398.00" width="20.30" height="7.55" fill="#c0c4e4" shape-rendering="crispEdges"/>
<rect x="429.00" y="398.00" width="19.60" height="7.55" fill="#b0b4dc" shape-rendering="crispEdges"/>
<rect x="291.80" y="404.85" width="20.30" height="7.55" fill="#f8c8c8" shape-rendering="crispEdges"/>
<rect x="311.40" y="404.85" width="20.30" height="7.55" fill="#fcf2f2" shape-rendering="crispEdges"/>
<rect x="331.00" y="404.85" width="20.30" height="7.55" fill="#c4c8e6" shape-rendering="crispEdges"/>
<rect x="350.60" y="404.85" width="20.30" height="7.55" fill="#e8eaf6" shape-rendering="crispEdges"/>
<rect x="370.20" y="404.85" width="20.30" height="7.55" fill="#4646a4" shape-rendering="crispEdges"/>
<rect x="389.80" y="404.85" width="20.30" height="7.55" fill="#c8cce8" shape-rendering="crispEdges"/>
<rect x="409.40" y="404.85" width="20.30" height="7.55" fill="#6c6cb8" shape-rendering="crispEdges"/>
<rect x="429.00" y="404.85" width="19.60" height="7.55" fill="#9094cc" shape-rendering="crispEdges"/>
<rect x="291.80" y="411.70" width="20.30" height="7.55" fill="#f8d0d0" shape-rendering="crispEdges"/>
<rect x="311.40" y="411.70" width="20.30" height="7.55" fill="#fcf0f0" shape-rendering="crispEdges"/>
<rect x="331.00" y="411.70" width="20.30" height="7.55" fill="#d0d4ec" shape-rendering="crispEdges"/>
<rect x="350.60" y="411.70" width="20.30" height="7.55" fill="#e4e8f4" shape-rendering="crispEdges"/>
<rect x="370.20" y="411.70" width="20.30" height="7.55" fill="#38389e" shape-rendering="crispEdges"/>
<rect x="389.80" y="411.70" width="20.30" height="7.55" fill="#9094cc" shape-rendering="crispEdges"/>
<rect x="409.40" y="411.70" width="20.30" height="7.55" fill="#9c9cd0" shape-rendering="crispEdges"/>
<rect x="429.00" y="411.70" width="19.60" height="7.55" fill="#8c90c8" shape-rendering="crispEdges"/>
<rect x="291.80" y="418.55" width="20.30" height="7.55" fill="#fce8e8" shape-rendering="crispEdges"/>
<rect x="311.40" y="418.55" width="20.30" height="7.55" fill="#fcf4f4" shape-rendering="crispEdges"/>
<rect x="331.00" y="418.55" width="20.30" height="7.55" fill="#b0b4dc" shape-rendering="crispEdges"/>
<rect x="350.60" y="418.55" width="20.30" height="7.55" fill="#fcfcfc" shape-rendering="crispEdges"/>
<rect x="370.20" y="418.55" width="20.30" height="7.55" fill="#4040a0" shape-rendering="crispEdges"/>
<rect x="389.80" y="418.55" width="20.30" height="7.55" fill="#7074bc" shape-rendering="crispEdges"/>
<rect x="409.40" y="418.55" width="20.30" height="7.55" fill="#9094cc" shape-rendering="crispEdges"/>
<rect x="429.00" y="418.55" width="19.60" height="7.55" fill="#c8cce8" shape-rendering="crispEdges"/>
<rect x="291.80" y="425.40" width="20.30" height="7.55" fill="#a0a4d4" shape-rendering="crispEdges"/>
<rect x="311.40" y="425.40" width="20.30" height="7.55" fill="#eceef8" shape-rendering="crispEdges"/>
<rect x="331.00" y="425.40" width="20.30" height="7.55" fill="#fcfcfc" shape-rendering="crispEdges"/>
<rect x="350.60" y="425.40" width="20.30" height="7.55" fill="#f4b4b4" shape-rendering="crispEdges"/>
<rect x="370.20" y="425.40" width="20.30" height="7.55" fill="#f8c8c8" shape-rendering="crispEdges"/>
<rect x="389.80" y="425.40" width="20.30" height="7.55" fill="#f4b0b0" shape-rendering="crispEdges"/>
<rect x="409.40" y="425.40" width="20.30" height="7.55" fill="#ec7070" shape-rendering="crispEdges"/>
<rect x="429.00" y="425.40" width="19.60" height="7.55" fill="#e85858" shape-rendering="crispEdges"/>
<rect x="291.80" y="432.25" width="20.30" height="7.55" fill="#e4e8f4" shape-rendering="crispEdges"/>
<rect x="311.40" y="432.25" width="20.30" height="7.55" fill="#fcfcfc" shape-rendering="crispEdges"/>
<rect x="331.00" y="432.25" width="20.30" height="7.55" fill="#f4f4fa" shape-rendering="crispEdges"/>
<rect x="350.60" y="432.25" width="20.30" height="7.55" fill="#fcfcfc" shape-rendering="crispEdges"/>
<rect x="370.20" y="432.25" width="20.30" height="7.55" fill="#fcf0f0" shape-rendering="crispEdges"/>
<rect x="389.80" y="432.25" width="20.30" height="7.55" fill="#fcf0f0" shape-rendering="crispEdges"/>
<rect x="409.40" y="432.25" width="20.30" height="7.55" fill="#ec6868" shape-rendering="crispEdges"/>
<rect x="429.00" y="432.25" width="19.60" height="7.55" fill="#e44848" shape-rendering="crispEdges"/>
<rect x="291.80" y="439.10" width="20.30" height="7.55" fill="#eceef8" shape-rendering="crispEdges"/>
<rect x="311.40" y="439.10" width="20.30" height="7.55" fill="#fcfcfc" shape-rendering="crispEdges"/>
<rect x="331.00" y="439.10" width="20.30" height="7.55" fill="#f0f2fa" shape-rendering="crispEdges"/>
<rect x="350.60" y="439.10" width="20.30" height="7.55" fill="#f8f8fc" shape-rendering="crispEdges"/>
<rect x="370.20" y="439.10" width="20.30" height="7.55" fill="#f4b0b0" shape-rendering="crispEdges"/>
<rect x="389.80" y="439.10" width="20.30" height="7.55" fill="#fcecec" shape-rendering="crispEdges"/>
<rect x="409.40" y="439.10" width="20.30" height="7.55" fill="#f08c8c" shape-rendering="crispEdges"/>
<rect x="429.00" y="439.10" width="19.60" height="7.55" fill="#e03838" shape-rendering="crispEdges"/>
<rect x="291.80" y="445.95" width="20.30" height="7.55" fill="#f4f4fa" shape-rendering="crispEdges"/>
<rect x="311.40" y="445.95" width="20.30" height="7.55" fill="#fcfcfc" shape-rendering="crispEdges"/>
<rect x="331.00" y="445.95" width="20.30" height="7.55" fill="#fcfcfc" shape-rendering="crispEdges"/>
<rect x="350.60" y="445.95" width="20.30" height="7.55" fill="#f0f2fa" shape-rendering="crispEdges"/>
<rect x="370.20" y="445.95" width="20.30" height="7.55" fill="#f8c8c8" shape-rendering="crispEdges"/>
<rect x="389.80" y="445.95" width="20.30" height="7.55" fill="#f8d4d4" shape-rendering="crispEdges"/>
<rect x="409.40" y="445.95" width="20.30" height="7.55" fill="#f4a0a0" shape-rendering="crispEdges"/>
<rect x="429.00" y="445.95" width="19.60" height="7.55" fill="#e44040" shape-rendering="crispEdges"/>
<rect x="291.80" y="452.80" width="20.30" height="7.55" fill="#fcf4f4" shape-rendering="crispEdges"/>
<rect x="311.40" y="452.80" width="20.30" height="7.55" fill="#fcfcfc" shape-rendering="crispEdges"/>
<rect x="331.00" y="452.80" width="20.30" height="7.55" fill="#fcfcfc" shape-rendering="crispEdges"/>
<rect x="350.60" y="452.80" width="20.30" height="7.55" fill="#fcfcfc" shape-rendering="crispEdges"/>
<rect x="370.20" y="452.80" width="20.30" height="7.55" fill="#e44444" shape-rendering="crispEdges"/>
<rect x="389.80" y="452.80" width="20.30" height="7.55" fill="#f8c8c8" shape-rendering="crispEdges"/>
<rect x="409.40" y="452.80" width="20.30" height="7.55" fill="#f8c8c8" shape-rendering="crispEdges"/>
<rect x="429.00" y="452.80" width="19.60" height="7.55" fill="#e85050" shape-rendering="crispEdges"/>
<rect x="291.80" y="459.65" width="20.30" height="7.55" fill="#fae4e4" shape-rendering="crispEdges"/>
<rect x="311.40" y="459.65" width="20.30" height="7.55" fill="#fcfcfc" shape-rendering="crispEdges"/>
<rect x="331.00" y="459.65" width="20.30" height="7.55" fill="#d8dcf0" shape-rendering="crispEdges"/>
<rect x="350.60" y="459.65" width="20.30" height="7.55" fill="#f4f4fa" shape-rendering="crispEdges"/>
<rect x="370.20" y="459.65" width="20.30" height="7.55" fill="#e85050" shape-rendering="crispEdges"/>
<rect x="389.80" y="459.65" width="20.30" height="7.55" fill="#f4b0b0" shape-rendering="crispEdges"/>
<rect x="409.40" y="459.65" width="20.30" height="7.55" fill="#f09898" shape-rendering="crispEdges"/>
<rect x="429.00" y="459.65" width="19.60" height="7.55" fill="#f8c8c8" shape-rendering="crispEdges"/>
<rect x="291.80" y="466.50" width="20.30" height="7.55" fill="#fcf0f0" shape-rendering="crispEdges"/>
<rect x="311.40" y="466.50" width="20.30" height="7.55" fill="#eceef8" shape-rendering="crispEdges"/>
<rect x="331.00" y="466.50" width="20.30" height="7.55" fill="#fcfcfc" shape-rendering="crispEdges"/>
<rect x="350.60" y="466.50" width="20.30" height="7.55" fill="#eceef8" shape-rendering="crispEdges"/>
<rect x="370.20" y="466.50" width="20.30" height="7.55" fill="#e85050" shape-rendering="crispEdges"/>
<rect x="389.80" y="466.50" width="20.30" height="7.55" fill="#f09090" shape-rendering="crispEdges"/>
<rect x="409.40" y="466.50" width="20.30" height="7.55" fill="#ec7c7c" shape-rendering="crispEdges"/>
<rect x="429.00" y="466.50" width="19.60" height="7.55" fill="#f4b0b0" shape-rendering="crispEdges"/>
<rect x="291.80" y="473.35" width="20.30" height="7.55" fill="#fcfcfc" shape-rendering="crispEdges"/>
<rect x="311.40" y="473.35" width="20.30" height="7.55" fill="#fcfcfc" shape-rendering="crispEdges"/>
<rect x="331.00" y="473.35" width="20.30" height="7.55" fill="#fcfcfc" shape-rendering="crispEdges"/>
<rect x="350.60" y="473.35" width="20.30" height="7.55" fill="#f4f4fa" shape-rendering="crispEdges"/>
<rect x="370.20" y="473.35" width="20.30" height="7.55" fill="#e02828" shape-rendering="crispEdges"/>
<rect x="389.80" y="473.35" width="20.30" height="7.55" fill="#fce8e8" shape-rendering="crispEdges"/>
<rect x="409.40" y="473.35" width="20.30" height="7.55" fill="#fad8d8" shape-rendering="crispEdges"/>
<rect x="429.00" y="473.35" width="19.60" height="7.55" fill="#fcecec" shape-rendering="crispEdges"/>
<rect x="291.80" y="480.20" width="20.30" height="7.55" fill="#e4e8f4" shape-rendering="crispEdges"/>
<rect x="311.40" y="480.20" width="20.30" height="7.55" fill="#f4f4fa" shape-rendering="crispEdges"/>
<rect x="331.00" y="480.20" width="20.30" height="7.55" fill="#fcfcfc" shape-rendering="crispEdges"/>
<rect x="350.60" y="480.20" width="20.30" height="7.55" fill="#fcfcfc" shape-rendering="crispEdges"/>
<rect x="370.20" y="480.20" width="20.30" height="7.55" fill="#e02828" shape-rendering="crispEdges"/>
<rect x="389.80" y="480.20" width="20.30" height="7.55" fill="#fae4e4" shape-rendering="crispEdges"/>
<rect x="409.40" y="480.20" width="20.30" height="7.55" fill="#f4b0b0" shape-rendering="crispEdges"/>
<rect x="429.00" y="480.20" width="19.60" height="7.55" fill="#f8c8c8" shape-rendering="crispEdges"/>
<rect x="291.80" y="487.05" width="20.30" height="7.55" fill="#f0f2fa" shape-rendering="crispEdges"/>
<rect x="311.40" y="487.05" width="20.30" height="7.55" fill="#fcfcfc" shape-rendering="crispEdges"/>
<rect x="331.00" y="487.05" width="20.30" height="7.55" fill="#f4f4fa" shape-rendering="crispEdges"/>
<rect x="350.60" y="487.05" width="20.30" height="7.55" fill="#fcfcfc" shape-rendering="crispEdges"/>
<rect x="370.20" y="487.05" width="20.30" height="7.55" fill="#e02828" shape-rendering="crispEdges"/>
<rect x="389.80" y="487.05" width="20.30" height="7.55" fill="#f8c8c8" shape-rendering="crispEdges"/>
<rect x="409.40" y="487.05" width="20.30" height="7.55" fill="#f4b0b0" shape-rendering="crispEdges"/>
<rect x="429.00" y="487.05" width="19.60" height="7.55" fill="#fad8d8" shape-rendering="crispEdges"/>
<rect x="291.80" y="493.90" width="20.30" height="7.55" fill="#eceef8" shape-rendering="crispEdges"/>
<rect x="311.40" y="493.90" width="20.30" height="7.55" fill="#fcfcfc" shape-rendering="crispEdges"/>
<rect x="331.00" y="493.90" width="20.30" height="7.55" fill="#f4f4fa" shape-rendering="crispEdges"/>
<rect x="350.60" y="493.90" width="20.30" height="7.55" fill="#fcfcfc" shape-rendering="crispEdges"/>
<rect x="370.20" y="493.90" width="20.30" height="7.55" fill="#e02828" shape-rendering="crispEdges"/>
<rect x="389.80" y="493.90" width="20.30" height="7.55" fill="#f6c0c0" shape-rendering="crispEdges"/>
<rect x="409.40" y="493.90" width="20.30" height="7.55" fill="#f4b0b0" shape-rendering="crispEdges"/>
<rect x="429.00" y="493.90" width="19.60" height="7.55" fill="#f8cccc" shape-rendering="crispEdges"/>
<rect x="291.80" y="500.75" width="20.30" height="7.55" fill="#c8cce8" shape-rendering="crispEdges"/>
<rect x="311.40" y="500.75" width="20.30" height="7.55" fill="#f0f2fa" shape-rendering="crispEdges"/>
<rect x="331.00" y="500.75" width="20.30" height="7.55" fill="#fcfcfc" shape-rendering="crispEdges"/>
<rect x="350.60" y="500.75" width="20.30" height="7.55" fill="#fcfcfc" shape-rendering="crispEdges"/>
<rect x="370.20" y="500.75" width="20.30" height="7.55" fill="#e03030" shape-rendering="crispEdges"/>
<rect x="389.80" y="500.75" width="20.30" height="7.55" fill="#f8c8c8" shape-rendering="crispEdges"/>
<rect x="409.40" y="500.75" width="20.30" height="7.55" fill="#f8d0d0" shape-rendering="crispEdges"/>
<rect x="429.00" y="500.75" width="19.60" height="7.55" fill="#f8d4d4" shape-rendering="crispEdges"/>
<rect x="291.80" y="507.60" width="20.30" height="7.55" fill="#fae4e4" shape-rendering="crispEdges"/>
<rect x="311.40" y="507.60" width="20.30" height="7.55" fill="#eceef8" shape-rendering="crispEdges"/>
<rect x="331.00" y="507.60" width="20.30" height="7.55" fill="#f4d4d4" shape-rendering="crispEdges"/>
<rect x="350.60" y="507.60" width="20.30" height="7.55" fill="#fcfcfc" shape-rendering="crispEdges"/>
<rect x="370.20" y="507.60" width="20.30" height="7.55" fill="#fad8d8" shape-rendering="crispEdges"/>
<rect x="389.80" y="507.60" width="20.30" height="7.55" fill="#e02020" shape-rendering="crispEdges"/>
<rect x="409.40" y="507.60" width="20.30" height="7.55" fill="#fcfcfc" shape-rendering="crispEdges"/>
<rect x="429.00" y="507.60" width="19.60" height="7.55" fill="#f8d0d0" shape-rendering="crispEdges"/>
<rect x="291.80" y="514.45" width="20.30" height="6.85" fill="#fce4e4" shape-rendering="crispEdges"/>
<rect x="311.40" y="514.45" width="20.30" height="6.85" fill="#fcf4f4" shape-rendering="crispEdges"/>
<rect x="331.00" y="514.45" width="20.30" height="6.85" fill="#d4d8ee" shape-rendering="crispEdges"/>
<rect x="350.60" y="514.45" width="20.30" height="6.85" fill="#fcfcfc" shape-rendering="crispEdges"/>
<rect x="370.20" y="514.45" width="20.30" height="6.85" fill="#ec7878" shape-rendering="crispEdges"/>
<rect x="389.80" y="514.45" width="20.30" height="6.85" fill="#e44040" shape-rendering="crispEdges"/>
<rect x="409.40" y="514.45" width="20.30" height="6.85" fill="#f4b0b0" shape-rendering="crispEdges"/>
<rect x="429.00" y="514.45" width="19.60" height="6.85" fill="#fcf0f0" shape-rendering="crispEdges"/>
<line x1="448.60" y1="374.03" x2="450.80" y2="374.03" stroke="#231f20" stroke-width="0.60" />
<text x="451.30" y="376.73" font-size="7.00" font-style="italic" textLength="13.32" lengthAdjust="spacingAndGlyphs">F11r</text>
<line x1="448.60" y1="380.88" x2="450.80" y2="380.88" stroke="#231f20" stroke-width="0.60" />
<text x="451.30" y="383.57" font-size="7.00" font-style="italic" textLength="16.44" lengthAdjust="spacingAndGlyphs">Itgb2l</text>
<text x="479.40" y="383.77" font-size="5.00" text-anchor="middle">*</text>
<line x1="448.60" y1="387.73" x2="450.80" y2="387.73" stroke="#231f20" stroke-width="0.60" />
<text x="451.30" y="390.43" font-size="7.00" font-style="italic" textLength="17.93" lengthAdjust="spacingAndGlyphs">Ntng2</text>
<line x1="448.60" y1="394.58" x2="450.80" y2="394.58" stroke="#231f20" stroke-width="0.60" />
<text x="451.30" y="397.28" font-size="7.00" font-style="italic" textLength="25.40" lengthAdjust="spacingAndGlyphs">Rapgef3</text>
<text x="481.80" y="397.48" font-size="5.00" text-anchor="middle">*</text>
<line x1="448.60" y1="401.43" x2="450.80" y2="401.43" stroke="#231f20" stroke-width="0.60" />
<text x="451.30" y="404.12" font-size="7.00" font-style="italic" textLength="22.78" lengthAdjust="spacingAndGlyphs">Nectin1</text>
<line x1="448.60" y1="408.28" x2="450.80" y2="408.28" stroke="#231f20" stroke-width="0.60" />
<text x="451.30" y="410.98" font-size="7.00" font-style="italic" textLength="17.55" lengthAdjust="spacingAndGlyphs">Cxcr4</text>
<text x="478.90" y="411.18" font-size="5.00" text-anchor="middle">*</text>
<line x1="448.60" y1="415.12" x2="450.80" y2="415.12" stroke="#231f20" stroke-width="0.60" />
<text x="451.30" y="417.82" font-size="7.00" font-style="italic" textLength="16.81" lengthAdjust="spacingAndGlyphs">Plcg2</text>
<line x1="448.60" y1="421.98" x2="450.80" y2="421.98" stroke="#231f20" stroke-width="0.60" />
<text x="451.30" y="424.68" font-size="7.00" font-style="italic" textLength="18.67" lengthAdjust="spacingAndGlyphs">Alcam</text>
<line x1="448.60" y1="428.83" x2="450.80" y2="428.83" stroke="#231f20" stroke-width="0.60" />
<text x="451.30" y="431.53" font-size="7.00" font-style="italic" textLength="11.21" lengthAdjust="spacingAndGlyphs">Sell</text>
<line x1="448.60" y1="435.68" x2="450.80" y2="435.68" stroke="#231f20" stroke-width="0.60" />
<text x="451.30" y="438.38" font-size="7.00" font-style="italic" textLength="13.82" lengthAdjust="spacingAndGlyphs">Icosl</text>
<line x1="448.60" y1="442.53" x2="450.80" y2="442.53" stroke="#231f20" stroke-width="0.60" />
<text x="451.30" y="445.23" font-size="7.00" font-style="italic" textLength="17.18" lengthAdjust="spacingAndGlyphs">Esam</text>
<line x1="448.60" y1="449.38" x2="450.80" y2="449.38" stroke="#231f20" stroke-width="0.60" />
<text x="451.30" y="452.07" font-size="7.00" font-style="italic" textLength="13.45" lengthAdjust="spacingAndGlyphs">Selp</text>
<line x1="448.60" y1="456.23" x2="450.80" y2="456.23" stroke="#231f20" stroke-width="0.60" />
<text x="451.30" y="458.93" font-size="7.00" font-style="italic" textLength="16.06" lengthAdjust="spacingAndGlyphs">Cd34</text>
<line x1="448.60" y1="463.08" x2="450.80" y2="463.08" stroke="#231f20" stroke-width="0.60" />
<text x="451.30" y="465.78" font-size="7.00" font-style="italic" textLength="19.05" lengthAdjust="spacingAndGlyphs">Pik3r2</text>
<line x1="448.60" y1="469.93" x2="450.80" y2="469.93" stroke="#231f20" stroke-width="0.60" />
<text x="451.30" y="472.62" font-size="7.00" font-style="italic" textLength="10.08" lengthAdjust="spacingAndGlyphs">Pvr</text>
<line x1="448.60" y1="476.78" x2="450.80" y2="476.78" stroke="#231f20" stroke-width="0.60" />
<text x="451.30" y="479.48" font-size="7.00" font-style="italic" textLength="21.29" lengthAdjust="spacingAndGlyphs">Cldn13</text>
<line x1="448.60" y1="483.62" x2="450.80" y2="483.62" stroke="#231f20" stroke-width="0.60" />
<text x="451.30" y="486.32" font-size="7.00" font-style="italic" textLength="21.67" lengthAdjust="spacingAndGlyphs">Ctnna1</text>
<line x1="448.60" y1="490.48" x2="450.80" y2="490.48" stroke="#231f20" stroke-width="0.60" />
<text x="451.30" y="493.18" font-size="7.00" font-style="italic" textLength="22.78" lengthAdjust="spacingAndGlyphs">Nectin2</text>
<line x1="448.60" y1="497.33" x2="450.80" y2="497.33" stroke="#231f20" stroke-width="0.60" />
<text x="451.30" y="500.03" font-size="7.00" font-style="italic" textLength="17.92" lengthAdjust="spacingAndGlyphs">Mpzl1</text>
<line x1="448.60" y1="504.18" x2="450.80" y2="504.18" stroke="#231f20" stroke-width="0.60" />
<text x="451.30" y="506.88" font-size="7.00" font-style="italic" textLength="20.17" lengthAdjust="spacingAndGlyphs">Pik3cb</text>
<line x1="448.60" y1="511.02" x2="450.80" y2="511.02" stroke="#231f20" stroke-width="0.60" />
<text x="451.30" y="513.73" font-size="7.00" font-style="italic" textLength="16.81" lengthAdjust="spacingAndGlyphs">Itgam</text>
<line x1="448.60" y1="517.88" x2="450.80" y2="517.88" stroke="#231f20" stroke-width="0.60" />
<text x="451.30" y="520.58" font-size="7.00" font-style="italic" textLength="22.04" lengthAdjust="spacingAndGlyphs">Siglec1</text>
<path d="M275.20,388.40 L259.10,388.40 L259.10,462.10 L273.80,462.10" stroke="#222" stroke-width="0.75" fill="none" />
<path d="M275.20,377.00 L275.20,399.60" stroke="#222" stroke-width="0.75" fill="none" />
<path d="M275.20,377.00 L278.30,377.00" stroke="#222" stroke-width="0.75" fill="none" />
<path d="M289.30,374.03 L278.30,374.03 L278.30,380.88 L289.30,380.88" stroke="#222" stroke-width="0.75" fill="none" />
<path d="M275.20,399.60 L278.20,399.60" stroke="#222" stroke-width="0.75" fill="none" />
<path d="M278.20,391.20 L278.20,407.30" stroke="#222" stroke-width="0.75" fill="none" />
<path d="M278.20,391.20 L281.20,391.20" stroke="#222" stroke-width="0.75" fill="none" />
<path d="M289.30,387.73 L281.20,387.73 L281.20,394.58 L289.30,394.58" stroke="#222" stroke-width="0.75" fill="none" />
<path d="M278.20,407.30 L281.20,407.30" stroke="#222" stroke-width="0.75" fill="none" />
<path d="M289.30,401.43 L281.20,401.43 L281.20,418.50 L283.30,418.50" stroke="#222" stroke-width="0.75" fill="none" />
<path d="M289.30,408.28 L281.20,408.28" stroke="#222" stroke-width="0.75" fill="none" />
<path d="M289.30,415.12 L283.30,415.12 L283.30,421.98 L289.30,421.98" stroke="#222" stroke-width="0.75" fill="none" />
<path d="M273.80,436.00 L273.80,490.00" stroke="#222" stroke-width="0.75" fill="none" />
<path d="M273.80,436.00 L279.50,436.00" stroke="#222" stroke-width="0.75" fill="none" />
<path d="M289.30,428.83 L279.50,428.83 L279.50,443.00 L282.00,443.00" stroke="#222" stroke-width="0.75" fill="none" />
<path d="M289.30,435.68 L282.00,435.68 L282.00,449.38 L289.30,449.38" stroke="#222" stroke-width="0.75" fill="none" />
<path d="M289.30,442.53 L282.00,442.53" stroke="#222" stroke-width="0.75" fill="none" />
<path d="M273.80,478.00 L276.50,478.00" stroke="#222" stroke-width="0.75" fill="none" />
<path d="M276.50,462.00 L276.50,496.00" stroke="#222" stroke-width="0.75" fill="none" />
<path d="M276.50,462.00 L279.00,462.00" stroke="#222" stroke-width="0.75" fill="none" />
<path d="M289.30,456.23 L279.00,456.23 L279.00,469.93 L289.30,469.93" stroke="#222" stroke-width="0.75" fill="none" />
<path d="M289.30,463.08 L279.00,463.08" stroke="#222" stroke-width="0.75" fill="none" />
<path d="M276.50,496.00 L280.50,496.00" stroke="#222" stroke-width="0.75" fill="none" />
<path d="M280.50,476.78 L280.50,504.18" stroke="#222" stroke-width="0.70" fill="none" />
<path d="M289.30,476.78 L280.50,476.78" stroke="#222" stroke-width="0.65" fill="none" />
<path d="M289.30,483.62 L282.50,483.62" stroke="#222" stroke-width="0.65" fill="none" />
<path d="M289.30,490.48 L282.50,490.48" stroke="#222" stroke-width="0.65" fill="none" />
<path d="M289.30,497.33 L282.50,497.33" stroke="#222" stroke-width="0.65" fill="none" />
<path d="M289.30,504.18 L280.50,504.18" stroke="#222" stroke-width="0.65" fill="none" />
<path d="M282.50,483.62 L282.50,497.33" stroke="#222" stroke-width="0.60" fill="none" />
<path d="M273.80,490.00 L273.80,513.70 L279.00,513.70" stroke="#222" stroke-width="0.75" fill="none" />
<path d="M289.30,511.02 L279.00,511.02 L279.00,517.88 L289.30,517.88" stroke="#222" stroke-width="0.75" fill="none" />
<line x1="259.00" y1="521.60" x2="289.50" y2="521.60" stroke="#231f20" stroke-width="0.70" />
<line x1="259.60" y1="521.60" x2="259.60" y2="523.20" stroke="#231f20" stroke-width="0.60" />
<line x1="268.70" y1="521.60" x2="268.70" y2="523.20" stroke="#231f20" stroke-width="0.60" />
<line x1="278.80" y1="521.60" x2="278.80" y2="523.20" stroke="#231f20" stroke-width="0.60" />
<line x1="288.80" y1="521.60" x2="288.80" y2="523.20" stroke="#231f20" stroke-width="0.60" />
<line x1="259.60" y1="521.60" x2="259.60" y2="522.50" stroke="#231f20" stroke-width="0.40" />
<line x1="262.04" y1="521.60" x2="262.04" y2="522.50" stroke="#231f20" stroke-width="0.40" />
<line x1="264.48" y1="521.60" x2="264.48" y2="522.50" stroke="#231f20" stroke-width="0.40" />
<line x1="266.92" y1="521.60" x2="266.92" y2="522.50" stroke="#231f20" stroke-width="0.40" />
<line x1="269.36" y1="521.60" x2="269.36" y2="522.50" stroke="#231f20" stroke-width="0.40" />
<line x1="271.80" y1="521.60" x2="271.80" y2="522.50" stroke="#231f20" stroke-width="0.40" />
<line x1="274.24" y1="521.60" x2="274.24" y2="522.50" stroke="#231f20" stroke-width="0.40" />
<line x1="276.68" y1="521.60" x2="276.68" y2="522.50" stroke="#231f20" stroke-width="0.40" />
<line x1="279.12" y1="521.60" x2="279.12" y2="522.50" stroke="#231f20" stroke-width="0.40" />
<line x1="281.56" y1="521.60" x2="281.56" y2="522.50" stroke="#231f20" stroke-width="0.40" />
<line x1="284.00" y1="521.60" x2="284.00" y2="522.50" stroke="#231f20" stroke-width="0.40" />
<line x1="286.44" y1="521.60" x2="286.44" y2="522.50" stroke="#231f20" stroke-width="0.40" />
<line x1="288.88" y1="521.60" x2="288.88" y2="522.50" stroke="#231f20" stroke-width="0.40" />
<text x="259.80" y="528.00" font-size="6.30" text-anchor="middle" fill="#333">6</text>
<text x="268.40" y="528.00" font-size="6.30" text-anchor="middle" fill="#333">4</text>
<text x="278.80" y="528.00" font-size="6.30" text-anchor="middle" fill="#333">2</text>
<text x="288.60" y="528.00" font-size="6.30" text-anchor="middle" fill="#333">0</text>
<text x="272.90" y="538.60" font-size="7.60" text-anchor="middle" fill="#333" textLength="30.00" lengthAdjust="spacingAndGlyphs">Euclidean</text>
<text x="272.90" y="549.40" font-size="7.60" text-anchor="middle" fill="#333" textLength="26.00" lengthAdjust="spacingAndGlyphs">distance</text>
<text x="315.40" y="531.20" font-size="6.00" fill="#333" textLength="22.20" lengthAdjust="spacingAndGlyphs">Z-score</text>
<defs><linearGradient id="zg339" x1="0" x2="1" y1="0" y2="0"><stop offset="0" stop-color="#26267f"/><stop offset="0.25" stop-color="#7a7ac0"/><stop offset="0.5" stop-color="#ffffff"/><stop offset="0.75" stop-color="#ef9494"/><stop offset="1" stop-color="#dc1f26"/></linearGradient></defs>
<rect x="339.90" y="523.70" width="66.40" height="9.80" fill="url(#zg339)" />
<text x="342.20" y="543.20" font-size="6.20" text-anchor="middle" fill="#333">−3</text>
<text x="355.30" y="543.20" font-size="6.20" text-anchor="middle" fill="#333">−1.5</text>
<text x="373.60" y="543.20" font-size="6.20" text-anchor="middle" fill="#333">0</text>
<text x="389.00" y="543.20" font-size="6.20" text-anchor="middle" fill="#333">1.5</text>
<text x="403.60" y="543.20" font-size="6.20" text-anchor="middle" fill="#333">3</text>
<text x="7.20" y="576.30" font-size="12.20" font-weight="bold" stroke="#231f20" stroke-width="0.35">G</text>
<text x="142.30" y="580.20" font-size="8.70" text-anchor="middle" fill="#333" textLength="146.00" lengthAdjust="spacingAndGlyphs">qRT-PCR—splenic mononuclear cells</text>
<text x="393.90" y="580.90" font-size="8.70" text-anchor="middle" fill="#333" textLength="114.00" lengthAdjust="spacingAndGlyphs">qRT-PCR—blood leukocytes</text>
<line x1="46.20" y1="613.55" x2="46.20" y2="665.80" stroke="#231f20" stroke-width="0.90" />
<line x1="45.80" y1="665.40" x2="80.80" y2="665.40" stroke="#231f20" stroke-width="0.90" />
<line x1="43.20" y1="665.40" x2="46.20" y2="665.40" stroke="#231f20" stroke-width="0.90" />
<text x="41.90" y="667.80" font-size="6.90" text-anchor="end" fill="#333">0.0</text>
<line x1="43.20" y1="648.95" x2="46.20" y2="648.95" stroke="#231f20" stroke-width="0.90" />
<text x="41.90" y="651.35" font-size="6.90" text-anchor="end" fill="#333">0.5</text>
<line x1="43.20" y1="632.50" x2="46.20" y2="632.50" stroke="#231f20" stroke-width="0.90" />
<text x="41.90" y="634.90" font-size="6.90" text-anchor="end" fill="#333">1.0</text>
<line x1="43.20" y1="616.05" x2="46.20" y2="616.05" stroke="#231f20" stroke-width="0.90" />
<text x="41.90" y="618.45" font-size="6.90" text-anchor="end" fill="#333">1.5</text>
<line x1="57.05" y1="632.50" x2="57.05" y2="620.00" stroke="#666" stroke-width="0.90" />
<line x1="54.85" y1="620.00" x2="59.25" y2="620.00" stroke="#666" stroke-width="0.90" />
<rect x="52.90" y="632.50" width="8.30" height="32.90" fill="#1c4f8d" />
<line x1="71.55" y1="663.75" x2="71.55" y2="662.11" stroke="#666" stroke-width="0.90" />
<line x1="69.35" y1="662.11" x2="73.75" y2="662.11" stroke="#666" stroke-width="0.90" />
<rect x="67.70" y="663.75" width="7.70" height="1.65" fill="#c8102e" />
<line x1="56.20" y1="616.50" x2="73.70" y2="616.50" stroke="#231f20" stroke-width="0.90" />
<line x1="56.20" y1="615.20" x2="56.20" y2="617.80" stroke="#231f20" stroke-width="0.90" />
<line x1="73.70" y1="615.20" x2="73.70" y2="617.80" stroke="#231f20" stroke-width="0.90" />
<text x="65.40" y="613.30" font-size="6.1" text-anchor="middle" fill="#333"><tspan font-style="italic">P</tspan> &lt; .001</text>
<text x="62.30" y="636.30" font-size="6.10" fill="#333">N = 9</text>
<text x="62.50" y="603.40" font-size="9.00" text-anchor="middle" fill="#222">Itgb2l</text>
<text x="15.90" y="639.50" font-size="8.80" text-anchor="middle" fill="#333" textLength="48.00" lengthAdjust="spacingAndGlyphs" transform="rotate(-90.00 15.90 639.50)">Relative mRNA</text>
<text x="25.60" y="639.50" font-size="8.80" text-anchor="middle" fill="#333" textLength="40.00" lengthAdjust="spacingAndGlyphs" transform="rotate(-90.00 25.60 639.50)">fold-change</text>
<line x1="130.20" y1="613.55" x2="130.20" y2="665.80" stroke="#231f20" stroke-width="0.90" />
<line x1="129.80" y1="665.40" x2="160.30" y2="665.40" stroke="#231f20" stroke-width="0.90" />
<line x1="127.20" y1="665.40" x2="130.20" y2="665.40" stroke="#231f20" stroke-width="0.90" />
<text x="125.90" y="667.80" font-size="6.90" text-anchor="end" fill="#333">0.0</text>
<line x1="127.20" y1="648.95" x2="130.20" y2="648.95" stroke="#231f20" stroke-width="0.90" />
<text x="125.90" y="651.35" font-size="6.90" text-anchor="end" fill="#333">0.5</text>
<line x1="127.20" y1="632.50" x2="130.20" y2="632.50" stroke="#231f20" stroke-width="0.90" />
<text x="125.90" y="634.90" font-size="6.90" text-anchor="end" fill="#333">1.0</text>
<line x1="127.20" y1="616.05" x2="130.20" y2="616.05" stroke="#231f20" stroke-width="0.90" />
<text x="125.90" y="618.45" font-size="6.90" text-anchor="end" fill="#333">1.5</text>
<line x1="136.90" y1="632.50" x2="136.90" y2="624.27" stroke="#666" stroke-width="0.90" />
<line x1="134.70" y1="624.27" x2="139.10" y2="624.27" stroke="#666" stroke-width="0.90" />
<rect x="132.60" y="632.50" width="8.60" height="32.90" fill="#1c4f8d" />
<line x1="152.20" y1="659.81" x2="152.20" y2="656.85" stroke="#666" stroke-width="0.90" />
<line x1="150.00" y1="656.85" x2="154.40" y2="656.85" stroke="#666" stroke-width="0.90" />
<rect x="148.20" y="659.81" width="8.00" height="5.59" fill="#c8102e" />
<line x1="137.10" y1="616.20" x2="153.70" y2="616.20" stroke="#231f20" stroke-width="0.90" />
<line x1="137.10" y1="614.90" x2="137.10" y2="617.50" stroke="#231f20" stroke-width="0.90" />
<line x1="153.70" y1="614.90" x2="153.70" y2="617.50" stroke="#231f20" stroke-width="0.90" />
<text x="145.80" y="613.00" font-size="6.1" text-anchor="middle" fill="#333"><tspan font-style="italic">P</tspan> &lt; .003</text>
<text x="141.80" y="636.30" font-size="6.10" fill="#333">N = 9</text>
<text x="144.00" y="603.40" font-size="9.00" text-anchor="middle" fill="#222">Rapgef3</text>
<text x="96.50" y="639.50" font-size="8.80" text-anchor="middle" fill="#333" textLength="48.00" lengthAdjust="spacingAndGlyphs" transform="rotate(-90.00 96.50 639.50)">Relative mRNA</text>
<text x="106.40" y="639.50" font-size="8.80" text-anchor="middle" fill="#333" textLength="40.00" lengthAdjust="spacingAndGlyphs" transform="rotate(-90.00 106.40 639.50)">fold-change</text>
<line x1="210.80" y1="613.55" x2="210.80" y2="665.80" stroke="#231f20" stroke-width="0.90" />
<line x1="210.40" y1="665.40" x2="239.20" y2="665.40" stroke="#231f20" stroke-width="0.90" />
<line x1="207.80" y1="665.40" x2="210.80" y2="665.40" stroke="#231f20" stroke-width="0.90" />
<text x="206.50" y="667.80" font-size="6.90" text-anchor="end" fill="#333">0.0</text>
<line x1="207.80" y1="648.95" x2="210.80" y2="648.95" stroke="#231f20" stroke-width="0.90" />
<text x="206.50" y="651.35" font-size="6.90" text-anchor="end" fill="#333">0.5</text>
<line x1="207.80" y1="632.50" x2="210.80" y2="632.50" stroke="#231f20" stroke-width="0.90" />
<text x="206.50" y="634.90" font-size="6.90" text-anchor="end" fill="#333">1.0</text>
<line x1="207.80" y1="616.05" x2="210.80" y2="616.05" stroke="#231f20" stroke-width="0.90" />
<text x="206.50" y="618.45" font-size="6.90" text-anchor="end" fill="#333">1.5</text>
<line x1="217.25" y1="632.50" x2="217.25" y2="626.58" stroke="#666" stroke-width="0.90" />
<line x1="215.05" y1="626.58" x2="219.45" y2="626.58" stroke="#666" stroke-width="0.90" />
<rect x="213.30" y="632.50" width="7.90" height="32.90" fill="#1c4f8d" />
<line x1="231.95" y1="652.90" x2="231.95" y2="649.94" stroke="#666" stroke-width="0.90" />
<line x1="229.75" y1="649.94" x2="234.15" y2="649.94" stroke="#666" stroke-width="0.90" />
<rect x="228.10" y="652.90" width="7.70" height="12.50" fill="#c8102e" />
<line x1="216.70" y1="616.20" x2="233.30" y2="616.20" stroke="#231f20" stroke-width="0.90" />
<line x1="216.70" y1="614.90" x2="216.70" y2="617.50" stroke="#231f20" stroke-width="0.90" />
<line x1="233.30" y1="614.90" x2="233.30" y2="617.50" stroke="#231f20" stroke-width="0.90" />
<text x="225.40" y="613.00" font-size="6.1" text-anchor="middle" fill="#333"><tspan font-style="italic">P</tspan> = .004</text>
<text x="222.20" y="636.30" font-size="6.10" fill="#333">N = 9</text>
<text x="220.20" y="603.40" font-size="9.00" text-anchor="middle" fill="#222">Cxcr4</text>
<text x="176.10" y="639.50" font-size="8.80" text-anchor="middle" fill="#333" textLength="48.00" lengthAdjust="spacingAndGlyphs" transform="rotate(-90.00 176.10 639.50)">Relative mRNA</text>
<text x="186.00" y="639.50" font-size="8.80" text-anchor="middle" fill="#333" textLength="40.00" lengthAdjust="spacingAndGlyphs" transform="rotate(-90.00 186.00 639.50)">fold-change</text>
<line x1="296.30" y1="613.00" x2="296.30" y2="665.80" stroke="#231f20" stroke-width="0.90" />
<line x1="295.90" y1="665.40" x2="331.00" y2="665.40" stroke="#231f20" stroke-width="0.90" />
<line x1="293.30" y1="665.40" x2="296.30" y2="665.40" stroke="#231f20" stroke-width="0.90" />
<text x="292.00" y="667.80" font-size="6.90" text-anchor="end" fill="#333">0.0</text>
<line x1="293.30" y1="652.92" x2="296.30" y2="652.92" stroke="#231f20" stroke-width="0.90" />
<text x="292.00" y="655.32" font-size="6.90" text-anchor="end" fill="#333">0.5</text>
<line x1="293.30" y1="640.45" x2="296.30" y2="640.45" stroke="#231f20" stroke-width="0.90" />
<text x="292.00" y="642.85" font-size="6.90" text-anchor="end" fill="#333">1.0</text>
<line x1="293.30" y1="627.98" x2="296.30" y2="627.98" stroke="#231f20" stroke-width="0.90" />
<text x="292.00" y="630.38" font-size="6.90" text-anchor="end" fill="#333">1.5</text>
<line x1="293.30" y1="615.50" x2="296.30" y2="615.50" stroke="#231f20" stroke-width="0.90" />
<text x="292.00" y="617.90" font-size="6.90" text-anchor="end" fill="#333">2.0</text>
<line x1="307.10" y1="640.45" x2="307.10" y2="624.23" stroke="#666" stroke-width="0.90" />
<line x1="304.90" y1="624.23" x2="309.30" y2="624.23" stroke="#666" stroke-width="0.90" />
<rect x="302.50" y="640.45" width="9.20" height="24.95" fill="#1c4f8d" />
<line x1="322.60" y1="663.65" x2="322.60" y2="661.66" stroke="#666" stroke-width="0.90" />
<line x1="320.40" y1="661.66" x2="324.80" y2="661.66" stroke="#666" stroke-width="0.90" />
<rect x="317.90" y="663.65" width="9.40" height="1.75" fill="#c8102e" />
<line x1="307.10" y1="615.00" x2="322.50" y2="615.00" stroke="#231f20" stroke-width="0.90" />
<line x1="307.10" y1="613.70" x2="307.10" y2="616.30" stroke="#231f20" stroke-width="0.90" />
<line x1="322.50" y1="613.70" x2="322.50" y2="616.30" stroke="#231f20" stroke-width="0.90" />
<text x="315.20" y="611.80" font-size="6.1" text-anchor="middle" fill="#333"><tspan font-style="italic">P</tspan> = .010</text>
<text x="312.20" y="636.30" font-size="6.10" fill="#333">N = 8</text>
<text x="313.80" y="603.40" font-size="9.00" text-anchor="middle" fill="#222">Itgb2l</text>
<text x="267.30" y="639.50" font-size="8.80" text-anchor="middle" fill="#333" textLength="48.00" lengthAdjust="spacingAndGlyphs" transform="rotate(-90.00 267.30 639.50)">Relative mRNA</text>
<text x="275.10" y="639.50" font-size="8.80" text-anchor="middle" fill="#333" textLength="40.00" lengthAdjust="spacingAndGlyphs" transform="rotate(-90.00 275.10 639.50)">fold-change</text>
<line x1="375.80" y1="613.40" x2="375.80" y2="665.80" stroke="#231f20" stroke-width="0.90" />
<line x1="375.40" y1="665.40" x2="411.00" y2="665.40" stroke="#231f20" stroke-width="0.90" />
<line x1="372.80" y1="665.40" x2="375.80" y2="665.40" stroke="#231f20" stroke-width="0.90" />
<text x="371.50" y="667.80" font-size="6.90" text-anchor="end" fill="#333">0.0</text>
<line x1="372.80" y1="648.90" x2="375.80" y2="648.90" stroke="#231f20" stroke-width="0.90" />
<text x="371.50" y="651.30" font-size="6.90" text-anchor="end" fill="#333">0.5</text>
<line x1="372.80" y1="632.40" x2="375.80" y2="632.40" stroke="#231f20" stroke-width="0.90" />
<text x="371.50" y="634.80" font-size="6.90" text-anchor="end" fill="#333">1.0</text>
<line x1="372.80" y1="615.90" x2="375.80" y2="615.90" stroke="#231f20" stroke-width="0.90" />
<text x="371.50" y="618.30" font-size="6.90" text-anchor="end" fill="#333">1.5</text>
<line x1="387.20" y1="632.40" x2="387.20" y2="617.55" stroke="#666" stroke-width="0.90" />
<line x1="385.00" y1="617.55" x2="389.40" y2="617.55" stroke="#666" stroke-width="0.90" />
<rect x="383.00" y="632.40" width="8.40" height="33.00" fill="#1c4f8d" />
<line x1="403.00" y1="659.79" x2="403.00" y2="657.48" stroke="#666" stroke-width="0.90" />
<line x1="400.80" y1="657.48" x2="405.20" y2="657.48" stroke="#666" stroke-width="0.90" />
<rect x="398.70" y="659.79" width="8.60" height="5.61" fill="#c8102e" />
<line x1="387.30" y1="614.60" x2="402.70" y2="614.60" stroke="#231f20" stroke-width="0.90" />
<line x1="387.30" y1="613.30" x2="387.30" y2="615.90" stroke="#231f20" stroke-width="0.90" />
<line x1="402.70" y1="613.30" x2="402.70" y2="615.90" stroke="#231f20" stroke-width="0.90" />
<text x="394.60" y="611.40" font-size="6.1" text-anchor="middle" fill="#333"><tspan font-style="italic">P</tspan> = .021</text>
<text x="393.50" y="636.30" font-size="6.10" fill="#333">N = 8</text>
<text x="393.30" y="603.40" font-size="9.00" text-anchor="middle" fill="#222">Rapgef3</text>
<text x="344.50" y="639.50" font-size="8.80" text-anchor="middle" fill="#333" textLength="48.00" lengthAdjust="spacingAndGlyphs" transform="rotate(-90.00 344.50 639.50)">Relative mRNA</text>
<text x="355.80" y="639.50" font-size="8.80" text-anchor="middle" fill="#333" textLength="40.00" lengthAdjust="spacingAndGlyphs" transform="rotate(-90.00 355.80 639.50)">fold-change</text>
<line x1="455.40" y1="612.50" x2="455.40" y2="665.80" stroke="#231f20" stroke-width="0.90" />
<line x1="455.00" y1="665.40" x2="491.00" y2="665.40" stroke="#231f20" stroke-width="0.90" />
<line x1="452.40" y1="665.40" x2="455.40" y2="665.40" stroke="#231f20" stroke-width="0.90" />
<text x="451.10" y="667.80" font-size="6.90" text-anchor="end" fill="#333">0.0</text>
<line x1="452.40" y1="648.60" x2="455.40" y2="648.60" stroke="#231f20" stroke-width="0.90" />
<text x="451.10" y="651.00" font-size="6.90" text-anchor="end" fill="#333">0.5</text>
<line x1="452.40" y1="631.80" x2="455.40" y2="631.80" stroke="#231f20" stroke-width="0.90" />
<text x="451.10" y="634.20" font-size="6.90" text-anchor="end" fill="#333">1.0</text>
<line x1="452.40" y1="615.00" x2="455.40" y2="615.00" stroke="#231f20" stroke-width="0.90" />
<text x="451.10" y="617.40" font-size="6.90" text-anchor="end" fill="#333">1.5</text>
<line x1="467.75" y1="631.80" x2="467.75" y2="625.08" stroke="#666" stroke-width="0.90" />
<line x1="465.55" y1="625.08" x2="469.95" y2="625.08" stroke="#666" stroke-width="0.90" />
<rect x="463.50" y="631.80" width="8.50" height="33.60" fill="#1c4f8d" />
<line x1="482.85" y1="650.28" x2="482.85" y2="647.26" stroke="#666" stroke-width="0.90" />
<line x1="480.65" y1="647.26" x2="485.05" y2="647.26" stroke="#666" stroke-width="0.90" />
<rect x="478.50" y="650.28" width="8.70" height="15.12" fill="#c8102e" />
<line x1="467.40" y1="615.10" x2="482.60" y2="615.10" stroke="#231f20" stroke-width="0.90" />
<line x1="467.40" y1="613.80" x2="467.40" y2="616.40" stroke="#231f20" stroke-width="0.90" />
<line x1="482.60" y1="613.80" x2="482.60" y2="616.40" stroke="#231f20" stroke-width="0.90" />
<text x="475.00" y="611.90" font-size="6.1" text-anchor="middle" fill="#333"><tspan font-style="italic">P</tspan> = .007</text>
<text x="474.00" y="636.30" font-size="6.10" fill="#333">N = 8</text>
<text x="473.40" y="603.40" font-size="9.00" text-anchor="middle" fill="#222">Cxcr4</text>
<text x="425.10" y="639.50" font-size="8.80" text-anchor="middle" fill="#333" textLength="48.00" lengthAdjust="spacingAndGlyphs" transform="rotate(-90.00 425.10 639.50)">Relative mRNA</text>
<text x="435.20" y="639.50" font-size="8.80" text-anchor="middle" fill="#333" textLength="40.00" lengthAdjust="spacingAndGlyphs" transform="rotate(-90.00 435.20 639.50)">fold-change</text>
<rect x="178.30" y="686.20" width="7.20" height="3.90" fill="#1c4f8d" />
<text x="188.00" y="690.60" font-size="6.60" font-style="italic" textLength="30.50" lengthAdjust="spacingAndGlyphs">Eμ-TCL1A</text>
<rect x="225.50" y="686.20" width="7.00" height="3.90" fill="#c8102e" />
<text x="236.30" y="690.60" font-size="6.60" font-style="italic" textLength="61.00" lengthAdjust="spacingAndGlyphs">iKdm1a<tspan font-size="4.29" dy="-2.31">KD</tspan><tspan dy="2.31">;Eμ-TCL1A</tspan></text>
<rect x="0.5" y="0.5" width="519" height="698" fill="none" stroke="#4d4d4d" stroke-width="1"/>
</svg>
</body></html>
